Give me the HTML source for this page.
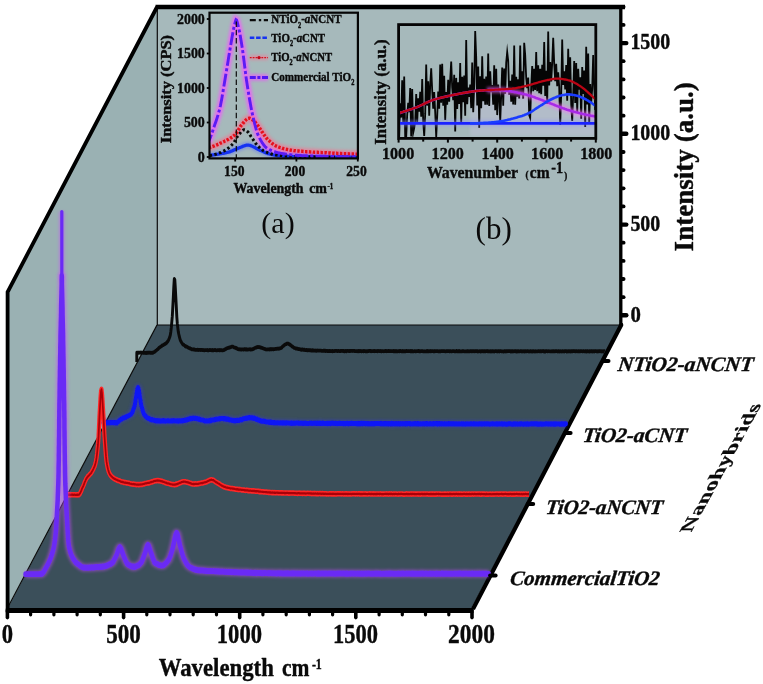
<!DOCTYPE html>
<html><head><meta charset="utf-8"><title>Raman</title>
<style>
html,body{margin:0;padding:0;background:#fff;}
svg{display:block;will-change:transform}
text{font-family:"Liberation Serif",serif;fill:#0a0a0a}
.b{font-weight:bold;stroke:#0a0a0a;stroke-width:0.4px;stroke-linejoin:round}
.bi{font-weight:bold;font-style:italic;stroke:#0a0a0a;stroke-width:0.4px;stroke-linejoin:round}
</style></head><body>
<svg width="763" height="684" viewBox="0 0 763 684">
<defs>
<filter id="bl" filterUnits="userSpaceOnUse" x="0" y="0" width="763" height="684"><feGaussianBlur stdDeviation="0.6"/></filter>
<filter id="bl2" filterUnits="userSpaceOnUse" x="0" y="0" width="763" height="684"><feGaussianBlur stdDeviation="1.6"/></filter>
</defs>
<rect width="763" height="684" fill="#fff"/>

<polygon points="7.5,292 157,6 157.5,6 157.5,330 100,609 7.5,609" fill="#9ab1b3"/>
<rect x="157" y="6" width="463.5" height="321" fill="#a6b9bb"/>
<polygon points="157,325 620.5,325 471,609 7.5,609" fill="#3b4f5a"/>
<path d="M157.3,6 V325 H620" fill="none" stroke="#0a0a0a" stroke-width="1.2"/>
<path d="M157,325 L7.5,608" fill="none" stroke="#0a0a0a" stroke-width="1.2"/>
<path d="M7.6,612 V292 L157,7 " fill="none" stroke="#000" stroke-width="3.8" stroke-linejoin="miter"/>
<path d="M620.8,5 V325" fill="none" stroke="#000" stroke-width="3.3"/>
<path d="M620.8,323.5 L621.2,325 L473,609" fill="none" stroke="#000" stroke-width="4.2" stroke-linejoin="round"/>
<path d="M155.5,7.1 H625" fill="none" stroke="#000" stroke-width="4.5"/>
<path d="M5.9,610.4 H473.5" fill="none" stroke="#000" stroke-width="5"/>
<path transform="scale(1,1.3)" d="M136.8,278.46 L136.8,271.32 L137.3,271.25 L137.8,271.44 L138.3,271.22 L138.8,271.40 L139.3,271.33 L139.8,271.21 L140.3,271.39 L140.8,271.21 L141.3,271.36 L141.8,271.22 L142.3,271.23 L142.8,271.36 L143.3,271.51 L143.8,271.24 L144.3,271.28 L144.8,271.43 L145.3,271.56 L145.8,271.41 L146.3,271.34 L146.8,271.57 L147.3,271.21 L147.8,271.52 L148.3,271.30 L148.8,271.25 L149.3,271.24 L149.8,271.31 L150.3,271.51 L150.8,271.26 L151.3,271.42 L151.8,271.44 L152.3,271.34 L152.8,271.38 L153.3,271.08 L153.8,270.88 L154.3,270.68 L154.8,270.55 L155.3,270.13 L155.8,269.75 L156.3,269.54 L156.8,269.19 L157.3,268.81 L157.8,268.66 L158.3,268.27 L158.8,267.74 L159.3,267.51 L159.8,267.16 L160.3,266.97 L160.8,266.63 L161.3,266.20 L161.8,266.23 L162.3,265.68 L162.8,265.59 L163.3,265.51 L163.8,265.07 L164.3,264.97 L164.8,264.56 L165.3,264.54 L165.8,264.28 L166.3,263.88 L166.8,263.62 L167.3,262.97 L167.8,262.60 L168.3,261.93 L168.8,261.16 L169.3,260.18 L169.8,259.21 L170.3,257.84 L170.8,255.27 L171.3,251.99 L171.8,247.66 L172.3,243.18 L172.8,236.03 L173.3,228.79 L173.8,220.71 L174.3,214.52 L174.8,215.14 L175.3,221.26 L175.8,228.49 L176.3,235.85 L176.8,243.55 L177.3,248.86 L177.8,252.26 L178.3,255.26 L178.8,257.14 L179.3,258.82 L179.8,260.27 L180.3,261.64 L180.8,262.31 L181.3,263.17 L181.8,263.75 L182.3,264.35 L182.8,264.75 L183.3,265.15 L183.8,265.26 L184.3,265.62 L184.8,265.88 L185.3,266.33 L185.8,266.60 L186.3,266.51 L186.8,266.73 L187.3,266.96 L187.8,267.16 L188.3,267.46 L188.8,267.68 L189.3,267.74 L189.8,267.81 L190.3,268.13 L190.8,268.25 L191.3,268.46 L191.8,268.72 L192.3,268.72 L192.8,268.73 L193.3,268.82 L193.8,268.90 L194.3,268.71 L194.8,269.08 L195.3,269.08 L195.8,269.16 L196.3,269.17 L196.8,269.06 L197.3,269.10 L197.8,269.02 L198.3,269.26 L198.8,269.07 L199.3,269.10 L199.8,269.18 L200.3,269.18 L200.8,269.27 L201.3,269.18 L201.8,269.17 L202.3,269.24 L202.8,269.23 L203.3,269.33 L203.8,269.20 L204.3,269.53 L204.8,269.43 L205.3,269.25 L205.8,269.29 L206.3,269.33 L206.8,269.33 L207.3,269.24 L207.8,269.52 L208.3,269.57 L208.8,269.37 L209.3,269.38 L209.8,269.23 L210.3,269.23 L210.8,269.32 L211.3,269.29 L211.8,269.51 L212.3,269.25 L212.8,269.20 L213.3,269.56 L213.8,269.40 L214.3,269.25 L214.8,269.40 L215.3,269.20 L215.8,269.40 L216.3,269.57 L216.8,269.52 L217.3,269.46 L217.8,269.29 L218.3,269.33 L218.8,269.26 L219.3,269.49 L219.8,269.40 L220.3,269.49 L220.8,269.32 L221.3,269.28 L221.8,269.50 L222.3,269.56 L222.8,269.47 L223.3,269.38 L223.8,269.28 L224.3,269.13 L224.8,268.78 L225.3,268.72 L225.8,268.48 L226.3,268.17 L226.8,267.97 L227.3,267.87 L227.8,267.67 L228.3,267.65 L228.8,267.58 L229.3,267.22 L229.8,267.26 L230.3,267.16 L230.8,267.05 L231.3,266.75 L231.8,266.66 L232.3,266.67 L232.8,266.70 L233.3,266.79 L233.8,267.06 L234.3,267.30 L234.8,267.43 L235.3,267.46 L235.8,267.70 L236.3,267.94 L236.8,267.84 L237.3,268.24 L237.8,268.49 L238.3,268.59 L238.8,268.69 L239.3,268.68 L239.8,268.62 L240.3,268.88 L240.8,268.70 L241.3,268.88 L241.8,268.95 L242.3,268.73 L242.8,268.73 L243.3,268.94 L243.8,268.86 L244.3,268.64 L244.8,268.63 L245.3,268.64 L245.8,268.92 L246.3,268.89 L246.8,268.63 L247.3,268.89 L247.8,268.95 L248.3,268.83 L248.8,268.71 L249.3,268.79 L249.8,268.63 L250.3,268.58 L250.8,268.95 L251.3,268.81 L251.8,268.70 L252.3,268.76 L252.8,268.45 L253.3,268.47 L253.8,268.30 L254.3,267.89 L254.8,267.73 L255.3,267.57 L255.8,267.39 L256.3,267.36 L256.8,267.10 L257.3,267.05 L257.8,266.85 L258.3,267.09 L258.8,266.87 L259.3,266.94 L259.8,267.05 L260.3,267.28 L260.8,267.22 L261.3,267.56 L261.8,267.57 L262.3,267.75 L262.8,267.93 L263.3,267.91 L263.8,268.24 L264.3,268.29 L264.8,268.35 L265.3,268.77 L265.8,268.60 L266.3,268.76 L266.8,268.86 L267.3,268.79 L267.8,268.69 L268.3,268.76 L268.8,268.77 L269.3,268.84 L269.8,268.57 L270.3,268.72 L270.8,268.59 L271.3,268.58 L271.8,268.74 L272.3,268.62 L272.8,268.61 L273.3,268.66 L273.8,268.68 L274.3,268.47 L274.8,268.50 L275.3,268.42 L275.8,268.38 L276.3,268.41 L276.8,268.27 L277.3,268.26 L277.8,268.19 L278.3,268.32 L278.8,268.17 L279.3,268.19 L279.8,268.16 L280.3,267.79 L280.8,267.73 L281.3,267.66 L281.8,267.35 L282.3,266.77 L282.8,266.44 L283.3,266.23 L283.8,265.74 L284.3,265.48 L284.8,265.10 L285.3,265.04 L285.8,264.83 L286.3,264.68 L286.8,264.25 L287.3,264.40 L287.8,264.38 L288.3,264.26 L288.8,264.69 L289.3,264.92 L289.8,264.87 L290.3,265.43 L290.8,265.52 L291.3,265.87 L291.8,266.39 L292.3,266.66 L292.8,266.72 L293.3,267.12 L293.8,267.43 L294.3,267.60 L294.8,267.73 L295.3,267.91 L295.8,268.16 L296.3,267.97 L296.8,268.26 L297.3,268.30 L297.8,268.21 L298.3,268.40 L298.8,268.59 L299.3,268.61 L299.8,268.50 L300.3,268.92 L300.8,268.90 L301.3,269.03 L301.8,268.75 L302.3,268.86 L302.8,268.82 L303.3,269.15 L303.8,268.99 L304.3,268.98 L304.8,269.13 L305.3,269.36 L305.8,269.36 L306.3,269.17 L306.8,269.16 L307.3,269.48 L307.8,269.38 L308.3,269.45 L308.8,269.24 L309.3,269.25 L309.8,269.52 L310.3,269.44 L310.8,269.33 L311.3,269.68 L311.8,269.59 L312.3,269.67 L312.8,269.42 L313.3,269.73 L313.8,269.45 L314.3,269.78 L314.8,269.64 L315.3,269.62 L315.8,269.72 L316.3,269.88 L316.8,269.64 L317.3,269.61 L317.8,269.78 L318.3,269.68 L318.8,269.65 L319.3,269.68 L319.8,269.66 L320.3,269.73 L320.8,269.79 L321.3,269.80 L321.8,269.98 L322.3,269.82 L322.8,269.91 L323.3,269.79 L323.8,269.87 L324.3,269.75 L324.8,269.85 L325.3,269.77 L325.8,270.05 L326.3,269.99 L326.8,269.86 L327.3,269.97 L327.8,270.15 L328.3,269.84 L328.8,270.12 L329.3,269.97 L329.8,270.00 L330.3,270.13 L330.8,269.96 L331.3,270.01 L331.8,270.08 L332.3,270.19 L332.8,269.95 L333.3,270.14 L333.8,270.09 L334.3,270.06 L334.8,269.97 L335.3,269.95 L335.8,269.84 L336.3,269.87 L336.8,269.85 L337.3,270.11 L337.8,269.92 L338.3,269.89 L338.8,269.86 L339.3,270.15 L339.8,270.16 L340.3,270.09 L340.8,269.94 L341.3,269.93 L341.8,269.95 L342.3,270.01 L342.8,269.90 L343.3,270.01 L343.8,269.94 L344.3,270.21 L344.8,270.21 L345.3,270.05 L345.8,269.94 L346.3,270.21 L346.8,269.96 L347.3,269.98 L347.8,269.85 L348.3,269.99 L348.8,270.03 L349.3,270.04 L349.8,269.93 L350.3,270.04 L350.8,269.85 L351.3,269.95 L351.8,269.89 L352.3,270.01 L352.8,269.87 L353.3,269.86 L353.8,269.97 L354.3,269.95 L354.8,270.08 L355.3,270.06 L355.8,270.15 L356.3,270.11 L356.8,270.14 L357.3,270.20 L357.8,270.01 L358.3,269.99 L358.8,270.25 L359.3,269.92 L359.8,270.15 L360.3,270.12 L360.8,269.89 L361.3,270.19 L361.8,270.21 L362.3,270.11 L362.8,270.16 L363.3,270.19 L363.8,269.93 L364.3,270.08 L364.8,270.07 L365.3,270.20 L365.8,270.19 L366.3,270.20 L366.8,270.11 L367.3,270.22 L367.8,270.14 L368.3,270.15 L368.8,269.97 L369.3,269.90 L369.8,269.94 L370.3,270.03 L370.8,269.93 L371.3,270.21 L371.8,270.10 L372.3,270.13 L372.8,270.13 L373.3,270.15 L373.8,270.08 L374.3,269.89 L374.8,270.20 L375.3,270.18 L375.8,270.09 L376.3,270.10 L376.8,270.15 L377.3,269.92 L377.8,270.18 L378.3,270.00 L378.8,269.93 L379.3,270.00 L379.8,270.18 L380.3,269.98 L380.8,270.19 L381.3,270.28 L381.8,270.10 L382.3,270.05 L382.8,270.09 L383.3,270.17 L383.8,270.20 L384.3,270.15 L384.8,270.16 L385.3,269.94 L385.8,269.97 L386.3,270.01 L386.8,270.20 L387.3,270.03 L387.8,270.13 L388.3,269.92 L388.8,269.94 L389.3,270.02 L389.8,270.18 L390.3,270.18 L390.8,270.18 L391.3,270.03 L391.8,270.12 L392.3,270.10 L392.8,270.10 L393.3,269.97 L393.8,270.27 L394.3,270.00 L394.8,270.30 L395.3,270.29 L395.8,269.93 L396.3,270.10 L396.8,270.24 L397.3,270.30 L397.8,270.10 L398.3,270.03 L398.8,270.01 L399.3,270.29 L399.8,270.01 L400.3,270.16 L400.8,269.99 L401.3,270.14 L401.8,270.30 L402.3,269.99 L402.8,270.25 L403.3,270.13 L403.8,270.28 L404.3,270.21 L404.8,270.03 L405.3,270.28 L405.8,270.13 L406.3,269.95 L406.8,269.94 L407.3,270.13 L407.8,270.12 L408.3,270.06 L408.8,270.00 L409.3,270.08 L409.8,270.07 L410.3,270.27 L410.8,269.95 L411.3,270.24 L411.8,270.27 L412.3,269.99 L412.8,270.30 L413.3,270.22 L413.8,270.30 L414.3,270.06 L414.8,270.09 L415.3,270.10 L415.8,270.34 L416.3,270.18 L416.8,270.09 L417.3,270.12 L417.8,270.06 L418.3,269.97 L418.8,269.99 L419.3,270.28 L419.8,270.07 L420.3,270.32 L420.8,270.05 L421.3,270.06 L421.8,270.16 L422.3,270.03 L422.8,270.10 L423.3,270.33 L423.8,270.30 L424.3,270.27 L424.8,270.20 L425.3,270.31 L425.8,270.32 L426.3,270.17 L426.8,270.24 L427.3,269.98 L427.8,270.25 L428.3,270.14 L428.8,270.26 L429.3,270.21 L429.8,270.08 L430.3,269.99 L430.8,270.32 L431.3,270.02 L431.8,270.15 L432.3,270.10 L432.8,270.08 L433.3,270.26 L433.8,270.35 L434.3,270.07 L434.8,270.22 L435.3,270.09 L435.8,270.19 L436.3,270.13 L436.8,270.04 L437.3,270.04 L437.8,270.06 L438.3,270.32 L438.8,270.17 L439.3,270.06 L439.8,270.33 L440.3,270.36 L440.8,270.15 L441.3,270.03 L441.8,270.05 L442.3,270.01 L442.8,270.11 L443.3,270.02 L443.8,270.07 L444.3,270.08 L444.8,270.20 L445.3,270.32 L445.8,270.27 L446.3,270.14 L446.8,270.14 L447.3,270.19 L447.8,270.13 L448.3,270.11 L448.8,270.01 L449.3,270.09 L449.8,270.36 L450.3,270.03 L450.8,270.18 L451.3,270.23 L451.8,270.32 L452.3,270.07 L452.8,270.09 L453.3,270.08 L453.8,270.14 L454.3,270.16 L454.8,270.36 L455.3,270.32 L455.8,270.33 L456.3,270.00 L456.8,270.00 L457.3,270.27 L457.8,270.34 L458.3,270.18 L458.8,270.22 L459.3,269.99 L459.8,270.14 L460.3,270.35 L460.8,270.31 L461.3,270.32 L461.8,270.37 L462.3,270.09 L462.8,270.04 L463.3,270.06 L463.8,270.20 L464.3,270.26 L464.8,270.36 L465.3,270.28 L465.8,270.25 L466.3,270.29 L466.8,270.18 L467.3,270.21 L467.8,270.02 L468.3,270.30 L468.8,270.09 L469.3,270.35 L469.8,270.25 L470.3,270.12 L470.8,270.05 L471.3,270.10 L471.8,270.25 L472.3,270.27 L472.8,270.05 L473.3,270.03 L473.8,270.21 L474.3,270.23 L474.8,270.15 L475.3,270.09 L475.8,270.24 L476.3,270.01 L476.8,270.12 L477.3,270.18 L477.8,270.38 L478.3,270.25 L478.8,270.35 L479.3,270.19 L479.8,270.10 L480.3,270.10 L480.8,270.38 L481.3,270.28 L481.8,270.13 L482.3,270.02 L482.8,270.20 L483.3,270.27 L483.8,270.17 L484.3,270.11 L484.8,270.27 L485.3,270.37 L485.8,270.10 L486.3,270.02 L486.8,270.14 L487.3,270.17 L487.8,270.27 L488.3,270.09 L488.8,270.32 L489.3,270.30 L489.8,270.21 L490.3,270.09 L490.8,270.39 L491.3,270.13 L491.8,270.33 L492.3,270.10 L492.8,270.10 L493.3,270.31 L493.8,270.13 L494.3,270.38 L494.8,270.21 L495.3,270.09 L495.8,270.10 L496.3,270.18 L496.8,270.27 L497.3,270.38 L497.8,270.07 L498.3,270.17 L498.8,270.10 L499.3,270.39 L499.8,270.07 L500.3,270.04 L500.8,270.04 L501.3,270.17 L501.8,270.36 L502.3,270.36 L502.8,270.30 L503.3,270.40 L503.8,270.38 L504.3,270.15 L504.8,270.09 L505.3,270.38 L505.8,270.31 L506.3,270.03 L506.8,270.28 L507.3,270.17 L507.8,270.17 L508.3,270.15 L508.8,270.09 L509.3,270.02 L509.8,270.13 L510.3,270.16 L510.8,270.39 L511.3,270.07 L511.8,270.39 L512.3,270.10 L512.8,270.16 L513.3,270.34 L513.8,270.34 L514.3,270.19 L514.8,270.04 L515.3,270.21 L515.8,270.17 L516.3,270.38 L516.8,270.10 L517.3,270.17 L517.8,270.37 L518.3,270.04 L518.8,270.18 L519.3,270.34 L519.8,270.32 L520.3,270.04 L520.8,270.04 L521.3,270.05 L521.8,270.38 L522.3,270.13 L522.8,270.31 L523.3,270.37 L523.8,270.16 L524.3,270.13 L524.8,270.40 L525.3,270.27 L525.8,270.13 L526.3,270.30 L526.8,270.15 L527.3,270.13 L527.8,270.03 L528.3,270.32 L528.8,270.38 L529.3,270.27 L529.8,270.39 L530.3,270.04 L530.8,270.12 L531.3,270.21 L531.8,270.40 L532.3,270.40 L532.8,270.18 L533.3,270.13 L533.8,270.20 L534.3,270.22 L534.8,270.39 L535.3,270.10 L535.8,270.34 L536.3,270.32 L536.8,270.35 L537.3,270.33 L537.8,270.27 L538.3,270.16 L538.8,270.15 L539.3,270.17 L539.8,270.33 L540.3,270.06 L540.8,270.11 L541.3,270.32 L541.8,270.13 L542.3,270.06 L542.8,270.05 L543.3,270.25 L543.8,270.16 L544.3,270.41 L544.8,270.37 L545.3,270.41 L545.8,270.14 L546.3,270.07 L546.8,270.07 L547.3,270.23 L547.8,270.31 L548.3,270.21 L548.8,270.12 L549.3,270.19 L549.8,270.27 L550.3,270.29 L550.8,270.32 L551.3,270.36 L551.8,270.29 L552.3,270.08 L552.8,270.36 L553.3,270.15 L553.8,270.25 L554.3,270.18 L554.8,270.32 L555.3,270.11 L555.8,270.13 L556.3,270.13 L556.8,270.09 L557.3,270.38 L557.8,270.26 L558.3,270.16 L558.8,270.19 L559.3,270.42 L559.8,270.23 L560.3,270.12 L560.8,270.35 L561.3,270.29 L561.8,270.42 L562.3,270.08 L562.8,270.22 L563.3,270.35 L563.8,270.36 L564.3,270.39 L564.8,270.05 L565.3,270.15 L565.8,270.08 L566.3,270.11 L566.8,270.41 L567.3,270.26 L567.8,270.39 L568.3,270.18 L568.8,270.37 L569.3,270.21 L569.8,270.14 L570.3,270.34 L570.8,270.40 L571.3,270.08 L571.8,270.27 L572.3,270.28 L572.8,270.12 L573.3,270.18 L573.8,270.09 L574.3,270.12 L574.8,270.14 L575.3,270.27 L575.8,270.29 L576.3,270.12 L576.8,270.04 L577.3,270.16 L577.8,270.30 L578.3,270.11 L578.8,270.16 L579.3,270.12 L579.8,270.34 L580.3,270.25 L580.8,270.06 L581.3,270.08 L581.8,270.19 L582.3,270.25 L582.8,270.28 L583.3,270.07 L583.8,270.10 L584.3,270.31 L584.8,270.20 L585.3,270.15 L585.8,270.16 L586.3,270.40 L586.8,270.16 L587.3,270.26 L587.8,270.18 L588.3,270.20 L588.8,270.37 L589.3,270.42 L589.8,270.18 L590.3,270.11 L590.8,270.32 L591.3,270.12 L591.8,270.04 L592.3,270.39 L592.8,270.20 L593.3,270.35 L593.8,270.19 L594.3,270.38 L594.8,270.22 L595.3,270.10 L595.8,270.04 L596.3,270.25 L596.8,270.28 L597.3,270.39 L597.8,270.07 L598.3,270.28 L598.8,270.18 L599.3,270.23 L599.8,270.09 L600.3,270.15 L600.8,270.24 L601.3,270.39 L601.8,270.08 L602.3,270.23 L602.8,270.35 L603.3,270.41 L603.8,270.11 L604.3,270.09 L604.8,270.40" fill="none" stroke="#0a0a0a" stroke-width="2.9" stroke-linejoin="round"/>
<path d="M103.5,423.0 L104.0,422.7 L104.5,422.4 L105.0,423.0 L105.5,422.6 L106.0,422.9 L106.5,422.8 L107.0,422.9 L107.5,422.5 L108.0,422.9 L108.5,422.5 L109.0,422.6 L109.5,422.9 L110.0,422.9 L110.5,422.5 L111.0,422.5 L111.5,422.6 L112.0,422.7 L112.5,422.6 L113.0,422.5 L113.5,422.5 L114.0,422.8 L114.5,422.9 L115.0,422.4 L115.5,422.7 L116.0,422.9 L116.5,422.4 L117.0,422.8 L117.5,422.1 L118.0,422.0 L118.5,421.5 L119.0,421.0 L119.5,420.3 L120.0,419.9 L120.5,419.6 L121.0,419.3 L121.5,419.1 L122.0,418.7 L122.5,418.5 L123.0,418.0 L123.5,418.1 L124.0,417.8 L124.5,417.5 L125.0,417.5 L125.5,417.3 L126.0,416.9 L126.5,416.5 L127.0,416.4 L127.5,416.0 L128.0,415.8 L128.5,415.8 L129.0,415.4 L129.5,415.3 L130.0,415.1 L130.5,414.4 L131.0,414.4 L131.5,413.5 L132.0,413.0 L132.5,412.0 L133.0,410.6 L133.5,409.0 L134.0,407.7 L134.5,406.1 L135.0,404.1 L135.5,400.6 L136.0,397.5 L136.5,394.2 L137.0,391.0 L137.5,388.9 L138.0,387.4 L138.5,388.5 L139.0,390.5 L139.5,394.1 L140.0,397.8 L140.5,400.9 L141.0,404.0 L141.5,406.2 L142.0,407.7 L142.5,409.8 L143.0,411.8 L143.5,412.9 L144.0,414.4 L144.5,414.7 L145.0,415.7 L145.5,415.9 L146.0,416.7 L146.5,417.4 L147.0,417.5 L147.5,417.9 L148.0,418.3 L148.5,418.5 L149.0,418.6 L149.5,418.8 L150.0,419.0 L150.5,419.6 L151.0,419.6 L151.5,419.9 L152.0,419.6 L152.5,420.1 L153.0,419.8 L153.5,420.2 L154.0,420.3 L154.5,420.3 L155.0,420.7 L155.5,420.6 L156.0,420.7 L156.5,420.9 L157.0,420.5 L157.5,421.1 L158.0,420.9 L158.5,420.8 L159.0,421.1 L159.5,420.8 L160.0,421.2 L160.5,420.9 L161.0,420.8 L161.5,421.1 L162.0,420.9 L162.5,420.7 L163.0,421.0 L163.5,420.6 L164.0,421.1 L164.5,420.8 L165.0,421.0 L165.5,421.2 L166.0,421.0 L166.5,421.0 L167.0,420.8 L167.5,420.6 L168.0,420.6 L168.5,420.7 L169.0,421.0 L169.5,420.9 L170.0,420.9 L170.5,421.1 L171.0,420.7 L171.5,420.7 L172.0,421.0 L172.5,420.6 L173.0,420.6 L173.5,420.8 L174.0,420.7 L174.5,420.8 L175.0,420.7 L175.5,421.0 L176.0,421.0 L176.5,420.7 L177.0,421.0 L177.5,420.9 L178.0,420.7 L178.5,421.2 L179.0,420.7 L179.5,420.7 L180.0,420.7 L180.5,421.0 L181.0,421.1 L181.5,421.0 L182.0,420.8 L182.5,420.6 L183.0,420.4 L183.5,420.7 L184.0,420.5 L184.5,420.3 L185.0,420.4 L185.5,420.1 L186.0,420.3 L186.5,420.0 L187.0,419.6 L187.5,419.8 L188.0,419.1 L188.5,419.3 L189.0,419.1 L189.5,418.8 L190.0,418.6 L190.5,418.9 L191.0,418.3 L191.5,418.6 L192.0,418.7 L192.5,418.2 L193.0,418.2 L193.5,418.4 L194.0,418.3 L194.5,418.4 L195.0,418.5 L195.5,418.2 L196.0,418.4 L196.5,418.4 L197.0,418.4 L197.5,419.0 L198.0,419.1 L198.5,419.2 L199.0,418.9 L199.5,419.5 L200.0,419.6 L200.5,419.6 L201.0,419.9 L201.5,419.9 L202.0,419.9 L202.5,420.0 L203.0,420.2 L203.5,420.2 L204.0,420.5 L204.5,420.8 L205.0,420.9 L205.5,421.0 L206.0,421.0 L206.5,420.7 L207.0,420.9 L207.5,420.9 L208.0,421.0 L208.5,420.8 L209.0,420.6 L209.5,420.8 L210.0,420.9 L210.5,420.4 L211.0,420.7 L211.5,420.1 L212.0,420.1 L212.5,420.0 L213.0,420.1 L213.5,420.1 L214.0,419.9 L214.5,419.5 L215.0,419.7 L215.5,419.3 L216.0,419.1 L216.5,419.4 L217.0,419.1 L217.5,419.0 L218.0,418.9 L218.5,419.0 L219.0,418.7 L219.5,418.8 L220.0,418.7 L220.5,418.7 L221.0,418.5 L221.5,418.6 L222.0,418.6 L222.5,418.4 L223.0,418.4 L223.5,418.7 L224.0,418.4 L224.5,419.0 L225.0,418.6 L225.5,418.6 L226.0,418.8 L226.5,419.4 L227.0,419.1 L227.5,419.1 L228.0,419.1 L228.5,419.2 L229.0,419.7 L229.5,419.8 L230.0,420.0 L230.5,420.1 L231.0,419.8 L231.5,420.2 L232.0,420.1 L232.5,420.5 L233.0,420.6 L233.5,420.7 L234.0,420.2 L234.5,420.8 L235.0,420.8 L235.5,420.9 L236.0,420.4 L236.5,420.4 L237.0,420.3 L237.5,420.2 L238.0,420.6 L238.5,420.5 L239.0,420.3 L239.5,420.3 L240.0,420.1 L240.5,419.8 L241.0,419.5 L241.5,419.4 L242.0,419.6 L242.5,419.2 L243.0,419.1 L243.5,419.0 L244.0,418.6 L244.5,418.6 L245.0,418.5 L245.5,418.6 L246.0,418.2 L246.5,418.1 L247.0,418.4 L247.5,418.0 L248.0,418.1 L248.5,417.9 L249.0,417.5 L249.5,417.7 L250.0,417.7 L250.5,417.9 L251.0,417.6 L251.5,417.9 L252.0,417.9 L252.5,417.8 L253.0,418.3 L253.5,417.9 L254.0,418.5 L254.5,418.3 L255.0,418.4 L255.5,418.7 L256.0,419.2 L256.5,419.5 L257.0,419.1 L257.5,419.6 L258.0,419.8 L258.5,420.2 L259.0,420.0 L259.5,420.3 L260.0,420.4 L260.5,420.8 L261.0,420.6 L261.5,421.2 L262.0,420.9 L262.5,420.9 L263.0,421.3 L263.5,421.3 L264.0,421.1 L264.5,421.5 L265.0,421.3 L265.5,421.8 L266.0,421.8 L266.5,421.9 L267.0,421.9 L267.5,421.8 L268.0,421.9 L268.5,422.0 L269.0,422.4 L269.5,422.0 L270.0,422.5 L270.5,422.1 L271.0,422.2 L271.5,422.3 L272.0,422.7 L272.5,422.5 L273.0,422.5 L273.5,422.9 L274.0,422.5 L274.5,422.7 L275.0,422.7 L275.5,422.9 L276.0,422.9 L276.5,422.8 L277.0,422.7 L277.5,422.7 L278.0,422.6 L278.5,423.0 L279.0,422.9 L279.5,423.0 L280.0,422.7 L280.5,422.8 L281.0,423.1 L281.5,423.0 L282.0,422.7 L282.5,422.9 L283.0,423.2 L283.5,422.8 L284.0,422.8 L284.5,422.9 L285.0,423.1 L285.5,423.2 L286.0,422.8 L286.5,422.8 L287.0,422.9 L287.5,422.9 L288.0,423.1 L288.5,422.9 L289.0,423.0 L289.5,422.9 L290.0,423.4 L290.5,423.2 L291.0,422.9 L291.5,423.4 L292.0,422.9 L292.5,423.1 L293.0,423.4 L293.5,423.3 L294.0,423.3 L294.5,423.1 L295.0,423.0 L295.5,423.2 L296.0,422.9 L296.5,423.0 L297.0,423.1 L297.5,422.9 L298.0,423.1 L298.5,423.4 L299.0,423.3 L299.5,423.2 L300.0,423.3 L300.5,423.2 L301.0,423.0 L301.5,423.3 L302.0,423.2 L302.5,423.4 L303.0,423.5 L303.5,423.2 L304.0,423.3 L304.5,423.4 L305.0,423.2 L305.5,423.1 L306.0,423.4 L306.5,423.5 L307.0,423.4 L307.5,423.4 L308.0,423.5 L308.5,423.4 L309.0,423.3 L309.5,423.2 L310.0,423.2 L310.5,423.3 L311.0,423.0 L311.5,423.2 L312.0,423.4 L312.5,423.4 L313.0,423.4 L313.5,423.1 L314.0,423.2 L314.5,423.3 L315.0,423.4 L315.5,423.2 L316.0,423.4 L316.5,423.6 L317.0,423.1 L317.5,423.4 L318.0,423.5 L318.5,423.2 L319.0,423.3 L319.5,423.6 L320.0,423.0 L320.5,423.4 L321.0,423.1 L321.5,423.5 L322.0,423.6 L322.5,423.4 L323.0,423.1 L323.5,423.4 L324.0,423.4 L324.5,423.5 L325.0,423.4 L325.5,423.4 L326.0,423.6 L326.5,423.4 L327.0,423.3 L327.5,423.6 L328.0,423.2 L328.5,423.5 L329.0,423.3 L329.5,423.5 L330.0,423.2 L330.5,423.7 L331.0,423.3 L331.5,423.1 L332.0,423.3 L332.5,423.3 L333.0,423.1 L333.5,423.4 L334.0,423.4 L334.5,423.5 L335.0,423.3 L335.5,423.3 L336.0,423.3 L336.5,423.6 L337.0,423.7 L337.5,423.4 L338.0,423.3 L338.5,423.6 L339.0,423.4 L339.5,423.3 L340.0,423.2 L340.5,423.6 L341.0,423.6 L341.5,423.5 L342.0,423.4 L342.5,423.5 L343.0,423.3 L343.5,423.7 L344.0,423.4 L344.5,423.5 L345.0,423.7 L345.5,423.7 L346.0,423.5 L346.5,423.3 L347.0,423.5 L347.5,423.3 L348.0,423.7 L348.5,423.4 L349.0,423.7 L349.5,423.3 L350.0,423.4 L350.5,423.3 L351.0,423.5 L351.5,423.3 L352.0,423.2 L352.5,423.6 L353.0,423.4 L353.5,423.4 L354.0,423.4 L354.5,423.5 L355.0,423.5 L355.5,423.6 L356.0,423.6 L356.5,423.4 L357.0,423.8 L357.5,423.7 L358.0,423.3 L358.5,423.7 L359.0,423.8 L359.5,423.7 L360.0,423.3 L360.5,423.7 L361.0,423.6 L361.5,423.3 L362.0,423.3 L362.5,423.8 L363.0,423.6 L363.5,423.4 L364.0,423.3 L364.5,423.3 L365.0,423.4 L365.5,423.7 L366.0,423.5 L366.5,423.4 L367.0,423.8 L367.5,423.8 L368.0,423.4 L368.5,423.8 L369.0,423.6 L369.5,423.8 L370.0,423.7 L370.5,423.8 L371.0,423.8 L371.5,423.8 L372.0,423.4 L372.5,423.7 L373.0,423.6 L373.5,423.7 L374.0,423.6 L374.5,423.8 L375.0,423.6 L375.5,423.5 L376.0,423.5 L376.5,423.4 L377.0,423.6 L377.5,423.4 L378.0,423.6 L378.5,423.4 L379.0,423.6 L379.5,423.6 L380.0,423.7 L380.5,423.9 L381.0,423.3 L381.5,423.8 L382.0,423.6 L382.5,423.7 L383.0,423.7 L383.5,423.8 L384.0,423.6 L384.5,423.6 L385.0,423.9 L385.5,423.4 L386.0,423.7 L386.5,423.7 L387.0,423.4 L387.5,423.7 L388.0,423.8 L388.5,423.9 L389.0,423.6 L389.5,424.0 L390.0,423.7 L390.5,423.7 L391.0,423.9 L391.5,423.4 L392.0,423.8 L392.5,423.8 L393.0,423.6 L393.5,423.9 L394.0,423.6 L394.5,423.7 L395.0,423.7 L395.5,423.9 L396.0,423.5 L396.5,423.7 L397.0,423.7 L397.5,423.7 L398.0,423.9 L398.5,423.6 L399.0,423.9 L399.5,423.7 L400.0,423.7 L400.5,423.6 L401.0,423.7 L401.5,424.0 L402.0,423.8 L402.5,423.9 L403.0,423.6 L403.5,423.6 L404.0,423.6 L404.5,423.8 L405.0,423.8 L405.5,423.9 L406.0,423.5 L406.5,423.9 L407.0,424.0 L407.5,423.8 L408.0,423.5 L408.5,423.6 L409.0,423.4 L409.5,423.6 L410.0,424.0 L410.5,423.8 L411.0,423.8 L411.5,423.9 L412.0,424.0 L412.5,423.8 L413.0,423.8 L413.5,423.8 L414.0,423.9 L414.5,423.8 L415.0,423.9 L415.5,423.6 L416.0,423.9 L416.5,423.7 L417.0,423.9 L417.5,423.5 L418.0,423.6 L418.5,423.5 L419.0,423.9 L419.5,424.0 L420.0,423.9 L420.5,423.7 L421.0,424.0 L421.5,424.0 L422.0,423.8 L422.5,423.6 L423.0,423.7 L423.5,423.7 L424.0,423.7 L424.5,423.8 L425.0,423.9 L425.5,424.1 L426.0,423.5 L426.5,423.8 L427.0,423.5 L427.5,423.6 L428.0,424.0 L428.5,423.9 L429.0,424.1 L429.5,423.8 L430.0,423.5 L430.5,423.7 L431.0,423.9 L431.5,424.1 L432.0,424.1 L432.5,423.8 L433.0,423.8 L433.5,423.6 L434.0,423.9 L434.5,423.7 L435.0,423.6 L435.5,423.5 L436.0,423.5 L436.5,423.9 L437.0,423.6 L437.5,424.1 L438.0,423.6 L438.5,424.1 L439.0,423.6 L439.5,423.5 L440.0,424.0 L440.5,423.7 L441.0,424.0 L441.5,423.7 L442.0,423.6 L442.5,424.0 L443.0,424.0 L443.5,424.1 L444.0,424.0 L444.5,423.6 L445.0,423.9 L445.5,424.0 L446.0,423.8 L446.5,424.1 L447.0,423.7 L447.5,424.1 L448.0,424.0 L448.5,423.6 L449.0,423.6 L449.5,424.0 L450.0,424.1 L450.5,423.6 L451.0,423.8 L451.5,424.0 L452.0,423.7 L452.5,424.1 L453.0,423.9 L453.5,423.6 L454.0,423.8 L454.5,423.9 L455.0,423.8 L455.5,424.0 L456.0,423.7 L456.5,424.1 L457.0,423.8 L457.5,424.0 L458.0,424.0 L458.5,423.8 L459.0,423.8 L459.5,424.1 L460.0,424.2 L460.5,424.1 L461.0,423.9 L461.5,423.8 L462.0,423.6 L462.5,424.2 L463.0,424.0 L463.5,424.1 L464.0,423.8 L464.5,424.0 L465.0,424.2 L465.5,424.1 L466.0,424.0 L466.5,423.8 L467.0,423.9 L467.5,424.1 L468.0,423.8 L468.5,424.0 L469.0,424.0 L469.5,424.1 L470.0,424.1 L470.5,423.8 L471.0,423.6 L471.5,423.8 L472.0,423.9 L472.5,424.0 L473.0,424.1 L473.5,424.1 L474.0,423.6 L474.5,424.1 L475.0,424.1 L475.5,424.1 L476.0,424.0 L476.5,423.8 L477.0,424.1 L477.5,424.1 L478.0,424.0 L478.5,424.2 L479.0,423.8 L479.5,423.7 L480.0,424.0 L480.5,424.1 L481.0,423.7 L481.5,424.1 L482.0,424.2 L482.5,423.8 L483.0,424.0 L483.5,424.0 L484.0,423.9 L484.5,423.8 L485.0,423.8 L485.5,424.1 L486.0,424.1 L486.5,423.9 L487.0,423.7 L487.5,424.1 L488.0,424.1 L488.5,423.8 L489.0,424.0 L489.5,424.2 L490.0,424.2 L490.5,424.0 L491.0,423.9 L491.5,424.0 L492.0,423.8 L492.5,423.8 L493.0,423.8 L493.5,424.1 L494.0,423.9 L494.5,424.0 L495.0,423.9 L495.5,424.0 L496.0,423.7 L496.5,423.7 L497.0,424.3 L497.5,423.9 L498.0,423.7 L498.5,424.0 L499.0,424.1 L499.5,423.8 L500.0,424.0 L500.5,423.9 L501.0,424.0 L501.5,423.7 L502.0,423.7 L502.5,424.3 L503.0,424.2 L503.5,424.0 L504.0,424.0 L504.5,423.8 L505.0,424.1 L505.5,423.9 L506.0,424.2 L506.5,424.1 L507.0,424.2 L507.5,424.2 L508.0,423.8 L508.5,423.7 L509.0,423.8 L509.5,423.8 L510.0,423.7 L510.5,423.7 L511.0,424.0 L511.5,424.2 L512.0,423.9 L512.5,424.2 L513.0,424.2 L513.5,423.7 L514.0,424.0 L514.5,423.9 L515.0,423.7 L515.5,424.3 L516.0,423.8 L516.5,424.0 L517.0,424.1 L517.5,424.3 L518.0,424.1 L518.5,423.9 L519.0,423.9 L519.5,423.8 L520.0,424.3 L520.5,424.3 L521.0,423.8 L521.5,423.7 L522.0,423.8 L522.5,423.9 L523.0,424.2 L523.5,424.2 L524.0,424.2 L524.5,423.7 L525.0,424.2 L525.5,424.1 L526.0,424.1 L526.5,424.3 L527.0,423.7 L527.5,423.8 L528.0,424.1 L528.5,424.3 L529.0,424.1 L529.5,423.9 L530.0,424.0 L530.5,424.1 L531.0,423.8 L531.5,423.9 L532.0,423.8 L532.5,423.8 L533.0,424.0 L533.5,423.8 L534.0,423.8 L534.5,423.8 L535.0,424.1 L535.5,423.7 L536.0,424.1 L536.5,423.8 L537.0,423.7 L537.5,424.2 L538.0,423.8 L538.5,424.3 L539.0,424.2 L539.5,424.2 L540.0,423.8 L540.5,424.0 L541.0,423.8 L541.5,424.3 L542.0,424.2 L542.5,424.1 L543.0,424.0 L543.5,423.9 L544.0,424.2 L544.5,424.0 L545.0,424.1 L545.5,423.8 L546.0,423.8 L546.5,423.7 L547.0,424.1 L547.5,424.0 L548.0,423.8 L548.5,424.2 L549.0,423.9 L549.5,423.9 L550.0,423.8 L550.5,423.9 L551.0,424.2 L551.5,423.9 L552.0,423.8 L552.5,424.0 L553.0,423.9 L553.5,424.2 L554.0,423.8 L554.5,424.3 L555.0,423.7 L555.5,424.2 L556.0,424.1 L556.5,423.8 L557.0,424.0 L557.5,423.9 L558.0,423.9 L558.5,423.8 L559.0,423.9 L559.5,424.3 L560.0,424.3 L560.5,424.3 L561.0,423.8 L561.5,423.9 L562.0,424.2 L562.5,423.7 L563.0,424.1 L563.5,423.9 L564.0,424.3 L564.5,423.7 L565.0,424.2 L565.5,423.9 L566.0,423.8" fill="none" stroke="#3030ee" stroke-width="6.5" stroke-linejoin="round" opacity="0.5" filter="url(#bl2)"/>
<g filter="url(#bl)"><path transform="scale(1,1.3)" d="M103.5,325.37 L104.0,325.15 L104.5,324.95 L105.0,325.35 L105.5,325.10 L106.0,325.34 L106.5,325.21 L107.0,325.30 L107.5,325.00 L108.0,325.29 L108.5,325.03 L109.0,325.11 L109.5,325.31 L110.0,325.31 L110.5,325.01 L111.0,325.02 L111.5,325.11 L112.0,325.16 L112.5,325.10 L113.0,324.98 L113.5,325.04 L114.0,325.26 L114.5,325.34 L115.0,324.94 L115.5,325.18 L116.0,325.27 L116.5,324.94 L117.0,325.26 L117.5,324.73 L118.0,324.65 L118.5,324.25 L119.0,323.88 L119.5,323.33 L120.0,323.02 L120.5,322.81 L121.0,322.51 L121.5,322.40 L122.0,322.11 L122.5,321.92 L123.0,321.55 L123.5,321.65 L124.0,321.41 L124.5,321.12 L125.0,321.19 L125.5,321.01 L126.0,320.67 L126.5,320.37 L127.0,320.35 L127.5,320.02 L128.0,319.88 L128.5,319.86 L129.0,319.52 L129.5,319.48 L130.0,319.28 L130.5,318.80 L131.0,318.76 L131.5,318.05 L132.0,317.71 L132.5,316.92 L133.0,315.85 L133.5,314.58 L134.0,313.65 L134.5,312.38 L135.0,310.86 L135.5,308.12 L136.0,305.80 L136.5,303.24 L137.0,300.80 L137.5,299.12 L138.0,298.04 L138.5,298.87 L139.0,300.38 L139.5,303.14 L140.0,305.99 L140.5,308.36 L141.0,310.75 L141.5,312.44 L142.0,313.64 L142.5,315.26 L143.0,316.78 L143.5,317.60 L144.0,318.75 L144.5,319.03 L145.0,319.79 L145.5,319.95 L146.0,320.54 L146.5,321.11 L147.0,321.12 L147.5,321.44 L148.0,321.81 L148.5,321.94 L149.0,321.98 L149.5,322.19 L150.0,322.30 L150.5,322.78 L151.0,322.77 L151.5,322.98 L152.0,322.75 L152.5,323.13 L153.0,322.92 L153.5,323.20 L154.0,323.33 L154.5,323.29 L155.0,323.59 L155.5,323.51 L156.0,323.58 L156.5,323.78 L157.0,323.46 L157.5,323.91 L158.0,323.78 L158.5,323.69 L159.0,323.90 L159.5,323.66 L160.0,324.00 L160.5,323.80 L161.0,323.70 L161.5,323.89 L162.0,323.74 L162.5,323.62 L163.0,323.88 L163.5,323.56 L164.0,323.92 L164.5,323.66 L165.0,323.83 L165.5,323.99 L166.0,323.81 L166.5,323.84 L167.0,323.68 L167.5,323.54 L168.0,323.55 L168.5,323.61 L169.0,323.82 L169.5,323.74 L170.0,323.78 L170.5,323.95 L171.0,323.60 L171.5,323.64 L172.0,323.84 L172.5,323.55 L173.0,323.54 L173.5,323.70 L174.0,323.59 L174.5,323.70 L175.0,323.64 L175.5,323.81 L176.0,323.81 L176.5,323.63 L177.0,323.83 L177.5,323.76 L178.0,323.60 L178.5,323.97 L179.0,323.65 L179.5,323.61 L180.0,323.58 L180.5,323.83 L181.0,323.94 L181.5,323.88 L182.0,323.68 L182.5,323.57 L183.0,323.39 L183.5,323.62 L184.0,323.50 L184.5,323.31 L185.0,323.35 L185.5,323.16 L186.0,323.28 L186.5,323.07 L187.0,322.73 L187.5,322.92 L188.0,322.41 L188.5,322.52 L189.0,322.36 L189.5,322.17 L190.0,321.99 L190.5,322.23 L191.0,321.79 L191.5,321.97 L192.0,322.09 L192.5,321.67 L193.0,321.66 L193.5,321.82 L194.0,321.77 L194.5,321.85 L195.0,321.95 L195.5,321.70 L196.0,321.82 L196.5,321.88 L197.0,321.84 L197.5,322.32 L198.0,322.36 L198.5,322.44 L199.0,322.21 L199.5,322.71 L200.0,322.78 L200.5,322.76 L201.0,323.01 L201.5,322.99 L202.0,322.99 L202.5,323.04 L203.0,323.20 L203.5,323.20 L204.0,323.43 L204.5,323.69 L205.0,323.73 L205.5,323.86 L206.0,323.83 L206.5,323.65 L207.0,323.79 L207.5,323.73 L208.0,323.88 L208.5,323.72 L209.0,323.56 L209.5,323.69 L210.0,323.78 L210.5,323.36 L211.0,323.60 L211.5,323.12 L212.0,323.15 L212.5,323.05 L213.0,323.19 L213.5,323.19 L214.0,323.00 L214.5,322.71 L215.0,322.87 L215.5,322.52 L216.0,322.39 L216.5,322.61 L217.0,322.40 L217.5,322.34 L218.0,322.26 L218.5,322.34 L219.0,322.05 L219.5,322.17 L220.0,322.06 L220.5,322.11 L221.0,321.90 L221.5,322.03 L222.0,321.96 L222.5,321.86 L223.0,321.84 L223.5,322.07 L224.0,321.87 L224.5,322.30 L225.0,322.01 L225.5,322.02 L226.0,322.13 L226.5,322.58 L227.0,322.39 L227.5,322.37 L228.0,322.40 L228.5,322.49 L229.0,322.88 L229.5,322.93 L230.0,323.04 L230.5,323.14 L231.0,322.91 L231.5,323.22 L232.0,323.19 L232.5,323.46 L233.0,323.52 L233.5,323.60 L234.0,323.26 L234.5,323.67 L235.0,323.71 L235.5,323.74 L236.0,323.36 L236.5,323.39 L237.0,323.32 L237.5,323.25 L238.0,323.57 L238.5,323.49 L239.0,323.33 L239.5,323.34 L240.0,323.16 L240.5,322.90 L241.0,322.71 L241.5,322.60 L242.0,322.80 L242.5,322.43 L243.0,322.36 L243.5,322.30 L244.0,321.99 L244.5,321.99 L245.0,321.89 L245.5,321.99 L246.0,321.72 L246.5,321.61 L247.0,321.82 L247.5,321.53 L248.0,321.62 L248.5,321.46 L249.0,321.14 L249.5,321.29 L250.0,321.28 L250.5,321.44 L251.0,321.26 L251.5,321.46 L252.0,321.44 L252.5,321.37 L253.0,321.75 L253.5,321.50 L254.0,321.95 L254.5,321.77 L255.0,321.82 L255.5,322.05 L256.0,322.45 L256.5,322.70 L257.0,322.40 L257.5,322.77 L258.0,322.92 L258.5,323.20 L259.0,323.06 L259.5,323.33 L260.0,323.39 L260.5,323.73 L261.0,323.57 L261.5,323.97 L262.0,323.75 L262.5,323.78 L263.0,324.08 L263.5,324.05 L264.0,323.94 L264.5,324.25 L265.0,324.06 L265.5,324.45 L266.0,324.47 L266.5,324.58 L267.0,324.56 L267.5,324.50 L268.0,324.58 L268.5,324.63 L269.0,324.91 L269.5,324.59 L270.0,325.01 L270.5,324.66 L271.0,324.79 L271.5,324.85 L272.0,325.18 L272.5,325.03 L273.0,325.01 L273.5,325.27 L274.0,324.99 L274.5,325.12 L275.0,325.17 L275.5,325.29 L276.0,325.30 L276.5,325.26 L277.0,325.14 L277.5,325.14 L278.0,325.08 L278.5,325.41 L279.0,325.33 L279.5,325.38 L280.0,325.13 L280.5,325.27 L281.0,325.43 L281.5,325.35 L282.0,325.15 L282.5,325.32 L283.0,325.52 L283.5,325.23 L284.0,325.22 L284.5,325.28 L285.0,325.48 L285.5,325.55 L286.0,325.24 L286.5,325.25 L287.0,325.30 L287.5,325.34 L288.0,325.44 L288.5,325.28 L289.0,325.36 L289.5,325.30 L290.0,325.67 L290.5,325.57 L291.0,325.28 L291.5,325.69 L292.0,325.29 L292.5,325.43 L293.0,325.71 L293.5,325.63 L294.0,325.60 L294.5,325.47 L295.0,325.37 L295.5,325.57 L296.0,325.33 L296.5,325.38 L297.0,325.47 L297.5,325.31 L298.0,325.48 L298.5,325.66 L299.0,325.62 L299.5,325.54 L300.0,325.60 L300.5,325.52 L301.0,325.38 L301.5,325.59 L302.0,325.50 L302.5,325.66 L303.0,325.74 L303.5,325.52 L304.0,325.59 L304.5,325.68 L305.0,325.53 L305.5,325.44 L306.0,325.67 L306.5,325.75 L307.0,325.70 L307.5,325.67 L308.0,325.74 L308.5,325.66 L309.0,325.65 L309.5,325.56 L310.0,325.50 L310.5,325.65 L311.0,325.41 L311.5,325.56 L312.0,325.73 L312.5,325.70 L313.0,325.66 L313.5,325.49 L314.0,325.57 L314.5,325.59 L315.0,325.67 L315.5,325.57 L316.0,325.70 L316.5,325.82 L317.0,325.47 L317.5,325.69 L318.0,325.75 L318.5,325.58 L319.0,325.63 L319.5,325.85 L320.0,325.42 L320.5,325.66 L321.0,325.48 L321.5,325.77 L322.0,325.85 L322.5,325.66 L323.0,325.46 L323.5,325.69 L324.0,325.67 L324.5,325.76 L325.0,325.66 L325.5,325.72 L326.0,325.81 L326.5,325.67 L327.0,325.62 L327.5,325.88 L328.0,325.54 L328.5,325.76 L329.0,325.63 L329.5,325.80 L330.0,325.51 L330.5,325.91 L331.0,325.62 L331.5,325.48 L332.0,325.58 L332.5,325.64 L333.0,325.47 L333.5,325.66 L334.0,325.66 L334.5,325.79 L335.0,325.63 L335.5,325.59 L336.0,325.58 L336.5,325.82 L337.0,325.91 L337.5,325.72 L338.0,325.58 L338.5,325.85 L339.0,325.67 L339.5,325.59 L340.0,325.55 L340.5,325.85 L341.0,325.87 L341.5,325.79 L342.0,325.72 L342.5,325.76 L343.0,325.61 L343.5,325.95 L344.0,325.67 L344.5,325.80 L345.0,325.89 L345.5,325.89 L346.0,325.73 L346.5,325.65 L347.0,325.77 L347.5,325.58 L348.0,325.91 L348.5,325.69 L349.0,325.92 L349.5,325.65 L350.0,325.70 L350.5,325.65 L351.0,325.73 L351.5,325.62 L352.0,325.54 L352.5,325.87 L353.0,325.67 L353.5,325.66 L354.0,325.69 L354.5,325.77 L355.0,325.75 L355.5,325.85 L356.0,325.86 L356.5,325.72 L357.0,325.99 L357.5,325.95 L358.0,325.59 L358.5,325.95 L359.0,325.98 L359.5,325.93 L360.0,325.63 L360.5,325.95 L361.0,325.87 L361.5,325.58 L362.0,325.58 L362.5,326.02 L363.0,325.88 L363.5,325.70 L364.0,325.63 L364.5,325.65 L365.0,325.70 L365.5,325.95 L366.0,325.75 L366.5,325.66 L367.0,326.01 L367.5,325.96 L368.0,325.68 L368.5,326.01 L369.0,325.88 L369.5,325.96 L370.0,325.91 L370.5,326.02 L371.0,325.97 L371.5,326.00 L372.0,325.70 L372.5,325.93 L373.0,325.86 L373.5,325.96 L374.0,325.82 L374.5,326.03 L375.0,325.88 L375.5,325.75 L376.0,325.73 L376.5,325.69 L377.0,325.86 L377.5,325.66 L378.0,325.85 L378.5,325.70 L379.0,325.86 L379.5,325.87 L380.0,325.89 L380.5,326.04 L381.0,325.65 L381.5,326.03 L382.0,325.86 L382.5,325.91 L383.0,325.96 L383.5,326.04 L384.0,325.82 L384.5,325.85 L385.0,326.10 L385.5,325.69 L386.0,325.95 L386.5,325.95 L387.0,325.67 L387.5,325.94 L388.0,325.98 L388.5,326.10 L389.0,325.82 L389.5,326.12 L390.0,325.91 L390.5,325.90 L391.0,326.09 L391.5,325.69 L392.0,326.01 L392.5,325.97 L393.0,325.84 L393.5,326.08 L394.0,325.85 L394.5,325.90 L395.0,325.93 L395.5,326.04 L396.0,325.79 L396.5,325.89 L397.0,325.89 L397.5,325.95 L398.0,326.08 L398.5,325.83 L399.0,326.08 L399.5,325.88 L400.0,325.93 L400.5,325.83 L401.0,325.94 L401.5,326.15 L402.0,326.01 L402.5,326.07 L403.0,325.86 L403.5,325.86 L404.0,325.85 L404.5,325.98 L405.0,326.01 L405.5,326.08 L406.0,325.74 L406.5,326.05 L407.0,326.13 L407.5,325.97 L408.0,325.75 L408.5,325.86 L409.0,325.73 L409.5,325.81 L410.0,326.15 L410.5,326.01 L411.0,326.03 L411.5,326.10 L412.0,326.15 L412.5,326.02 L413.0,326.02 L413.5,326.03 L414.0,326.06 L414.5,326.01 L415.0,326.05 L415.5,325.84 L416.0,326.05 L416.5,325.96 L417.0,326.10 L417.5,325.79 L418.0,325.83 L418.5,325.77 L419.0,326.11 L419.5,326.17 L420.0,326.06 L420.5,325.92 L421.0,326.14 L421.5,326.12 L422.0,326.02 L422.5,325.88 L423.0,325.90 L423.5,325.96 L424.0,325.91 L424.5,325.96 L425.0,326.06 L425.5,326.20 L426.0,325.79 L426.5,326.03 L427.0,325.79 L427.5,325.83 L428.0,326.15 L428.5,326.04 L429.0,326.20 L429.5,325.98 L430.0,325.78 L430.5,325.96 L431.0,326.05 L431.5,326.21 L432.0,326.23 L432.5,326.00 L433.0,325.97 L433.5,325.83 L434.0,326.08 L434.5,325.88 L435.0,325.86 L435.5,325.80 L436.0,325.79 L436.5,326.11 L437.0,325.85 L437.5,326.24 L438.0,325.83 L438.5,326.20 L439.0,325.86 L439.5,325.81 L440.0,326.13 L440.5,325.91 L441.0,326.14 L441.5,325.89 L442.0,325.83 L442.5,326.16 L443.0,326.13 L443.5,326.20 L444.0,326.14 L444.5,325.85 L445.0,326.10 L445.5,326.14 L446.0,326.02 L446.5,326.24 L447.0,325.93 L447.5,326.26 L448.0,326.15 L448.5,325.82 L449.0,325.82 L449.5,326.12 L450.0,326.20 L450.5,325.86 L451.0,325.96 L451.5,326.16 L452.0,325.90 L452.5,326.22 L453.0,326.05 L453.5,325.85 L454.0,326.00 L454.5,326.09 L455.0,326.03 L455.5,326.14 L456.0,325.90 L456.5,326.20 L457.0,326.00 L457.5,326.13 L458.0,326.12 L458.5,326.03 L459.0,326.01 L459.5,326.20 L460.0,326.27 L460.5,326.20 L461.0,326.10 L461.5,325.97 L462.0,325.87 L462.5,326.29 L463.0,326.17 L463.5,326.22 L464.0,326.00 L464.5,326.12 L465.0,326.30 L465.5,326.23 L466.0,326.12 L466.5,325.99 L467.0,326.05 L467.5,326.26 L468.0,326.02 L468.5,326.17 L469.0,326.13 L469.5,326.27 L470.0,326.23 L470.5,325.98 L471.0,325.85 L471.5,325.98 L472.0,326.05 L472.5,326.13 L473.0,326.23 L473.5,326.27 L474.0,325.88 L474.5,326.24 L475.0,326.23 L475.5,326.26 L476.0,326.13 L476.5,325.99 L477.0,326.26 L477.5,326.24 L478.0,326.18 L478.5,326.29 L479.0,326.03 L479.5,325.91 L480.0,326.12 L480.5,326.24 L481.0,325.96 L481.5,326.22 L482.0,326.30 L482.5,325.98 L483.0,326.15 L483.5,326.18 L484.0,326.09 L484.5,325.97 L485.0,325.99 L485.5,326.22 L486.0,326.24 L486.5,326.09 L487.0,325.92 L487.5,326.25 L488.0,326.23 L488.5,325.99 L489.0,326.15 L489.5,326.29 L490.0,326.29 L490.5,326.12 L491.0,326.10 L491.5,326.15 L492.0,325.97 L492.5,325.97 L493.0,325.97 L493.5,326.21 L494.0,326.05 L494.5,326.15 L495.0,326.07 L495.5,326.12 L496.0,325.96 L496.5,325.91 L497.0,326.35 L497.5,326.06 L498.0,325.94 L498.5,326.18 L499.0,326.25 L499.5,325.96 L500.0,326.17 L500.5,326.05 L501.0,326.13 L501.5,325.90 L502.0,325.91 L502.5,326.35 L503.0,326.29 L503.5,326.12 L504.0,326.16 L504.5,326.02 L505.0,326.25 L505.5,326.09 L506.0,326.33 L506.5,326.25 L507.0,326.28 L507.5,326.34 L508.0,326.02 L508.5,325.92 L509.0,325.99 L509.5,325.98 L510.0,325.94 L510.5,325.92 L511.0,326.16 L511.5,326.30 L512.0,326.11 L512.5,326.34 L513.0,326.32 L513.5,325.93 L514.0,326.18 L514.5,326.09 L515.0,325.96 L515.5,326.35 L516.0,326.02 L516.5,326.17 L517.0,326.20 L517.5,326.35 L518.0,326.22 L518.5,326.09 L519.0,326.11 L519.5,325.98 L520.0,326.35 L520.5,326.37 L521.0,326.01 L521.5,325.93 L522.0,326.03 L522.5,326.07 L523.0,326.33 L523.5,326.33 L524.0,326.30 L524.5,325.93 L525.0,326.27 L525.5,326.24 L526.0,326.21 L526.5,326.37 L527.0,325.94 L527.5,325.98 L528.0,326.26 L528.5,326.35 L529.0,326.23 L529.5,326.05 L530.0,326.19 L530.5,326.26 L531.0,325.96 L531.5,326.06 L532.0,326.03 L532.5,325.97 L533.0,326.14 L533.5,325.99 L534.0,326.03 L534.5,325.98 L535.0,326.23 L535.5,325.92 L536.0,326.25 L536.5,326.01 L537.0,325.93 L537.5,326.35 L538.0,326.02 L538.5,326.35 L539.0,326.32 L539.5,326.33 L540.0,325.98 L540.5,326.12 L541.0,325.96 L541.5,326.35 L542.0,326.31 L542.5,326.21 L543.0,326.13 L543.5,326.08 L544.0,326.30 L544.5,326.14 L545.0,326.21 L545.5,325.99 L546.0,326.02 L546.5,325.95 L547.0,326.25 L547.5,326.18 L548.0,325.99 L548.5,326.32 L549.0,326.04 L549.5,326.11 L550.0,325.99 L550.5,326.05 L551.0,326.31 L551.5,326.08 L552.0,326.00 L552.5,326.15 L553.0,326.07 L553.5,326.34 L554.0,325.97 L554.5,326.37 L555.0,325.95 L555.5,326.34 L556.0,326.23 L556.5,326.02 L557.0,326.14 L557.5,326.05 L558.0,326.04 L558.5,326.02 L559.0,326.09 L559.5,326.38 L560.0,326.38 L560.5,326.35 L561.0,325.97 L561.5,326.06 L562.0,326.34 L562.5,325.95 L563.0,326.26 L563.5,326.06 L564.0,326.37 L564.5,325.93 L565.0,326.30 L565.5,326.08 L566.0,325.99" fill="none" stroke="#1012f6" stroke-width="3.8" stroke-linejoin="round" stroke-linecap="round"/></g>
<g filter="url(#bl)"><path transform="scale(1,1.3)" d="M65.5,380.46 L66.0,380.72 L66.5,380.62 L67.0,380.52 L67.5,380.60 L68.0,380.74 L68.5,380.53 L69.0,380.64 L69.5,380.50 L70.0,380.52 L70.5,380.70 L71.0,380.68 L71.5,380.52 L72.0,380.49 L72.5,380.49 L73.0,380.65 L73.5,380.61 L74.0,380.55 L74.5,380.52 L75.0,380.65 L75.5,380.68 L76.0,380.71 L76.5,380.64 L77.0,380.52 L77.5,380.48 L78.0,380.69 L78.5,380.59 L79.0,380.58 L79.5,379.99 L80.0,379.61 L80.5,378.68 L81.0,377.95 L81.5,377.02 L82.0,375.99 L82.5,375.00 L83.0,374.45 L83.5,373.40 L84.0,372.56 L84.5,371.39 L85.0,370.41 L85.5,369.70 L86.0,368.74 L86.5,367.97 L87.0,367.45 L87.5,367.00 L88.0,366.35 L88.5,366.08 L89.0,365.65 L89.5,365.27 L90.0,364.72 L90.5,364.46 L91.0,363.99 L91.5,363.44 L92.0,362.64 L92.5,362.11 L93.0,361.31 L93.5,360.66 L94.0,359.59 L94.5,358.86 L95.0,357.75 L95.5,356.29 L96.0,354.62 L96.5,352.29 L97.0,349.32 L97.5,345.59 L98.0,341.74 L98.5,336.45 L99.0,328.32 L99.5,319.93 L100.0,313.11 L100.5,306.34 L101.0,300.93 L101.5,299.51 L102.0,302.62 L102.5,308.16 L103.0,314.80 L103.5,321.20 L104.0,328.24 L104.5,335.27 L105.0,341.04 L105.5,346.10 L106.0,351.10 L106.5,354.91 L107.0,357.27 L107.5,359.19 L108.0,360.96 L108.5,362.36 L109.0,363.45 L109.5,364.30 L110.0,365.05 L110.5,365.47 L111.0,366.07 L111.5,366.57 L112.0,366.73 L112.5,367.20 L113.0,367.57 L113.5,367.67 L114.0,368.13 L114.5,368.40 L115.0,368.44 L115.5,368.65 L116.0,368.97 L116.5,369.05 L117.0,369.18 L117.5,369.52 L118.0,369.63 L118.5,369.65 L119.0,369.77 L119.5,369.94 L120.0,370.11 L120.5,370.41 L121.0,370.48 L121.5,370.63 L122.0,370.72 L122.5,370.84 L123.0,370.70 L123.5,370.95 L124.0,371.18 L124.5,371.26 L125.0,371.14 L125.5,371.28 L126.0,371.43 L126.5,371.42 L127.0,371.55 L127.5,371.48 L128.0,371.66 L128.5,371.76 L129.0,371.68 L129.5,371.79 L130.0,372.12 L130.5,372.13 L131.0,372.25 L131.5,372.23 L132.0,372.35 L132.5,372.43 L133.0,372.49 L133.5,372.29 L134.0,372.53 L134.5,372.47 L135.0,372.64 L135.5,372.56 L136.0,372.68 L136.5,372.83 L137.0,372.76 L137.5,372.67 L138.0,372.76 L138.5,372.75 L139.0,372.91 L139.5,372.69 L140.0,372.68 L140.5,372.75 L141.0,372.54 L141.5,372.64 L142.0,372.69 L142.5,372.48 L143.0,372.33 L143.5,372.31 L144.0,372.25 L144.5,372.04 L145.0,371.95 L145.5,371.86 L146.0,371.82 L146.5,371.76 L147.0,371.64 L147.5,371.54 L148.0,371.41 L148.5,371.47 L149.0,371.47 L149.5,371.29 L150.0,371.17 L150.5,371.08 L151.0,370.82 L151.5,370.85 L152.0,370.65 L152.5,370.56 L153.0,370.46 L153.5,370.29 L154.0,370.13 L154.5,370.01 L155.0,369.91 L155.5,369.91 L156.0,369.80 L156.5,369.80 L157.0,369.58 L157.5,369.66 L158.0,369.80 L158.5,369.62 L159.0,369.76 L159.5,369.79 L160.0,369.80 L160.5,370.10 L161.0,369.99 L161.5,370.25 L162.0,370.19 L162.5,370.29 L163.0,370.67 L163.5,370.68 L164.0,370.71 L164.5,370.95 L165.0,371.11 L165.5,371.34 L166.0,371.28 L166.5,371.44 L167.0,371.77 L167.5,371.81 L168.0,371.72 L168.5,371.87 L169.0,371.97 L169.5,372.17 L170.0,372.26 L170.5,372.43 L171.0,372.51 L171.5,372.51 L172.0,372.65 L172.5,372.72 L173.0,372.78 L173.5,372.74 L174.0,372.85 L174.5,372.83 L175.0,372.86 L175.5,372.56 L176.0,372.70 L176.5,372.32 L177.0,372.43 L177.5,372.23 L178.0,372.04 L178.5,372.02 L179.0,371.73 L179.5,371.51 L180.0,371.45 L180.5,371.31 L181.0,371.08 L181.5,370.87 L182.0,370.77 L182.5,370.67 L183.0,370.67 L183.5,370.49 L184.0,370.50 L184.5,370.57 L185.0,370.55 L185.5,370.59 L186.0,370.81 L186.5,370.92 L187.0,370.92 L187.5,371.02 L188.0,371.06 L188.5,371.23 L189.0,371.31 L189.5,371.58 L190.0,371.71 L190.5,371.68 L191.0,372.05 L191.5,371.98 L192.0,372.23 L192.5,372.30 L193.0,372.40 L193.5,372.20 L194.0,372.29 L194.5,372.43 L195.0,372.14 L195.5,372.13 L196.0,372.27 L196.5,372.21 L197.0,372.31 L197.5,372.22 L198.0,372.09 L198.5,372.18 L199.0,371.97 L199.5,371.91 L200.0,371.90 L200.5,371.73 L201.0,371.65 L201.5,371.65 L202.0,371.50 L202.5,371.60 L203.0,371.44 L203.5,371.31 L204.0,371.10 L204.5,371.10 L205.0,371.00 L205.5,370.92 L206.0,370.76 L206.5,370.68 L207.0,370.52 L207.5,370.18 L208.0,369.97 L208.5,369.83 L209.0,369.77 L209.5,369.41 L210.0,369.32 L210.5,369.30 L211.0,369.02 L211.5,369.02 L212.0,369.24 L212.5,369.27 L213.0,369.30 L213.5,369.36 L214.0,369.82 L214.5,370.01 L215.0,370.32 L215.5,370.66 L216.0,370.91 L216.5,371.03 L217.0,371.21 L217.5,371.47 L218.0,371.76 L218.5,371.98 L219.0,372.11 L219.5,372.34 L220.0,372.72 L220.5,372.95 L221.0,373.10 L221.5,373.53 L222.0,373.64 L222.5,373.68 L223.0,373.99 L223.5,374.30 L224.0,374.33 L224.5,374.60 L225.0,374.52 L225.5,374.73 L226.0,375.00 L226.5,375.02 L227.0,375.14 L227.5,375.08 L228.0,375.26 L228.5,375.36 L229.0,375.36 L229.5,375.55 L230.0,375.59 L230.5,375.80 L231.0,375.74 L231.5,375.76 L232.0,375.73 L232.5,375.80 L233.0,376.05 L233.5,375.91 L234.0,375.96 L234.5,376.04 L235.0,376.20 L235.5,376.34 L236.0,376.33 L236.5,376.44 L237.0,376.26 L237.5,376.29 L238.0,376.57 L238.5,376.48 L239.0,376.65 L239.5,376.59 L240.0,376.58 L240.5,376.65 L241.0,376.64 L241.5,376.93 L242.0,376.87 L242.5,376.84 L243.0,376.91 L243.5,376.93 L244.0,376.87 L244.5,377.16 L245.0,377.10 L245.5,377.26 L246.0,377.13 L246.5,377.22 L247.0,377.14 L247.5,377.11 L248.0,377.42 L248.5,377.43 L249.0,377.30 L249.5,377.51 L250.0,377.52 L250.5,377.40 L251.0,377.52 L251.5,377.67 L252.0,377.56 L252.5,377.73 L253.0,377.55 L253.5,377.63 L254.0,377.76 L254.5,377.65 L255.0,377.71 L255.5,377.92 L256.0,377.84 L256.5,377.97 L257.0,377.84 L257.5,377.86 L258.0,377.96 L258.5,377.95 L259.0,378.23 L259.5,378.07 L260.0,378.19 L260.5,378.10 L261.0,378.27 L261.5,378.26 L262.0,378.31 L262.5,378.25 L263.0,378.31 L263.5,378.56 L264.0,378.45 L264.5,378.46 L265.0,378.48 L265.5,378.54 L266.0,378.56 L266.5,378.53 L267.0,378.75 L267.5,378.68 L268.0,378.65 L268.5,378.85 L269.0,378.68 L269.5,378.76 L270.0,378.95 L270.5,378.75 L271.0,378.86 L271.5,379.00 L272.0,379.01 L272.5,378.82 L273.0,378.90 L273.5,379.03 L274.0,378.93 L274.5,379.13 L275.0,378.91 L275.5,379.15 L276.0,379.03 L276.5,378.96 L277.0,379.04 L277.5,378.95 L278.0,379.14 L278.5,379.02 L279.0,379.22 L279.5,379.14 L280.0,379.08 L280.5,379.06 L281.0,379.18 L281.5,379.07 L282.0,379.28 L282.5,379.06 L283.0,379.19 L283.5,379.21 L284.0,379.14 L284.5,379.30 L285.0,379.19 L285.5,379.28 L286.0,379.26 L286.5,379.19 L287.0,379.23 L287.5,379.14 L288.0,379.18 L288.5,379.39 L289.0,379.24 L289.5,379.35 L290.0,379.19 L290.5,379.34 L291.0,379.28 L291.5,379.33 L292.0,379.28 L292.5,379.22 L293.0,379.30 L293.5,379.28 L294.0,379.26 L294.5,379.45 L295.0,379.32 L295.5,379.37 L296.0,379.53 L296.5,379.49 L297.0,379.53 L297.5,379.54 L298.0,379.32 L298.5,379.37 L299.0,379.30 L299.5,379.51 L300.0,379.51 L300.5,379.42 L301.0,379.45 L301.5,379.53 L302.0,379.55 L302.5,379.42 L303.0,379.61 L303.5,379.47 L304.0,379.56 L304.5,379.43 L305.0,379.42 L305.5,379.67 L306.0,379.63 L306.5,379.63 L307.0,379.43 L307.5,379.43 L308.0,379.48 L308.5,379.50 L309.0,379.54 L309.5,379.57 L310.0,379.47 L310.5,379.56 L311.0,379.67 L311.5,379.54 L312.0,379.75 L312.5,379.67 L313.0,379.73 L313.5,379.59 L314.0,379.65 L314.5,379.74 L315.0,379.64 L315.5,379.54 L316.0,379.81 L316.5,379.80 L317.0,379.65 L317.5,379.58 L318.0,379.84 L318.5,379.77 L319.0,379.61 L319.5,379.67 L320.0,379.64 L320.5,379.85 L321.0,379.68 L321.5,379.90 L322.0,379.86 L322.5,379.66 L323.0,379.86 L323.5,379.77 L324.0,379.88 L324.5,379.91 L325.0,379.75 L325.5,379.70 L326.0,379.97 L326.5,379.81 L327.0,379.97 L327.5,379.90 L328.0,379.92 L328.5,379.96 L329.0,379.90 L329.5,379.85 L330.0,379.73 L330.5,379.93 L331.0,379.85 L331.5,379.88 L332.0,380.02 L332.5,379.77 L333.0,379.97 L333.5,379.75 L334.0,379.96 L334.5,380.00 L335.0,379.83 L335.5,379.92 L336.0,380.05 L336.5,379.95 L337.0,379.93 L337.5,379.84 L338.0,379.78 L338.5,379.88 L339.0,379.89 L339.5,379.83 L340.0,379.86 L340.5,379.81 L341.0,379.99 L341.5,379.98 L342.0,379.85 L342.5,379.85 L343.0,379.93 L343.5,379.91 L344.0,380.06 L344.5,379.89 L345.0,379.87 L345.5,380.05 L346.0,379.82 L346.5,379.95 L347.0,379.88 L347.5,380.03 L348.0,379.95 L348.5,380.02 L349.0,379.84 L349.5,379.99 L350.0,379.97 L350.5,379.93 L351.0,380.02 L351.5,380.05 L352.0,379.83 L352.5,379.88 L353.0,379.90 L353.5,379.86 L354.0,379.81 L354.5,379.88 L355.0,379.86 L355.5,380.01 L356.0,379.94 L356.5,379.83 L357.0,379.90 L357.5,379.94 L358.0,379.91 L358.5,379.85 L359.0,379.82 L359.5,379.81 L360.0,380.11 L360.5,380.04 L361.0,379.83 L361.5,380.03 L362.0,380.11 L362.5,379.98 L363.0,379.84 L363.5,379.96 L364.0,379.94 L364.5,379.87 L365.0,379.98 L365.5,379.82 L366.0,380.10 L366.5,380.01 L367.0,380.01 L367.5,380.10 L368.0,380.02 L368.5,379.89 L369.0,379.89 L369.5,379.86 L370.0,379.83 L370.5,380.06 L371.0,380.08 L371.5,379.91 L372.0,379.88 L372.5,380.02 L373.0,380.08 L373.5,380.11 L374.0,379.88 L374.5,380.07 L375.0,380.08 L375.5,380.06 L376.0,379.93 L376.5,379.89 L377.0,380.08 L377.5,379.93 L378.0,379.94 L378.5,380.00 L379.0,379.95 L379.5,380.09 L380.0,379.91 L380.5,379.85 L381.0,380.01 L381.5,380.03 L382.0,380.09 L382.5,380.05 L383.0,380.12 L383.5,380.13 L384.0,379.99 L384.5,379.99 L385.0,379.89 L385.5,379.93 L386.0,380.02 L386.5,379.87 L387.0,380.05 L387.5,379.89 L388.0,379.98 L388.5,380.14 L389.0,379.87 L389.5,379.86 L390.0,379.98 L390.5,379.91 L391.0,380.07 L391.5,379.85 L392.0,380.11 L392.5,380.11 L393.0,380.09 L393.5,379.98 L394.0,379.94 L394.5,380.06 L395.0,380.01 L395.5,379.98 L396.0,379.96 L396.5,379.99 L397.0,380.06 L397.5,380.11 L398.0,380.13 L398.5,379.91 L399.0,379.95 L399.5,379.99 L400.0,380.03 L400.5,379.97 L401.0,379.92 L401.5,379.89 L402.0,379.96 L402.5,380.00 L403.0,380.16 L403.5,380.14 L404.0,380.13 L404.5,380.16 L405.0,380.16 L405.5,380.05 L406.0,380.11 L406.5,379.88 L407.0,380.07 L407.5,380.05 L408.0,379.96 L408.5,380.04 L409.0,380.16 L409.5,380.02 L410.0,380.07 L410.5,379.96 L411.0,379.98 L411.5,380.14 L412.0,379.88 L412.5,379.93 L413.0,380.08 L413.5,380.01 L414.0,379.90 L414.5,380.08 L415.0,379.99 L415.5,380.05 L416.0,380.00 L416.5,380.04 L417.0,380.05 L417.5,380.00 L418.0,379.91 L418.5,379.93 L419.0,380.15 L419.5,380.05 L420.0,379.91 L420.5,380.14 L421.0,379.96 L421.5,379.91 L422.0,380.04 L422.5,379.96 L423.0,380.03 L423.5,380.05 L424.0,379.95 L424.5,380.06 L425.0,379.92 L425.5,380.04 L426.0,380.06 L426.5,379.91 L427.0,380.01 L427.5,379.91 L428.0,380.02 L428.5,380.15 L429.0,380.06 L429.5,380.11 L430.0,380.12 L430.5,379.92 L431.0,380.19 L431.5,380.11 L432.0,379.92 L432.5,380.14 L433.0,380.01 L433.5,379.94 L434.0,380.19 L434.5,380.06 L435.0,380.13 L435.5,379.93 L436.0,380.13 L436.5,379.91 L437.0,379.97 L437.5,380.01 L438.0,379.90 L438.5,380.08 L439.0,379.96 L439.5,379.99 L440.0,380.11 L440.5,380.03 L441.0,380.17 L441.5,380.09 L442.0,380.16 L442.5,380.07 L443.0,380.18 L443.5,380.16 L444.0,379.95 L444.5,380.13 L445.0,380.00 L445.5,380.13 L446.0,380.11 L446.5,380.15 L447.0,379.94 L447.5,380.01 L448.0,380.13 L448.5,380.19 L449.0,380.12 L449.5,379.91 L450.0,380.09 L450.5,379.93 L451.0,380.07 L451.5,380.15 L452.0,379.94 L452.5,380.19 L453.0,380.11 L453.5,379.98 L454.0,379.96 L454.5,380.04 L455.0,380.16 L455.5,380.08 L456.0,379.94 L456.5,379.91 L457.0,379.94 L457.5,380.15 L458.0,379.96 L458.5,380.08 L459.0,380.00 L459.5,380.12 L460.0,380.02 L460.5,379.95 L461.0,380.18 L461.5,380.07 L462.0,380.12 L462.5,380.16 L463.0,380.20 L463.5,379.91 L464.0,380.01 L464.5,379.96 L465.0,380.06 L465.5,380.18 L466.0,380.16 L466.5,379.92 L467.0,379.97 L467.5,380.16 L468.0,380.12 L468.5,380.03 L469.0,380.06 L469.5,379.96 L470.0,380.17 L470.5,380.03 L471.0,380.18 L471.5,380.10 L472.0,379.94 L472.5,380.01 L473.0,379.98 L473.5,380.19 L474.0,380.09 L474.5,379.93 L475.0,379.97 L475.5,380.02 L476.0,380.06 L476.5,380.09 L477.0,380.03 L477.5,380.02 L478.0,379.92 L478.5,380.09 L479.0,380.02 L479.5,379.92 L480.0,380.06 L480.5,380.22 L481.0,379.93 L481.5,379.96 L482.0,380.12 L482.5,380.00 L483.0,380.00 L483.5,380.07 L484.0,380.00 L484.5,380.09 L485.0,380.08 L485.5,380.21 L486.0,380.22 L486.5,379.93 L487.0,380.09 L487.5,380.15 L488.0,380.19 L488.5,380.16 L489.0,380.11 L489.5,380.11 L490.0,380.03 L490.5,380.00 L491.0,380.16 L491.5,380.19 L492.0,380.21 L492.5,380.13 L493.0,380.01 L493.5,380.15 L494.0,380.15 L494.5,380.08 L495.0,380.11 L495.5,380.03 L496.0,380.09 L496.5,380.04 L497.0,379.94 L497.5,380.02 L498.0,380.02 L498.5,380.22 L499.0,380.07 L499.5,380.03 L500.0,380.00 L500.5,379.99 L501.0,380.03 L501.5,379.96 L502.0,379.92 L502.5,380.19 L503.0,380.06 L503.5,380.06 L504.0,380.10 L504.5,380.01 L505.0,379.97 L505.5,379.94 L506.0,380.01 L506.5,380.02 L507.0,380.15 L507.5,380.09 L508.0,380.21 L508.5,380.03 L509.0,380.21 L509.5,380.10 L510.0,379.95 L510.5,379.98 L511.0,380.10 L511.5,380.23 L512.0,380.03 L512.5,380.16 L513.0,380.05 L513.5,380.19 L514.0,379.94 L514.5,380.07 L515.0,380.20 L515.5,380.01 L516.0,380.00 L516.5,379.93 L517.0,379.97 L517.5,380.01 L518.0,380.14 L518.5,379.99 L519.0,380.05 L519.5,379.98 L520.0,380.11 L520.5,380.19 L521.0,380.12 L521.5,379.98 L522.0,380.15 L522.5,380.22 L523.0,380.11 L523.5,379.95 L524.0,380.17 L524.5,380.19 L525.0,380.03 L525.5,379.97 L526.0,379.98 L526.5,380.09 L527.0,380.19 L527.5,380.12 L528.0,380.21 L528.5,379.99 L529.0,380.02" fill="none" stroke="#ff2828" stroke-width="4.2" stroke-linejoin="round"/></g>
<path transform="scale(1,1.3)" d="M65.5,380.46 L66.0,380.72 L66.5,380.62 L67.0,380.52 L67.5,380.60 L68.0,380.74 L68.5,380.53 L69.0,380.64 L69.5,380.50 L70.0,380.52 L70.5,380.70 L71.0,380.68 L71.5,380.52 L72.0,380.49 L72.5,380.49 L73.0,380.65 L73.5,380.61 L74.0,380.55 L74.5,380.52 L75.0,380.65 L75.5,380.68 L76.0,380.71 L76.5,380.64 L77.0,380.52 L77.5,380.48 L78.0,380.69 L78.5,380.59 L79.0,380.58 L79.5,379.99 L80.0,379.61 L80.5,378.68 L81.0,377.95 L81.5,377.02 L82.0,375.99 L82.5,375.00 L83.0,374.45 L83.5,373.40 L84.0,372.56 L84.5,371.39 L85.0,370.41 L85.5,369.70 L86.0,368.74 L86.5,367.97 L87.0,367.45 L87.5,367.00 L88.0,366.35 L88.5,366.08 L89.0,365.65 L89.5,365.27 L90.0,364.72 L90.5,364.46 L91.0,363.99 L91.5,363.44 L92.0,362.64 L92.5,362.11 L93.0,361.31 L93.5,360.66 L94.0,359.59 L94.5,358.86 L95.0,357.75 L95.5,356.29 L96.0,354.62 L96.5,352.29 L97.0,349.32 L97.5,345.59 L98.0,341.74 L98.5,336.45 L99.0,328.32 L99.5,319.93 L100.0,313.11 L100.5,306.34 L101.0,300.93 L101.5,299.51 L102.0,302.62 L102.5,308.16 L103.0,314.80 L103.5,321.20 L104.0,328.24 L104.5,335.27 L105.0,341.04 L105.5,346.10 L106.0,351.10 L106.5,354.91 L107.0,357.27 L107.5,359.19 L108.0,360.96 L108.5,362.36 L109.0,363.45 L109.5,364.30 L110.0,365.05 L110.5,365.47 L111.0,366.07 L111.5,366.57 L112.0,366.73 L112.5,367.20 L113.0,367.57 L113.5,367.67 L114.0,368.13 L114.5,368.40 L115.0,368.44 L115.5,368.65 L116.0,368.97 L116.5,369.05 L117.0,369.18 L117.5,369.52 L118.0,369.63 L118.5,369.65 L119.0,369.77 L119.5,369.94 L120.0,370.11 L120.5,370.41 L121.0,370.48 L121.5,370.63 L122.0,370.72 L122.5,370.84 L123.0,370.70 L123.5,370.95 L124.0,371.18 L124.5,371.26 L125.0,371.14 L125.5,371.28 L126.0,371.43 L126.5,371.42 L127.0,371.55 L127.5,371.48 L128.0,371.66 L128.5,371.76 L129.0,371.68 L129.5,371.79 L130.0,372.12 L130.5,372.13 L131.0,372.25 L131.5,372.23 L132.0,372.35 L132.5,372.43 L133.0,372.49 L133.5,372.29 L134.0,372.53 L134.5,372.47 L135.0,372.64 L135.5,372.56 L136.0,372.68 L136.5,372.83 L137.0,372.76 L137.5,372.67 L138.0,372.76 L138.5,372.75 L139.0,372.91 L139.5,372.69 L140.0,372.68 L140.5,372.75 L141.0,372.54 L141.5,372.64 L142.0,372.69 L142.5,372.48 L143.0,372.33 L143.5,372.31 L144.0,372.25 L144.5,372.04 L145.0,371.95 L145.5,371.86 L146.0,371.82 L146.5,371.76 L147.0,371.64 L147.5,371.54 L148.0,371.41 L148.5,371.47 L149.0,371.47 L149.5,371.29 L150.0,371.17 L150.5,371.08 L151.0,370.82 L151.5,370.85 L152.0,370.65 L152.5,370.56 L153.0,370.46 L153.5,370.29 L154.0,370.13 L154.5,370.01 L155.0,369.91 L155.5,369.91 L156.0,369.80 L156.5,369.80 L157.0,369.58 L157.5,369.66 L158.0,369.80 L158.5,369.62 L159.0,369.76 L159.5,369.79 L160.0,369.80 L160.5,370.10 L161.0,369.99 L161.5,370.25 L162.0,370.19 L162.5,370.29 L163.0,370.67 L163.5,370.68 L164.0,370.71 L164.5,370.95 L165.0,371.11 L165.5,371.34 L166.0,371.28 L166.5,371.44 L167.0,371.77 L167.5,371.81 L168.0,371.72 L168.5,371.87 L169.0,371.97 L169.5,372.17 L170.0,372.26 L170.5,372.43 L171.0,372.51 L171.5,372.51 L172.0,372.65 L172.5,372.72 L173.0,372.78 L173.5,372.74 L174.0,372.85 L174.5,372.83 L175.0,372.86 L175.5,372.56 L176.0,372.70 L176.5,372.32 L177.0,372.43 L177.5,372.23 L178.0,372.04 L178.5,372.02 L179.0,371.73 L179.5,371.51 L180.0,371.45 L180.5,371.31 L181.0,371.08 L181.5,370.87 L182.0,370.77 L182.5,370.67 L183.0,370.67 L183.5,370.49 L184.0,370.50 L184.5,370.57 L185.0,370.55 L185.5,370.59 L186.0,370.81 L186.5,370.92 L187.0,370.92 L187.5,371.02 L188.0,371.06 L188.5,371.23 L189.0,371.31 L189.5,371.58 L190.0,371.71 L190.5,371.68 L191.0,372.05 L191.5,371.98 L192.0,372.23 L192.5,372.30 L193.0,372.40 L193.5,372.20 L194.0,372.29 L194.5,372.43 L195.0,372.14 L195.5,372.13 L196.0,372.27 L196.5,372.21 L197.0,372.31 L197.5,372.22 L198.0,372.09 L198.5,372.18 L199.0,371.97 L199.5,371.91 L200.0,371.90 L200.5,371.73 L201.0,371.65 L201.5,371.65 L202.0,371.50 L202.5,371.60 L203.0,371.44 L203.5,371.31 L204.0,371.10 L204.5,371.10 L205.0,371.00 L205.5,370.92 L206.0,370.76 L206.5,370.68 L207.0,370.52 L207.5,370.18 L208.0,369.97 L208.5,369.83 L209.0,369.77 L209.5,369.41 L210.0,369.32 L210.5,369.30 L211.0,369.02 L211.5,369.02 L212.0,369.24 L212.5,369.27 L213.0,369.30 L213.5,369.36 L214.0,369.82 L214.5,370.01 L215.0,370.32 L215.5,370.66 L216.0,370.91 L216.5,371.03 L217.0,371.21 L217.5,371.47 L218.0,371.76 L218.5,371.98 L219.0,372.11 L219.5,372.34 L220.0,372.72 L220.5,372.95 L221.0,373.10 L221.5,373.53 L222.0,373.64 L222.5,373.68 L223.0,373.99 L223.5,374.30 L224.0,374.33 L224.5,374.60 L225.0,374.52 L225.5,374.73 L226.0,375.00 L226.5,375.02 L227.0,375.14 L227.5,375.08 L228.0,375.26 L228.5,375.36 L229.0,375.36 L229.5,375.55 L230.0,375.59 L230.5,375.80 L231.0,375.74 L231.5,375.76 L232.0,375.73 L232.5,375.80 L233.0,376.05 L233.5,375.91 L234.0,375.96 L234.5,376.04 L235.0,376.20 L235.5,376.34 L236.0,376.33 L236.5,376.44 L237.0,376.26 L237.5,376.29 L238.0,376.57 L238.5,376.48 L239.0,376.65 L239.5,376.59 L240.0,376.58 L240.5,376.65 L241.0,376.64 L241.5,376.93 L242.0,376.87 L242.5,376.84 L243.0,376.91 L243.5,376.93 L244.0,376.87 L244.5,377.16 L245.0,377.10 L245.5,377.26 L246.0,377.13 L246.5,377.22 L247.0,377.14 L247.5,377.11 L248.0,377.42 L248.5,377.43 L249.0,377.30 L249.5,377.51 L250.0,377.52 L250.5,377.40 L251.0,377.52 L251.5,377.67 L252.0,377.56 L252.5,377.73 L253.0,377.55 L253.5,377.63 L254.0,377.76 L254.5,377.65 L255.0,377.71 L255.5,377.92 L256.0,377.84 L256.5,377.97 L257.0,377.84 L257.5,377.86 L258.0,377.96 L258.5,377.95 L259.0,378.23 L259.5,378.07 L260.0,378.19 L260.5,378.10 L261.0,378.27 L261.5,378.26 L262.0,378.31 L262.5,378.25 L263.0,378.31 L263.5,378.56 L264.0,378.45 L264.5,378.46 L265.0,378.48 L265.5,378.54 L266.0,378.56 L266.5,378.53 L267.0,378.75 L267.5,378.68 L268.0,378.65 L268.5,378.85 L269.0,378.68 L269.5,378.76 L270.0,378.95 L270.5,378.75 L271.0,378.86 L271.5,379.00 L272.0,379.01 L272.5,378.82 L273.0,378.90 L273.5,379.03 L274.0,378.93 L274.5,379.13 L275.0,378.91 L275.5,379.15 L276.0,379.03 L276.5,378.96 L277.0,379.04 L277.5,378.95 L278.0,379.14 L278.5,379.02 L279.0,379.22 L279.5,379.14 L280.0,379.08 L280.5,379.06 L281.0,379.18 L281.5,379.07 L282.0,379.28 L282.5,379.06 L283.0,379.19 L283.5,379.21 L284.0,379.14 L284.5,379.30 L285.0,379.19 L285.5,379.28 L286.0,379.26 L286.5,379.19 L287.0,379.23 L287.5,379.14 L288.0,379.18 L288.5,379.39 L289.0,379.24 L289.5,379.35 L290.0,379.19 L290.5,379.34 L291.0,379.28 L291.5,379.33 L292.0,379.28 L292.5,379.22 L293.0,379.30 L293.5,379.28 L294.0,379.26 L294.5,379.45 L295.0,379.32 L295.5,379.37 L296.0,379.53 L296.5,379.49 L297.0,379.53 L297.5,379.54 L298.0,379.32 L298.5,379.37 L299.0,379.30 L299.5,379.51 L300.0,379.51 L300.5,379.42 L301.0,379.45 L301.5,379.53 L302.0,379.55 L302.5,379.42 L303.0,379.61 L303.5,379.47 L304.0,379.56 L304.5,379.43 L305.0,379.42 L305.5,379.67 L306.0,379.63 L306.5,379.63 L307.0,379.43 L307.5,379.43 L308.0,379.48 L308.5,379.50 L309.0,379.54 L309.5,379.57 L310.0,379.47 L310.5,379.56 L311.0,379.67 L311.5,379.54 L312.0,379.75 L312.5,379.67 L313.0,379.73 L313.5,379.59 L314.0,379.65 L314.5,379.74 L315.0,379.64 L315.5,379.54 L316.0,379.81 L316.5,379.80 L317.0,379.65 L317.5,379.58 L318.0,379.84 L318.5,379.77 L319.0,379.61 L319.5,379.67 L320.0,379.64 L320.5,379.85 L321.0,379.68 L321.5,379.90 L322.0,379.86 L322.5,379.66 L323.0,379.86 L323.5,379.77 L324.0,379.88 L324.5,379.91 L325.0,379.75 L325.5,379.70 L326.0,379.97 L326.5,379.81 L327.0,379.97 L327.5,379.90 L328.0,379.92 L328.5,379.96 L329.0,379.90 L329.5,379.85 L330.0,379.73 L330.5,379.93 L331.0,379.85 L331.5,379.88 L332.0,380.02 L332.5,379.77 L333.0,379.97 L333.5,379.75 L334.0,379.96 L334.5,380.00 L335.0,379.83 L335.5,379.92 L336.0,380.05 L336.5,379.95 L337.0,379.93 L337.5,379.84 L338.0,379.78 L338.5,379.88 L339.0,379.89 L339.5,379.83 L340.0,379.86 L340.5,379.81 L341.0,379.99 L341.5,379.98 L342.0,379.85 L342.5,379.85 L343.0,379.93 L343.5,379.91 L344.0,380.06 L344.5,379.89 L345.0,379.87 L345.5,380.05 L346.0,379.82 L346.5,379.95 L347.0,379.88 L347.5,380.03 L348.0,379.95 L348.5,380.02 L349.0,379.84 L349.5,379.99 L350.0,379.97 L350.5,379.93 L351.0,380.02 L351.5,380.05 L352.0,379.83 L352.5,379.88 L353.0,379.90 L353.5,379.86 L354.0,379.81 L354.5,379.88 L355.0,379.86 L355.5,380.01 L356.0,379.94 L356.5,379.83 L357.0,379.90 L357.5,379.94 L358.0,379.91 L358.5,379.85 L359.0,379.82 L359.5,379.81 L360.0,380.11 L360.5,380.04 L361.0,379.83 L361.5,380.03 L362.0,380.11 L362.5,379.98 L363.0,379.84 L363.5,379.96 L364.0,379.94 L364.5,379.87 L365.0,379.98 L365.5,379.82 L366.0,380.10 L366.5,380.01 L367.0,380.01 L367.5,380.10 L368.0,380.02 L368.5,379.89 L369.0,379.89 L369.5,379.86 L370.0,379.83 L370.5,380.06 L371.0,380.08 L371.5,379.91 L372.0,379.88 L372.5,380.02 L373.0,380.08 L373.5,380.11 L374.0,379.88 L374.5,380.07 L375.0,380.08 L375.5,380.06 L376.0,379.93 L376.5,379.89 L377.0,380.08 L377.5,379.93 L378.0,379.94 L378.5,380.00 L379.0,379.95 L379.5,380.09 L380.0,379.91 L380.5,379.85 L381.0,380.01 L381.5,380.03 L382.0,380.09 L382.5,380.05 L383.0,380.12 L383.5,380.13 L384.0,379.99 L384.5,379.99 L385.0,379.89 L385.5,379.93 L386.0,380.02 L386.5,379.87 L387.0,380.05 L387.5,379.89 L388.0,379.98 L388.5,380.14 L389.0,379.87 L389.5,379.86 L390.0,379.98 L390.5,379.91 L391.0,380.07 L391.5,379.85 L392.0,380.11 L392.5,380.11 L393.0,380.09 L393.5,379.98 L394.0,379.94 L394.5,380.06 L395.0,380.01 L395.5,379.98 L396.0,379.96 L396.5,379.99 L397.0,380.06 L397.5,380.11 L398.0,380.13 L398.5,379.91 L399.0,379.95 L399.5,379.99 L400.0,380.03 L400.5,379.97 L401.0,379.92 L401.5,379.89 L402.0,379.96 L402.5,380.00 L403.0,380.16 L403.5,380.14 L404.0,380.13 L404.5,380.16 L405.0,380.16 L405.5,380.05 L406.0,380.11 L406.5,379.88 L407.0,380.07 L407.5,380.05 L408.0,379.96 L408.5,380.04 L409.0,380.16 L409.5,380.02 L410.0,380.07 L410.5,379.96 L411.0,379.98 L411.5,380.14 L412.0,379.88 L412.5,379.93 L413.0,380.08 L413.5,380.01 L414.0,379.90 L414.5,380.08 L415.0,379.99 L415.5,380.05 L416.0,380.00 L416.5,380.04 L417.0,380.05 L417.5,380.00 L418.0,379.91 L418.5,379.93 L419.0,380.15 L419.5,380.05 L420.0,379.91 L420.5,380.14 L421.0,379.96 L421.5,379.91 L422.0,380.04 L422.5,379.96 L423.0,380.03 L423.5,380.05 L424.0,379.95 L424.5,380.06 L425.0,379.92 L425.5,380.04 L426.0,380.06 L426.5,379.91 L427.0,380.01 L427.5,379.91 L428.0,380.02 L428.5,380.15 L429.0,380.06 L429.5,380.11 L430.0,380.12 L430.5,379.92 L431.0,380.19 L431.5,380.11 L432.0,379.92 L432.5,380.14 L433.0,380.01 L433.5,379.94 L434.0,380.19 L434.5,380.06 L435.0,380.13 L435.5,379.93 L436.0,380.13 L436.5,379.91 L437.0,379.97 L437.5,380.01 L438.0,379.90 L438.5,380.08 L439.0,379.96 L439.5,379.99 L440.0,380.11 L440.5,380.03 L441.0,380.17 L441.5,380.09 L442.0,380.16 L442.5,380.07 L443.0,380.18 L443.5,380.16 L444.0,379.95 L444.5,380.13 L445.0,380.00 L445.5,380.13 L446.0,380.11 L446.5,380.15 L447.0,379.94 L447.5,380.01 L448.0,380.13 L448.5,380.19 L449.0,380.12 L449.5,379.91 L450.0,380.09 L450.5,379.93 L451.0,380.07 L451.5,380.15 L452.0,379.94 L452.5,380.19 L453.0,380.11 L453.5,379.98 L454.0,379.96 L454.5,380.04 L455.0,380.16 L455.5,380.08 L456.0,379.94 L456.5,379.91 L457.0,379.94 L457.5,380.15 L458.0,379.96 L458.5,380.08 L459.0,380.00 L459.5,380.12 L460.0,380.02 L460.5,379.95 L461.0,380.18 L461.5,380.07 L462.0,380.12 L462.5,380.16 L463.0,380.20 L463.5,379.91 L464.0,380.01 L464.5,379.96 L465.0,380.06 L465.5,380.18 L466.0,380.16 L466.5,379.92 L467.0,379.97 L467.5,380.16 L468.0,380.12 L468.5,380.03 L469.0,380.06 L469.5,379.96 L470.0,380.17 L470.5,380.03 L471.0,380.18 L471.5,380.10 L472.0,379.94 L472.5,380.01 L473.0,379.98 L473.5,380.19 L474.0,380.09 L474.5,379.93 L475.0,379.97 L475.5,380.02 L476.0,380.06 L476.5,380.09 L477.0,380.03 L477.5,380.02 L478.0,379.92 L478.5,380.09 L479.0,380.02 L479.5,379.92 L480.0,380.06 L480.5,380.22 L481.0,379.93 L481.5,379.96 L482.0,380.12 L482.5,380.00 L483.0,380.00 L483.5,380.07 L484.0,380.00 L484.5,380.09 L485.0,380.08 L485.5,380.21 L486.0,380.22 L486.5,379.93 L487.0,380.09 L487.5,380.15 L488.0,380.19 L488.5,380.16 L489.0,380.11 L489.5,380.11 L490.0,380.03 L490.5,380.00 L491.0,380.16 L491.5,380.19 L492.0,380.21 L492.5,380.13 L493.0,380.01 L493.5,380.15 L494.0,380.15 L494.5,380.08 L495.0,380.11 L495.5,380.03 L496.0,380.09 L496.5,380.04 L497.0,379.94 L497.5,380.02 L498.0,380.02 L498.5,380.22 L499.0,380.07 L499.5,380.03 L500.0,380.00 L500.5,379.99 L501.0,380.03 L501.5,379.96 L502.0,379.92 L502.5,380.19 L503.0,380.06 L503.5,380.06 L504.0,380.10 L504.5,380.01 L505.0,379.97 L505.5,379.94 L506.0,380.01 L506.5,380.02 L507.0,380.15 L507.5,380.09 L508.0,380.21 L508.5,380.03 L509.0,380.21 L509.5,380.10 L510.0,379.95 L510.5,379.98 L511.0,380.10 L511.5,380.23 L512.0,380.03 L512.5,380.16 L513.0,380.05 L513.5,380.19 L514.0,379.94 L514.5,380.07 L515.0,380.20 L515.5,380.01 L516.0,380.00 L516.5,379.93 L517.0,379.97 L517.5,380.01 L518.0,380.14 L518.5,379.99 L519.0,380.05 L519.5,379.98 L520.0,380.11 L520.5,380.19 L521.0,380.12 L521.5,379.98 L522.0,380.15 L522.5,380.22 L523.0,380.11 L523.5,379.95 L524.0,380.17 L524.5,380.19 L525.0,380.03 L525.5,379.97 L526.0,379.98 L526.5,380.09 L527.0,380.19 L527.5,380.12 L528.0,380.21 L528.5,379.99 L529.0,380.02" fill="none" stroke="#a80008" stroke-width="1.7" stroke-linejoin="round"/>
<path d="M25.5,574.2 L26.0,574.2 L26.5,574.2 L27.0,574.2 L27.5,574.2 L28.0,574.2 L28.5,574.2 L29.0,574.2 L29.5,574.2 L30.0,574.2 L30.5,574.2 L31.0,574.2 L31.5,574.2 L32.0,574.2 L32.5,574.2 L33.0,574.2 L33.5,574.2 L34.0,574.2 L34.5,574.1 L35.0,574.1 L35.5,574.1 L36.0,574.1 L36.5,574.1 L37.0,574.1 L37.5,574.1 L38.0,574.1 L38.5,574.1 L39.0,574.1 L39.5,574.0 L40.0,574.0 L40.5,574.0 L41.0,574.0 L41.5,574.0 L42.0,573.7 L42.5,573.3 L43.0,572.7 L43.5,572.0 L44.0,571.3 L44.5,570.4 L45.0,569.5 L45.5,568.6 L46.0,567.7 L46.5,566.8 L47.0,565.9 L47.5,565.0 L48.0,564.1 L48.5,563.0 L49.0,562.0 L49.5,560.8 L50.0,559.6 L50.5,558.3 L51.0,557.0 L51.5,555.5 L52.0,554.0 L52.5,552.4 L53.0,550.6 L53.5,548.5 L54.0,546.2 L54.5,543.4 L55.0,539.8 L55.5,535.4 L56.0,530.4 L57.7,500.0 L57.8,496.0 L58.0,492.0 L58.1,488.0 L58.3,484.0 L58.4,480.0 L58.5,476.0 L58.6,472.0 L58.6,468.0 L58.7,464.0 L58.8,460.0 L58.8,456.0 L58.9,452.0 L58.9,448.0 L59.0,444.0 L59.0,440.0 L59.1,436.0 L59.1,432.0 L59.2,428.0 L59.2,424.0 L59.2,420.0 L59.3,416.0 L59.3,412.0 L59.4,408.0 L59.4,404.0 L59.5,400.0 L59.6,396.0 L59.6,392.0 L59.7,388.0 L59.7,384.0 L59.8,380.0 L59.9,376.0 L59.9,372.0 L60.0,368.0 L60.1,364.0 L60.1,360.0 L60.2,356.0 L60.3,352.0 L60.3,348.0 L60.4,344.0 L60.5,340.0 L60.5,336.0 L60.6,332.0 L60.7,328.0 L60.8,324.0 L60.9,320.0 L61.0,316.0 L61.1,312.0 L61.1,308.0 L61.2,304.0 L61.3,300.0 L61.4,296.0 L61.5,292.0 L61.6,288.0 L61.7,284.0 L61.7,280.0 L61.8,276.0 L61.8,276.0 L61.9,280.0 L61.9,284.0 L62.0,288.0 L62.1,292.0 L62.2,296.0 L62.3,300.0 L62.4,304.0 L62.5,308.0 L62.5,312.0 L62.6,316.0 L62.7,320.0 L62.8,324.0 L62.9,328.0 L63.0,332.0 L63.1,336.0 L63.1,340.0 L63.2,344.0 L63.3,348.0 L63.3,352.0 L63.4,356.0 L63.5,360.0 L63.5,364.0 L63.6,368.0 L63.7,372.0 L63.7,376.0 L63.8,380.0 L63.9,384.0 L63.9,388.0 L64.0,392.0 L64.0,396.0 L64.1,400.0 L64.2,404.0 L64.2,408.0 L64.3,412.0 L64.3,416.0 L64.4,420.0 L64.4,424.0 L64.4,428.0 L64.5,432.0 L64.5,436.0 L64.6,440.0 L64.6,444.0 L64.7,448.0 L64.7,452.0 L64.8,456.0 L64.8,460.0 L64.9,464.0 L65.0,468.0 L65.0,472.0 L65.1,476.0 L65.2,480.0 L65.3,484.0 L65.5,488.0 L65.6,492.0 L65.8,496.0 L65.9,500.0 L67.4,526.3 L67.9,534.9 L68.4,541.8 L68.9,545.9 L69.4,548.4 L69.9,550.4 L70.4,552.3 L70.9,553.6 L71.4,555.1 L71.9,556.0 L72.4,557.1 L72.9,558.1 L73.4,558.9 L73.9,559.8 L74.4,560.3 L74.9,561.4 L75.4,561.8 L75.9,562.6 L76.4,562.6 L76.9,563.3 L77.4,563.8 L77.9,564.0 L78.4,564.3 L78.9,564.8 L79.4,565.2 L79.9,565.8 L80.4,565.9 L80.9,566.5 L81.4,566.6 L81.9,567.0 L82.4,567.2 L82.9,567.4 L83.4,567.6 L83.9,567.6 L84.4,567.5 L84.9,567.7 L85.4,567.5 L85.9,567.7 L86.4,567.7 L86.9,567.7 L87.4,567.5 L87.9,567.7 L88.4,567.8 L88.9,567.5 L89.4,567.4 L89.9,567.5 L90.4,567.7 L90.9,567.3 L91.4,567.2 L91.9,567.4 L92.4,567.5 L92.9,567.5 L93.4,567.3 L93.9,567.6 L94.4,567.2 L94.9,567.4 L95.4,567.1 L95.9,567.0 L96.4,567.0 L96.9,566.9 L97.4,567.1 L97.9,567.1 L98.4,566.9 L98.9,567.2 L99.4,566.9 L99.9,566.8 L100.4,566.7 L100.9,567.0 L101.4,567.0 L101.9,566.6 L102.4,566.5 L102.9,566.8 L103.4,566.4 L103.9,566.7 L104.4,566.3 L104.9,566.3 L105.4,566.0 L105.9,566.1 L106.4,565.7 L106.9,565.5 L107.4,565.6 L107.9,565.0 L108.4,565.1 L108.9,564.5 L109.4,564.6 L109.9,564.2 L110.4,564.2 L110.9,563.5 L111.4,563.4 L111.9,563.0 L112.4,562.9 L112.9,562.3 L113.4,561.4 L113.9,560.4 L114.4,559.5 L114.9,558.5 L115.4,557.6 L115.9,556.5 L116.4,555.4 L116.9,554.3 L117.4,552.6 L117.9,550.9 L118.4,549.8 L118.9,548.2 L119.4,547.5 L119.9,547.0 L120.4,547.7 L120.9,548.5 L121.4,549.4 L121.9,551.0 L122.4,552.6 L122.9,553.9 L123.4,555.3 L123.9,556.6 L124.4,558.0 L124.9,558.8 L125.4,560.3 L125.9,561.4 L126.4,562.4 L126.9,563.3 L127.4,564.1 L127.9,564.2 L128.4,564.9 L128.9,564.9 L129.4,565.4 L129.9,565.7 L130.4,565.6 L130.9,566.2 L131.4,566.5 L131.9,566.3 L132.4,566.3 L132.9,566.5 L133.4,567.0 L133.9,566.5 L134.4,567.0 L134.9,566.6 L135.4,566.8 L135.9,566.3 L136.4,566.2 L136.9,566.2 L137.4,565.6 L137.9,565.4 L138.4,565.3 L138.9,564.8 L139.4,564.5 L139.9,564.1 L140.4,563.2 L140.9,562.8 L141.4,562.4 L141.9,561.4 L142.4,559.9 L142.9,558.9 L143.4,557.4 L143.9,556.1 L144.4,554.6 L144.9,553.2 L145.4,552.1 L145.9,549.9 L146.4,548.4 L146.9,546.4 L147.4,545.4 L147.9,544.8 L148.4,545.3 L148.9,546.1 L149.4,547.8 L149.9,549.1 L150.4,551.1 L150.9,552.6 L151.4,553.8 L151.9,555.2 L152.4,556.7 L152.9,558.4 L153.4,559.6 L153.9,560.8 L154.4,562.2 L154.9,562.9 L155.4,563.3 L155.9,563.4 L156.4,563.6 L156.9,563.9 L157.4,564.1 L157.9,564.3 L158.4,564.8 L158.9,564.9 L159.4,565.2 L159.9,565.2 L160.4,565.1 L160.9,565.5 L161.4,565.6 L161.9,565.5 L162.4,565.5 L162.9,565.4 L163.4,565.3 L163.9,565.0 L164.4,564.6 L164.9,564.0 L165.4,563.5 L165.9,563.1 L166.4,562.8 L166.9,562.0 L167.4,561.4 L167.9,560.8 L168.4,560.0 L168.9,559.6 L169.4,558.1 L169.9,557.1 L170.4,555.9 L170.9,554.1 L171.4,552.7 L171.9,551.0 L172.4,549.3 L172.9,547.4 L173.4,545.0 L173.9,542.8 L174.4,540.2 L174.9,537.9 L175.4,535.3 L175.9,534.0 L176.4,532.9 L176.9,533.0 L177.4,533.9 L177.9,535.5 L178.4,538.1 L178.9,540.1 L179.4,543.0 L179.9,545.3 L180.4,547.0 L180.9,548.9 L181.4,550.9 L181.9,552.3 L182.4,554.3 L182.9,556.0 L183.4,557.2 L183.9,558.7 L184.4,559.6 L184.9,560.6 L185.4,561.7 L185.9,562.6 L186.4,563.3 L186.9,564.2 L187.4,564.9 L187.9,565.4 L188.4,566.1 L188.9,566.4 L189.4,567.1 L189.9,567.2 L190.4,567.6 L190.9,567.7 L191.4,568.0 L191.9,568.1 L192.4,568.3 L192.9,568.9 L193.4,568.9 L193.9,569.1 L194.4,569.3 L194.9,569.6 L195.4,569.4 L195.9,569.5 L196.4,570.0 L196.9,569.9 L197.4,570.1 L197.9,570.3 L198.4,570.4 L198.9,570.4 L199.4,570.1 L199.9,570.3 L200.4,570.6 L200.9,570.6 L201.4,570.3 L201.9,570.4 L202.4,570.5 L202.9,570.4 L203.4,570.6 L203.9,570.9 L204.4,570.8 L204.9,570.8 L205.4,570.6 L205.9,570.8 L206.4,571.1 L206.9,571.0 L207.4,570.9 L207.9,570.9 L208.4,571.1 L208.9,571.1 L209.4,570.8 L209.9,571.1 L210.4,571.0 L210.9,571.1 L211.4,571.0 L211.9,571.1 L212.4,571.1 L212.9,571.1 L213.4,571.0 L213.9,571.1 L214.4,571.3 L214.9,571.1 L215.4,571.2 L215.9,571.5 L216.4,571.3 L216.9,571.3 L217.4,571.3 L217.9,571.6 L218.4,571.3 L218.9,571.6 L219.4,571.7 L219.9,571.4 L220.4,571.5 L220.9,571.7 L221.4,571.7 L221.9,571.6 L222.4,571.4 L222.9,571.7 L223.4,571.7 L223.9,571.8 L224.4,571.7 L224.9,571.7 L225.4,571.9 L225.9,572.0 L226.4,571.8 L226.9,571.8 L227.4,571.9 L227.9,572.1 L228.4,571.8 L228.9,572.2 L229.4,572.1 L229.9,571.9 L230.4,572.1 L230.9,572.0 L231.4,571.8 L231.9,572.2 L232.4,572.0 L232.9,572.1 L233.4,572.1 L233.9,572.4 L234.4,572.3 L234.9,572.0 L235.4,572.3 L235.9,572.2 L236.4,572.2 L236.9,572.4 L237.4,572.3 L237.9,572.3 L238.4,572.5 L238.9,572.3 L239.4,572.4 L239.9,572.4 L240.4,572.6 L240.9,572.5 L241.4,572.6 L241.9,572.4 L242.4,572.3 L242.9,572.6 L243.4,572.5 L243.9,572.7 L244.4,572.7 L244.9,572.4 L245.4,572.5 L245.9,572.4 L246.4,572.8 L246.9,572.4 L247.4,572.5 L247.9,572.8 L248.4,572.7 L248.9,572.5 L249.4,572.8 L249.9,572.8 L250.4,572.8 L250.9,572.6 L251.4,572.9 L251.9,572.8 L252.4,572.9 L252.9,573.1 L253.4,573.0 L253.9,573.0 L254.4,572.7 L254.9,572.8 L255.4,572.9 L255.9,572.7 L256.4,573.2 L256.9,572.8 L257.4,572.8 L257.9,572.9 L258.4,572.8 L258.9,573.2 L259.4,573.0 L259.9,573.0 L260.4,573.0 L260.9,572.8 L261.4,572.9 L261.9,573.2 L262.4,573.2 L262.9,573.2 L263.4,572.9 L263.9,572.9 L264.4,572.9 L264.9,573.1 L265.4,573.0 L265.9,573.1 L266.4,573.1 L266.9,573.2 L267.4,573.1 L267.9,573.3 L268.4,573.0 L268.9,573.4 L269.4,573.2 L269.9,573.0 L270.4,573.1 L270.9,573.2 L271.4,573.2 L271.9,573.2 L272.4,573.1 L272.9,573.1 L273.4,573.4 L273.9,573.1 L274.4,573.4 L274.9,573.4 L275.4,573.3 L275.9,573.2 L276.4,573.5 L276.9,573.3 L277.4,573.5 L277.9,573.1 L278.4,573.3 L278.9,573.4 L279.4,573.1 L279.9,573.5 L280.4,573.1 L280.9,573.4 L281.4,573.2 L281.9,573.6 L282.4,573.4 L282.9,573.5 L283.4,573.4 L283.9,573.5 L284.4,573.5 L284.9,573.3 L285.4,573.3 L285.9,573.6 L286.4,573.2 L286.9,573.6 L287.4,573.3 L287.9,573.2 L288.4,573.2 L288.9,573.6 L289.4,573.7 L289.9,573.4 L290.4,573.5 L290.9,573.3 L291.4,573.7 L291.9,573.6 L292.4,573.3 L292.9,573.2 L293.4,573.6 L293.9,573.2 L294.4,573.6 L294.9,573.4 L295.4,573.3 L295.9,573.5 L296.4,573.4 L296.9,573.5 L297.4,573.3 L297.9,573.7 L298.4,573.4 L298.9,573.7 L299.4,573.3 L299.9,573.6 L300.4,573.7 L300.9,573.4 L301.4,573.3 L301.9,573.4 L302.4,573.6 L302.9,573.4 L303.4,573.5 L303.9,573.3 L304.4,573.5 L304.9,573.6 L305.4,573.5 L305.9,573.6 L306.4,573.3 L306.9,573.7 L307.4,573.3 L307.9,573.7 L308.4,573.8 L308.9,573.7 L309.4,573.5 L309.9,573.4 L310.4,573.4 L310.9,573.7 L311.4,573.5 L311.9,573.7 L312.4,573.3 L312.9,573.5 L313.4,573.7 L313.9,573.6 L314.4,573.6 L314.9,573.3 L315.4,573.4 L315.9,573.4 L316.4,573.7 L316.9,573.7 L317.4,573.4 L317.9,573.8 L318.4,573.3 L318.9,573.6 L319.4,573.8 L319.9,573.5 L320.4,573.8 L320.9,573.6 L321.4,573.3 L321.9,573.5 L322.4,573.5 L322.9,573.4 L323.4,573.7 L323.9,573.4 L324.4,573.7 L324.9,573.5 L325.4,573.3 L325.9,573.6 L326.4,573.4 L326.9,573.6 L327.4,573.7 L327.9,573.6 L328.4,573.5 L328.9,573.3 L329.4,573.6 L329.9,573.4 L330.4,573.6 L330.9,573.4 L331.4,573.6 L331.9,573.5 L332.4,573.5 L332.9,573.7 L333.4,573.4 L333.9,573.4 L334.4,573.8 L334.9,573.5 L335.4,573.7 L335.9,573.8 L336.4,573.6 L336.9,573.4 L337.4,573.4 L337.9,573.8 L338.4,573.4 L338.9,573.6 L339.4,573.6 L339.9,573.4 L340.4,573.6 L340.9,573.4 L341.4,573.6 L341.9,573.6 L342.4,573.5 L342.9,573.4 L343.4,573.5 L343.9,573.4 L344.4,573.4 L344.9,573.5 L345.4,573.8 L345.9,573.6 L346.4,573.8 L346.9,573.4 L347.4,573.8 L347.9,573.6 L348.4,573.7 L348.9,573.6 L349.4,573.7 L349.9,573.5 L350.4,573.7 L350.9,573.4 L351.4,573.5 L351.9,573.4 L352.4,573.5 L352.9,573.6 L353.4,573.5 L353.9,573.8 L354.4,573.4 L354.9,573.6 L355.4,573.5 L355.9,573.7 L356.4,573.8 L356.9,573.7 L357.4,573.4 L357.9,573.5 L358.4,573.7 L358.9,573.9 L359.4,573.4 L359.9,573.7 L360.4,573.7 L360.9,573.8 L361.4,573.5 L361.9,573.8 L362.4,573.6 L362.9,573.8 L363.4,573.4 L363.9,573.8 L364.4,573.6 L364.9,573.6 L365.4,573.4 L365.9,573.5 L366.4,573.7 L366.9,573.7 L367.4,573.5 L367.9,573.5 L368.4,573.4 L368.9,573.5 L369.4,573.5 L369.9,573.5 L370.4,573.9 L370.9,573.9 L371.4,573.8 L371.9,573.6 L372.4,573.6 L372.9,573.8 L373.4,573.8 L373.9,573.8 L374.4,573.7 L374.9,573.5 L375.4,573.7 L375.9,573.8 L376.4,573.8 L376.9,573.4 L377.4,573.7 L377.9,573.6 L378.4,573.5 L378.9,573.9 L379.4,573.7 L379.9,573.8 L380.4,573.5 L380.9,573.8 L381.4,573.9 L381.9,573.8 L382.4,573.8 L382.9,573.8 L383.4,573.8 L383.9,573.7 L384.4,573.6 L384.9,573.8 L385.4,573.8 L385.9,573.8 L386.4,573.5 L386.9,573.9 L387.4,573.7 L387.9,573.9 L388.4,573.5 L388.9,573.9 L389.4,573.8 L389.9,573.5 L390.4,573.8 L390.9,573.5 L391.4,573.5 L391.9,573.6 L392.4,573.5 L392.9,573.7 L393.4,573.9 L393.9,573.7 L394.4,573.8 L394.9,573.6 L395.4,573.8 L395.9,573.8 L396.4,573.7 L396.9,573.9 L397.4,573.8 L397.9,573.6 L398.4,573.5 L398.9,573.7 L399.4,573.8 L399.9,573.6 L400.4,573.7 L400.9,573.8 L401.4,573.8 L401.9,573.4 L402.4,573.7 L402.9,573.4 L403.4,573.5 L403.9,573.8 L404.4,573.6 L404.9,573.7 L405.4,573.6 L405.9,573.6 L406.4,573.5 L406.9,573.6 L407.4,573.8 L407.9,573.7 L408.4,573.6 L408.9,573.5 L409.4,573.6 L409.9,573.8 L410.4,573.6 L410.9,573.8 L411.4,573.8 L411.9,573.5 L412.4,573.8 L412.9,573.4 L413.4,573.8 L413.9,573.5 L414.4,573.6 L414.9,573.9 L415.4,573.6 L415.9,573.5 L416.4,573.9 L416.9,573.7 L417.4,573.9 L417.9,573.6 L418.4,573.7 L418.9,573.9 L419.4,573.7 L419.9,573.9 L420.4,573.5 L420.9,573.8 L421.4,573.5 L421.9,573.7 L422.4,573.4 L422.9,573.5 L423.4,573.9 L423.9,573.7 L424.4,573.8 L424.9,573.6 L425.4,573.6 L425.9,573.5 L426.4,573.7 L426.9,573.9 L427.4,573.7 L427.9,573.6 L428.4,573.9 L428.9,573.9 L429.4,573.8 L429.9,573.5 L430.4,573.7 L430.9,573.7 L431.4,573.9 L431.9,573.6 L432.4,573.8 L432.9,573.8 L433.4,573.6 L433.9,573.7 L434.4,573.8 L434.9,573.9 L435.4,573.7 L435.9,573.6 L436.4,573.9 L436.9,573.5 L437.4,573.9 L437.9,573.8 L438.4,573.7 L438.9,573.7 L439.4,573.8 L439.9,573.9 L440.4,573.8 L440.9,573.8 L441.4,573.5 L441.9,573.6 L442.4,573.5 L442.9,573.9 L443.4,573.9 L443.9,573.5 L444.4,573.7 L444.9,573.7 L445.4,573.5 L445.9,573.6 L446.4,573.8 L446.9,573.8 L447.4,573.6 L447.9,573.8 L448.4,573.6 L448.9,573.7 L449.4,573.7 L449.9,573.9 L450.4,573.8 L450.9,573.8 L451.4,573.8 L451.9,573.6 L452.4,573.9 L452.9,573.8 L453.4,573.8 L453.9,573.6 L454.4,573.5 L454.9,573.7 L455.4,573.9 L455.9,573.8 L456.4,573.6 L456.9,573.5 L457.4,573.7 L457.9,573.9 L458.4,573.5 L458.9,573.8 L459.4,573.5 L459.9,573.6 L460.4,573.5 L460.9,573.6 L461.4,573.6 L461.9,573.9 L462.4,573.9 L462.9,573.5 L463.4,573.6 L463.9,573.9 L464.4,573.5 L464.9,573.6 L465.4,573.7 L465.9,573.5 L466.4,573.6 L466.9,573.6 L467.4,573.6 L467.9,573.9 L468.4,573.6 L468.9,573.6 L469.4,573.9 L469.9,573.7 L470.4,573.9 L470.9,573.8 L471.4,573.8 L471.9,573.6 L472.4,573.5 L472.9,573.8 L473.4,573.7 L473.9,573.7 L474.4,573.8 L474.9,573.8 L475.4,573.6 L475.9,573.6 L476.4,573.9 L476.9,573.7 L477.4,573.6 L477.9,573.8 L478.4,573.6 L478.9,573.8 L479.4,573.5 L479.9,573.9 L480.4,573.7 L480.9,573.6 L481.4,573.9 L481.9,573.6 L482.4,573.6 L482.9,573.5 L483.4,573.7 L483.9,573.8 L484.4,573.8 L484.9,573.7 L485.4,573.9 L485.9,573.5 L486.4,573.6 L486.9,573.8 L487.4,573.9 L487.9,573.8 L488.4,573.8 L488.9,573.8" fill="none" stroke="#c848ff" stroke-width="7.6" stroke-linejoin="round" opacity="0.5" filter="url(#bl2)"/>
<path d="M61.8,280 V211.5" fill="none" stroke="#c848ff" stroke-width="5.5" opacity="0.45" filter="url(#bl2)"/>
<g filter="url(#bl)"><path transform="scale(1,1.3)" d="M25.5,441.69 L26.0,441.69 L26.5,441.69 L27.0,441.69 L27.5,441.69 L28.0,441.69 L28.5,441.69 L29.0,441.69 L29.5,441.69 L30.0,441.68 L30.5,441.68 L31.0,441.68 L31.5,441.67 L32.0,441.67 L32.5,441.67 L33.0,441.66 L33.5,441.66 L34.0,441.65 L34.5,441.65 L35.0,441.64 L35.5,441.64 L36.0,441.63 L36.5,441.63 L37.0,441.62 L37.5,441.61 L38.0,441.60 L38.5,441.59 L39.0,441.58 L39.5,441.57 L40.0,441.56 L40.5,441.55 L41.0,441.54 L41.5,441.50 L42.0,441.32 L42.5,441.00 L43.0,440.56 L43.5,440.03 L44.0,439.43 L44.5,438.77 L45.0,438.08 L45.5,437.37 L46.0,436.67 L46.5,436.00 L47.0,435.33 L47.5,434.63 L48.0,433.89 L48.5,433.10 L49.0,432.27 L49.5,431.39 L50.0,430.46 L50.5,429.48 L51.0,428.43 L51.5,427.33 L52.0,426.17 L52.5,424.91 L53.0,423.51 L53.5,421.93 L54.0,420.13 L54.5,418.02 L55.0,415.24 L55.5,411.85 L56.0,408.03 L57.7,384.62 L57.8,381.54 L58.0,378.46 L58.1,375.38 L58.3,372.31 L58.4,369.23 L58.5,366.15 L58.6,363.08 L58.6,360.00 L58.7,356.92 L58.8,353.85 L58.8,350.77 L58.9,347.69 L58.9,344.62 L59.0,341.54 L59.0,338.46 L59.1,335.38 L59.1,332.31 L59.2,329.23 L59.2,326.15 L59.2,323.08 L59.3,320.00 L59.3,316.92 L59.4,313.85 L59.4,310.77 L59.5,307.69 L59.6,304.62 L59.6,301.54 L59.7,298.46 L59.7,295.38 L59.8,292.31 L59.9,289.23 L59.9,286.15 L60.0,283.08 L60.1,280.00 L60.1,276.92 L60.2,273.85 L60.3,270.77 L60.3,267.69 L60.4,264.62 L60.5,261.54 L60.5,258.46 L60.6,255.38 L60.7,252.31 L60.8,249.23 L60.9,246.15 L61.0,243.08 L61.1,240.00 L61.1,236.92 L61.2,233.85 L61.3,230.77 L61.4,227.69 L61.5,224.62 L61.6,221.54 L61.7,218.46 L61.7,215.38 L61.8,212.31 L61.8,212.31 L61.9,215.38 L61.9,218.46 L62.0,221.54 L62.1,224.62 L62.2,227.69 L62.3,230.77 L62.4,233.85 L62.5,236.92 L62.5,240.00 L62.6,243.08 L62.7,246.15 L62.8,249.23 L62.9,252.31 L63.0,255.38 L63.1,258.46 L63.1,261.54 L63.2,264.62 L63.3,267.69 L63.3,270.77 L63.4,273.85 L63.5,276.92 L63.5,280.00 L63.6,283.08 L63.7,286.15 L63.7,289.23 L63.8,292.31 L63.9,295.38 L63.9,298.46 L64.0,301.54 L64.0,304.62 L64.1,307.69 L64.2,310.77 L64.2,313.85 L64.3,316.92 L64.3,320.00 L64.4,323.08 L64.4,326.15 L64.4,329.23 L64.5,332.31 L64.5,335.38 L64.6,338.46 L64.6,341.54 L64.7,344.62 L64.7,347.69 L64.8,350.77 L64.8,353.85 L64.9,356.92 L65.0,360.00 L65.0,363.08 L65.1,366.15 L65.2,369.23 L65.3,372.31 L65.5,375.38 L65.6,378.46 L65.8,381.54 L65.9,384.62 L67.4,404.87 L67.9,411.46 L68.4,416.80 L68.9,419.95 L69.4,421.87 L69.9,423.41 L70.4,424.87 L70.9,425.82 L71.4,426.97 L71.9,427.71 L72.4,428.57 L72.9,429.34 L73.4,429.88 L73.9,430.58 L74.4,430.98 L74.9,431.84 L75.4,432.17 L75.9,432.75 L76.4,432.77 L76.9,433.32 L77.4,433.70 L77.9,433.88 L78.4,434.11 L78.9,434.44 L79.4,434.74 L79.9,435.27 L80.4,435.27 L80.9,435.80 L81.4,435.87 L81.9,436.12 L82.4,436.31 L82.9,436.43 L83.4,436.58 L83.9,436.62 L84.4,436.55 L84.9,436.71 L85.4,436.52 L85.9,436.69 L86.4,436.71 L86.9,436.71 L87.4,436.52 L87.9,436.69 L88.4,436.76 L88.9,436.55 L89.4,436.47 L89.9,436.56 L90.4,436.71 L90.9,436.38 L91.4,436.32 L91.9,436.48 L92.4,436.53 L92.9,436.56 L93.4,436.38 L93.9,436.61 L94.4,436.29 L94.9,436.47 L95.4,436.19 L95.9,436.15 L96.4,436.16 L96.9,436.11 L97.4,436.25 L97.9,436.24 L98.4,436.07 L98.9,436.34 L99.4,436.08 L99.9,435.97 L100.4,435.95 L100.9,436.13 L101.4,436.17 L101.9,435.84 L102.4,435.74 L102.9,435.97 L103.4,435.70 L103.9,435.91 L104.4,435.64 L104.9,435.60 L105.4,435.38 L105.9,435.45 L106.4,435.19 L106.9,435.00 L107.4,435.08 L107.9,434.62 L108.4,434.69 L108.9,434.26 L109.4,434.29 L109.9,434.00 L110.4,433.97 L110.9,433.44 L111.4,433.40 L111.9,433.09 L112.4,432.99 L112.9,432.55 L113.4,431.87 L113.9,431.07 L114.4,430.36 L114.9,429.60 L115.4,428.89 L115.9,428.05 L116.4,427.20 L116.9,426.35 L117.4,425.11 L117.9,423.77 L118.4,422.92 L118.9,421.69 L119.4,421.19 L119.9,420.79 L120.4,421.29 L120.9,421.90 L121.4,422.58 L121.9,423.86 L122.4,425.09 L122.9,426.07 L123.4,427.19 L123.9,428.16 L124.4,429.21 L124.9,429.86 L125.4,430.99 L125.9,431.85 L126.4,432.60 L126.9,433.32 L127.4,433.94 L127.9,433.99 L128.4,434.51 L128.9,434.55 L129.4,434.94 L129.9,435.18 L130.4,435.11 L130.9,435.55 L131.4,435.76 L131.9,435.62 L132.4,435.62 L132.9,435.74 L133.4,436.14 L133.9,435.80 L134.4,436.16 L134.9,435.83 L135.4,435.98 L135.9,435.63 L136.4,435.50 L136.9,435.51 L137.4,435.07 L137.9,434.91 L138.4,434.86 L138.9,434.48 L139.4,434.22 L139.9,433.92 L140.4,433.19 L140.9,432.89 L141.4,432.58 L141.9,431.82 L142.4,430.70 L142.9,429.90 L143.4,428.76 L143.9,427.76 L144.4,426.58 L144.9,425.53 L145.4,424.69 L145.9,423.02 L146.4,421.82 L146.9,420.30 L147.4,419.56 L147.9,419.09 L148.4,419.48 L148.9,420.11 L149.4,421.36 L149.9,422.40 L150.4,423.93 L150.9,425.08 L151.4,425.97 L151.9,427.10 L152.4,428.27 L152.9,429.56 L153.4,430.42 L153.9,431.35 L154.4,432.45 L154.9,433.01 L155.4,433.27 L155.9,433.35 L156.4,433.55 L156.9,433.81 L157.4,433.93 L157.9,434.11 L158.4,434.45 L158.9,434.56 L159.4,434.74 L159.9,434.77 L160.4,434.71 L160.9,435.03 L161.4,435.05 L161.9,435.02 L162.4,434.97 L162.9,434.92 L163.4,434.87 L163.9,434.61 L164.4,434.29 L164.9,433.86 L165.4,433.48 L165.9,433.14 L166.4,432.94 L166.9,432.28 L167.4,431.82 L167.9,431.36 L168.4,430.76 L168.9,430.46 L169.4,429.27 L169.9,428.55 L170.4,427.61 L170.9,426.21 L171.4,425.15 L171.9,423.84 L172.4,422.57 L172.9,421.07 L173.4,419.25 L173.9,417.57 L174.4,415.56 L174.9,413.73 L175.4,411.77 L175.9,410.78 L176.4,409.91 L176.9,409.97 L177.4,410.66 L177.9,411.91 L178.4,413.91 L178.9,415.48 L179.4,417.71 L179.9,419.47 L180.4,420.76 L180.9,422.20 L181.4,423.77 L181.9,424.88 L182.4,426.37 L182.9,427.66 L183.4,428.64 L183.9,429.74 L184.4,430.44 L184.9,431.26 L185.4,432.04 L185.9,432.77 L186.4,433.29 L186.9,434.02 L187.4,434.54 L187.9,434.90 L188.4,435.48 L188.9,435.69 L189.4,436.21 L189.9,436.27 L190.4,436.59 L190.9,436.72 L191.4,436.91 L191.9,437.00 L192.4,437.15 L192.9,437.62 L193.4,437.62 L193.9,437.77 L194.4,437.90 L194.9,438.14 L195.4,438.03 L195.9,438.11 L196.4,438.46 L196.9,438.40 L197.4,438.54 L197.9,438.68 L198.4,438.76 L198.9,438.79 L199.4,438.52 L199.9,438.69 L200.4,438.90 L200.9,438.94 L201.4,438.71 L201.9,438.75 L202.4,438.82 L202.9,438.79 L203.4,438.92 L203.9,439.12 L204.4,439.04 L204.9,439.04 L205.4,438.92 L205.9,439.07 L206.4,439.32 L206.9,439.22 L207.4,439.15 L207.9,439.18 L208.4,439.33 L208.9,439.33 L209.4,439.11 L209.9,439.34 L210.4,439.23 L210.9,439.31 L211.4,439.22 L211.9,439.29 L212.4,439.30 L212.9,439.33 L213.4,439.21 L213.9,439.30 L214.4,439.46 L214.9,439.29 L215.4,439.35 L215.9,439.58 L216.4,439.43 L216.9,439.47 L217.4,439.46 L217.9,439.71 L218.4,439.44 L218.9,439.67 L219.4,439.78 L219.9,439.54 L220.4,439.65 L220.9,439.81 L221.4,439.76 L221.9,439.68 L222.4,439.57 L222.9,439.74 L223.4,439.73 L223.9,439.88 L224.4,439.74 L224.9,439.80 L225.4,439.91 L225.9,439.99 L226.4,439.83 L226.9,439.86 L227.4,439.95 L227.9,440.10 L228.4,439.83 L228.9,440.15 L229.4,440.06 L229.9,439.95 L230.4,440.08 L230.9,439.96 L231.4,439.88 L231.9,440.16 L232.4,440.03 L232.9,440.10 L233.4,440.10 L233.9,440.27 L234.4,440.23 L234.9,439.97 L235.4,440.20 L235.9,440.17 L236.4,440.18 L236.9,440.34 L237.4,440.19 L237.9,440.23 L238.4,440.41 L238.9,440.25 L239.4,440.28 L239.9,440.30 L240.4,440.44 L240.9,440.40 L241.4,440.44 L241.9,440.32 L242.4,440.20 L242.9,440.46 L243.4,440.42 L243.9,440.52 L244.4,440.53 L244.9,440.30 L245.4,440.35 L245.9,440.31 L246.4,440.61 L246.9,440.34 L247.4,440.35 L247.9,440.62 L248.4,440.56 L248.9,440.38 L249.4,440.63 L249.9,440.65 L250.4,440.58 L250.9,440.42 L251.4,440.68 L251.9,440.59 L252.4,440.66 L252.9,440.83 L253.4,440.77 L253.9,440.80 L254.4,440.54 L254.9,440.62 L255.4,440.70 L255.9,440.51 L256.4,440.90 L256.9,440.63 L257.4,440.64 L257.9,440.66 L258.4,440.65 L258.9,440.89 L259.4,440.78 L259.9,440.77 L260.4,440.74 L260.9,440.61 L261.4,440.71 L261.9,440.94 L262.4,440.92 L262.9,440.95 L263.4,440.72 L263.9,440.71 L264.4,440.66 L264.9,440.85 L265.4,440.80 L265.9,440.84 L266.4,440.85 L266.9,440.90 L267.4,440.82 L267.9,440.99 L268.4,440.77 L268.9,441.05 L269.4,440.92 L269.9,440.73 L270.4,440.84 L270.9,440.93 L271.4,440.89 L271.9,440.96 L272.4,440.87 L272.9,440.86 L273.4,441.06 L273.9,440.87 L274.4,441.04 L274.9,441.08 L275.4,441.01 L275.9,440.96 L276.4,441.15 L276.9,440.97 L277.4,441.14 L277.9,440.83 L278.4,440.98 L278.9,441.07 L279.4,440.84 L279.9,441.16 L280.4,440.86 L280.9,441.07 L281.4,440.92 L281.9,441.21 L282.4,441.07 L282.9,441.17 L283.4,441.06 L283.9,441.13 L284.4,441.13 L284.9,440.99 L285.4,440.96 L285.9,441.21 L286.4,440.95 L286.9,441.25 L287.4,440.98 L287.9,440.94 L288.4,440.94 L288.9,441.21 L289.4,441.28 L289.9,441.08 L290.4,441.17 L290.9,441.02 L291.4,441.28 L291.9,441.19 L292.4,440.99 L292.9,440.96 L293.4,441.21 L293.9,440.96 L294.4,441.26 L294.9,441.06 L295.4,441.04 L295.9,441.17 L296.4,441.07 L296.9,441.17 L297.4,441.01 L297.9,441.31 L298.4,441.08 L298.9,441.28 L299.4,441.02 L299.9,441.27 L300.4,441.34 L300.9,441.11 L301.4,440.98 L301.9,441.11 L302.4,441.21 L302.9,441.05 L303.4,441.18 L303.9,441.00 L304.4,441.15 L304.9,441.25 L305.4,441.14 L305.9,441.23 L306.4,441.02 L306.9,441.29 L307.4,441.02 L307.9,441.33 L308.4,441.36 L308.9,441.34 L309.4,441.18 L309.9,441.09 L310.4,441.11 L310.9,441.27 L311.4,441.17 L311.9,441.34 L312.4,441.02 L312.9,441.17 L313.4,441.32 L313.9,441.22 L314.4,441.19 L314.9,441.02 L315.4,441.04 L315.9,441.09 L316.4,441.33 L316.9,441.32 L317.4,441.08 L317.9,441.35 L318.4,441.01 L318.9,441.22 L319.4,441.37 L319.9,441.13 L320.4,441.36 L320.9,441.25 L321.4,441.02 L321.9,441.13 L322.4,441.17 L322.9,441.10 L323.4,441.29 L323.9,441.07 L324.4,441.31 L324.9,441.12 L325.4,441.03 L325.9,441.22 L326.4,441.04 L326.9,441.22 L327.4,441.31 L327.9,441.24 L328.4,441.19 L328.9,441.02 L329.4,441.21 L329.9,441.05 L330.4,441.26 L330.9,441.06 L331.4,441.24 L331.9,441.15 L332.4,441.16 L332.9,441.27 L333.4,441.08 L333.9,441.08 L334.4,441.38 L334.9,441.15 L335.4,441.34 L335.9,441.36 L336.4,441.20 L336.9,441.08 L337.4,441.06 L337.9,441.36 L338.4,441.07 L338.9,441.21 L339.4,441.23 L339.9,441.07 L340.4,441.21 L340.9,441.09 L341.4,441.23 L341.9,441.22 L342.4,441.17 L342.9,441.10 L343.4,441.18 L343.9,441.11 L344.4,441.08 L344.9,441.12 L345.4,441.37 L345.9,441.23 L346.4,441.38 L346.9,441.04 L347.4,441.40 L347.9,441.22 L348.4,441.34 L348.9,441.26 L349.4,441.30 L349.9,441.13 L350.4,441.33 L350.9,441.10 L351.4,441.14 L351.9,441.05 L352.4,441.19 L352.9,441.24 L353.4,441.15 L353.9,441.39 L354.4,441.08 L354.9,441.27 L355.4,441.13 L355.9,441.27 L356.4,441.35 L356.9,441.32 L357.4,441.07 L357.9,441.14 L358.4,441.28 L358.9,441.43 L359.4,441.06 L359.9,441.29 L360.4,441.32 L360.9,441.36 L361.4,441.18 L361.9,441.36 L362.4,441.23 L362.9,441.41 L363.4,441.06 L363.9,441.42 L364.4,441.21 L364.9,441.21 L365.4,441.09 L365.9,441.15 L366.4,441.34 L366.9,441.32 L367.4,441.12 L367.9,441.19 L368.4,441.11 L368.9,441.14 L369.4,441.14 L369.9,441.19 L370.4,441.44 L370.9,441.44 L371.4,441.37 L371.9,441.25 L372.4,441.25 L372.9,441.36 L373.4,441.41 L373.9,441.35 L374.4,441.31 L374.9,441.14 L375.4,441.31 L375.9,441.39 L376.4,441.37 L376.9,441.10 L377.4,441.34 L377.9,441.20 L378.4,441.13 L378.9,441.44 L379.4,441.33 L379.9,441.36 L380.4,441.12 L380.9,441.39 L381.4,441.43 L381.9,441.42 L382.4,441.36 L382.9,441.39 L383.4,441.38 L383.9,441.30 L384.4,441.24 L384.9,441.39 L385.4,441.38 L385.9,441.41 L386.4,441.19 L386.9,441.45 L387.4,441.28 L387.9,441.44 L388.4,441.12 L388.9,441.45 L389.4,441.38 L389.9,441.18 L390.4,441.40 L390.9,441.17 L391.4,441.16 L391.9,441.26 L392.4,441.17 L392.9,441.27 L393.4,441.43 L393.9,441.34 L394.4,441.36 L394.9,441.23 L395.4,441.38 L395.9,441.39 L396.4,441.35 L396.9,441.45 L397.4,441.40 L397.9,441.24 L398.4,441.12 L398.9,441.34 L399.4,441.41 L399.9,441.22 L400.4,441.31 L400.9,441.41 L401.4,441.39 L401.9,441.09 L402.4,441.28 L402.9,441.09 L403.4,441.13 L403.9,441.40 L404.4,441.25 L404.9,441.32 L405.4,441.27 L405.9,441.22 L406.4,441.17 L406.9,441.23 L407.4,441.42 L407.9,441.33 L408.4,441.20 L408.9,441.13 L409.4,441.20 L409.9,441.36 L410.4,441.26 L410.9,441.35 L411.4,441.40 L411.9,441.14 L412.4,441.36 L412.9,441.11 L413.4,441.41 L413.9,441.17 L414.4,441.20 L414.9,441.46 L415.4,441.24 L415.9,441.18 L416.4,441.44 L416.9,441.33 L417.4,441.44 L417.9,441.25 L418.4,441.29 L418.9,441.47 L419.4,441.29 L419.9,441.48 L420.4,441.17 L420.9,441.42 L421.4,441.16 L421.9,441.30 L422.4,441.10 L422.9,441.17 L423.4,441.46 L423.9,441.28 L424.4,441.41 L424.9,441.20 L425.4,441.24 L425.9,441.14 L426.4,441.31 L426.9,441.43 L427.4,441.30 L427.9,441.25 L428.4,441.46 L428.9,441.45 L429.4,441.36 L429.9,441.13 L430.4,441.34 L430.9,441.27 L431.4,441.47 L431.9,441.24 L432.4,441.36 L432.9,441.35 L433.4,441.25 L433.9,441.31 L434.4,441.37 L434.9,441.45 L435.4,441.30 L435.9,441.25 L436.4,441.48 L436.9,441.13 L437.4,441.43 L437.9,441.37 L438.4,441.32 L438.9,441.28 L439.4,441.40 L439.9,441.45 L440.4,441.39 L440.9,441.40 L441.4,441.12 L441.9,441.23 L442.4,441.16 L442.9,441.47 L443.4,441.45 L443.9,441.16 L444.4,441.33 L444.9,441.33 L445.4,441.13 L445.9,441.26 L446.4,441.40 L446.9,441.36 L447.4,441.22 L447.9,441.40 L448.4,441.22 L448.9,441.32 L449.4,441.27 L449.9,441.49 L450.4,441.36 L450.9,441.42 L451.4,441.37 L451.9,441.26 L452.4,441.48 L452.9,441.38 L453.4,441.38 L453.9,441.22 L454.4,441.17 L454.9,441.33 L455.4,441.43 L455.9,441.42 L456.4,441.25 L456.9,441.17 L457.4,441.31 L457.9,441.45 L458.4,441.17 L458.9,441.40 L459.4,441.18 L459.9,441.23 L460.4,441.13 L460.9,441.23 L461.4,441.26 L461.9,441.48 L462.4,441.48 L462.9,441.19 L463.4,441.23 L463.9,441.48 L464.4,441.19 L464.9,441.24 L465.4,441.28 L465.9,441.16 L466.4,441.21 L466.9,441.27 L467.4,441.26 L467.9,441.48 L468.4,441.22 L468.9,441.19 L469.4,441.46 L469.9,441.29 L470.4,441.44 L470.9,441.36 L471.4,441.41 L471.9,441.24 L472.4,441.17 L472.9,441.41 L473.4,441.30 L473.9,441.33 L474.4,441.37 L474.9,441.40 L475.4,441.22 L475.9,441.25 L476.4,441.47 L476.9,441.32 L477.4,441.23 L477.9,441.36 L478.4,441.21 L478.9,441.41 L479.4,441.13 L479.9,441.43 L480.4,441.33 L480.9,441.25 L481.4,441.48 L481.9,441.22 L482.4,441.21 L482.9,441.14 L483.4,441.33 L483.9,441.41 L484.4,441.38 L484.9,441.27 L485.4,441.43 L485.9,441.16 L486.4,441.23 L486.9,441.36 L487.4,441.49 L487.9,441.36 L488.4,441.38 L488.9,441.41" fill="none" stroke="#6a2af5" stroke-width="4.5" stroke-linejoin="round" stroke-linecap="round"/></g>
<path d="M61.8,280 V211.5" fill="none" stroke="#6a2af5" stroke-width="3.2" stroke-linecap="round" filter="url(#bl)"/>
<clipPath id="ca"><rect x="209.5" y="12.7" width="148.4" height="145.7"/></clipPath>
<g clip-path="url(#ca)">
<path d="M205.0,146.0 L205.5,145.5 L206.0,145.0 L206.5,144.4 L207.0,143.7 L207.5,143.0 L208.0,142.2 L208.5,141.3 L209.0,140.4 L209.5,139.4 L210.0,138.3 L210.5,137.1 L211.0,135.8 L211.5,134.4 L212.0,132.9 L212.5,131.5 L213.0,130.0 L213.5,128.5 L214.0,127.0 L214.5,125.5 L215.0,124.1 L215.5,122.7 L216.0,121.2 L216.5,119.7 L217.0,118.2 L217.5,116.6 L218.0,115.0 L218.5,113.2 L219.0,111.4 L219.5,109.5 L220.0,107.5 L220.5,105.3 L221.0,102.8 L221.5,100.2 L222.0,97.4 L222.5,94.6 L223.0,91.6 L223.5,88.5 L224.0,85.5 L224.5,82.4 L225.0,79.4 L225.5,76.4 L226.0,73.4 L226.5,70.5 L227.0,67.5 L227.5,64.4 L228.0,61.4 L228.5,58.3 L229.0,55.3 L229.5,52.3 L230.0,49.3 L230.5,46.4 L231.0,43.5 L231.5,40.5 L232.0,37.5 L232.5,34.7 L233.0,31.9 L233.5,29.4 L234.0,27.1 L234.5,24.9 L235.0,22.9 L235.5,21.1 L236.0,19.6 L236.5,19.9 L237.0,21.4 L237.5,23.1 L238.0,25.0 L238.5,27.1 L239.0,29.4 L239.5,31.8 L240.0,34.4 L240.5,37.2 L241.0,40.2 L241.5,43.2 L242.0,46.4 L242.5,49.6 L243.0,53.2 L243.5,57.0 L244.0,60.9 L244.5,64.9 L245.0,68.9 L245.5,72.9 L246.0,76.6 L246.5,80.2 L247.0,83.5 L247.5,86.7 L248.0,89.8 L248.5,92.9 L249.0,96.0 L249.5,98.9 L250.0,101.8 L250.5,104.5 L251.0,107.2 L251.5,109.7 L252.0,112.2 L252.5,114.5 L253.0,116.6 L253.5,118.8 L254.0,120.9 L254.5,123.0 L255.0,125.0 L255.5,127.0 L256.0,128.8 L256.5,130.5 L257.0,132.1 L257.5,133.6 L258.0,134.9 L258.5,136.0 L259.0,137.0 L259.5,138.0 L260.0,138.9 L260.5,139.9 L261.0,140.8 L261.5,141.6 L262.0,142.4 L262.5,143.2 L263.0,143.9 L263.5,144.6 L264.0,145.3 L264.5,145.9 L265.0,146.5 L265.5,147.0 L266.0,147.5 L266.5,147.9 L267.0,148.3 L267.5,148.6 L268.0,148.9 L268.5,149.2 L269.0,149.4 L269.5,149.7 L270.0,149.9 L270.5,150.2 L271.0,150.4 L271.5,150.6 L272.0,150.8 L272.5,151.0 L273.0,151.2 L273.5,151.4 L274.0,151.6 L274.5,151.7 L275.0,151.9 L275.5,152.0 L276.0,152.2 L276.5,152.3 L277.0,152.5 L277.5,152.6 L278.0,152.7 L278.5,152.8 L279.0,152.9 L279.5,153.0 L280.0,153.1 L280.5,153.2 L281.0,153.3 L281.5,153.4 L282.0,153.5 L282.5,153.6 L283.0,153.7 L283.5,153.8 L284.0,153.8 L284.5,153.9 L285.0,154.0 L285.5,154.1 L286.0,154.1 L286.5,154.2 L287.0,154.3 L287.5,154.4 L288.0,154.4 L288.5,154.5 L289.0,154.6 L289.5,154.6 L290.0,154.7 L290.5,154.7 L291.0,154.8 L291.5,154.9 L292.0,154.9 L292.5,155.0 L293.0,155.0 L293.5,155.1 L294.0,155.1 L294.5,155.1 L295.0,155.2 L295.5,155.2 L296.0,155.3 L296.5,155.3 L297.0,155.3 L297.5,155.4 L298.0,155.4 L298.5,155.4 L299.0,155.5 L299.5,155.5 L300.0,155.5 L300.5,155.5 L301.0,155.5 L301.5,155.6 L302.0,155.6 L302.5,155.6 L303.0,155.6 L303.5,155.6 L304.0,155.7 L304.5,155.7 L305.0,155.7 L305.5,155.7 L306.0,155.7 L306.5,155.8 L307.0,155.8 L307.5,155.8 L308.0,155.8 L308.5,155.8 L309.0,155.8 L309.5,155.9 L310.0,155.9 L310.5,155.9 L311.0,155.9 L311.5,155.9 L312.0,156.0 L312.5,156.0 L313.0,156.0 L313.5,156.0 L314.0,156.0 L314.5,156.0 L315.0,156.1 L315.5,156.1 L316.0,156.1 L316.5,156.1 L317.0,156.1 L317.5,156.1 L318.0,156.1 L318.5,156.2 L319.0,156.2 L319.5,156.2 L320.0,156.2 L320.5,156.2 L321.0,156.2 L321.5,156.2 L322.0,156.3 L322.5,156.3 L323.0,156.3 L323.5,156.3 L324.0,156.3 L324.5,156.3 L325.0,156.3 L325.5,156.4 L326.0,156.4 L326.5,156.4 L327.0,156.4 L327.5,156.4 L328.0,156.4 L328.5,156.4 L329.0,156.4 L329.5,156.4 L330.0,156.5 L330.5,156.5 L331.0,156.5 L331.5,156.5 L332.0,156.5 L332.5,156.5 L333.0,156.5 L333.5,156.5 L334.0,156.5 L334.5,156.6 L335.0,156.6 L335.5,156.6 L336.0,156.6 L336.5,156.6 L337.0,156.6 L337.5,156.6 L338.0,156.6 L338.5,156.6 L339.0,156.6 L339.5,156.6 L340.0,156.6 L340.5,156.7 L341.0,156.7 L341.5,156.7 L342.0,156.7 L342.5,156.7 L343.0,156.7 L343.5,156.7 L344.0,156.7 L344.5,156.7 L345.0,156.7 L345.5,156.7 L346.0,156.7 L346.5,156.7 L347.0,156.7 L347.5,156.7 L348.0,156.7 L348.5,156.7 L349.0,156.8 L349.5,156.8 L350.0,156.8 L350.5,156.8 L351.0,156.8 L351.5,156.8 L352.0,156.8 L352.5,156.8 L353.0,156.8 L353.5,156.8 L354.0,156.8 L354.5,156.8 L355.0,156.8 L355.5,156.8 L356.0,156.8 L356.5,156.8 L357.0,156.8 L357.5,156.8 L358.0,156.8 L358.5,156.8 L359.0,156.8 L359.5,156.8 L360.0,156.8" fill="none" stroke="#f458ff" stroke-width="7" opacity="0.75" filter="url(#bl2)"/>
<path d="M205.0,148.6 L205.5,148.5 L206.0,148.4 L206.5,148.3 L207.0,148.2 L207.5,148.1 L208.0,147.9 L208.5,147.8 L209.0,147.7 L209.5,147.5 L210.0,147.4 L210.5,147.2 L211.0,147.1 L211.5,146.9 L212.0,146.7 L212.5,146.5 L213.0,146.4 L213.5,146.2 L214.0,146.0 L214.5,145.8 L215.0,145.6 L215.5,145.4 L216.0,145.2 L216.5,145.0 L217.0,144.8 L217.5,144.6 L218.0,144.3 L218.5,144.1 L219.0,143.9 L219.5,143.7 L220.0,143.4 L220.5,143.2 L221.0,143.0 L221.5,142.7 L222.0,142.5 L222.5,142.2 L223.0,142.0 L223.5,141.8 L224.0,141.5 L224.5,141.3 L225.0,141.0 L225.5,140.8 L226.0,140.5 L226.5,140.3 L227.0,140.0 L227.5,139.8 L228.0,139.5 L228.5,139.3 L229.0,139.0 L229.5,138.7 L230.0,138.4 L230.5,138.1 L231.0,137.8 L231.5,137.5 L232.0,137.1 L232.5,136.8 L233.0,136.4 L233.5,136.0 L234.0,135.6 L234.5,135.2 L235.0,134.8 L235.5,134.3 L236.0,133.7 L236.5,133.0 L237.0,132.3 L237.5,131.5 L238.0,130.7 L238.5,129.8 L239.0,129.0 L239.5,128.1 L240.0,127.3 L240.5,126.5 L241.0,125.7 L241.5,125.0 L242.0,124.4 L242.5,123.9 L243.0,123.3 L243.5,122.7 L244.0,122.1 L244.5,121.5 L245.0,120.9 L245.5,120.4 L246.0,119.9 L246.5,119.4 L247.0,119.0 L247.5,118.7 L248.0,118.4 L248.5,118.3 L249.0,118.2 L249.5,118.2 L250.0,118.3 L250.5,118.5 L251.0,118.8 L251.5,119.1 L252.0,119.4 L252.5,119.8 L253.0,120.1 L253.5,120.5 L254.0,120.9 L254.5,121.4 L255.0,121.9 L255.5,122.6 L256.0,123.2 L256.5,123.9 L257.0,124.6 L257.5,125.3 L258.0,125.9 L258.5,126.6 L259.0,127.3 L259.5,127.9 L260.0,128.7 L260.5,129.4 L261.0,130.1 L261.5,130.9 L262.0,131.7 L262.5,132.4 L263.0,133.2 L263.5,134.0 L264.0,134.7 L264.5,135.4 L265.0,136.1 L265.5,136.8 L266.0,137.5 L266.5,138.1 L267.0,138.7 L267.5,139.2 L268.0,139.7 L268.5,140.2 L269.0,140.6 L269.5,141.1 L270.0,141.6 L270.5,142.0 L271.0,142.5 L271.5,142.9 L272.0,143.3 L272.5,143.7 L273.0,144.1 L273.5,144.4 L274.0,144.8 L274.5,145.1 L275.0,145.4 L275.5,145.7 L276.0,146.0 L276.5,146.2 L277.0,146.4 L277.5,146.6 L278.0,146.8 L278.5,147.0 L279.0,147.2 L279.5,147.3 L280.0,147.5 L280.5,147.7 L281.0,147.8 L281.5,148.0 L282.0,148.1 L282.5,148.3 L283.0,148.4 L283.5,148.6 L284.0,148.7 L284.5,148.8 L285.0,149.0 L285.5,149.1 L286.0,149.2 L286.5,149.3 L287.0,149.4 L287.5,149.5 L288.0,149.6 L288.5,149.7 L289.0,149.8 L289.5,149.9 L290.0,150.0 L290.5,150.1 L291.0,150.2 L291.5,150.2 L292.0,150.3 L292.5,150.4 L293.0,150.4 L293.5,150.5 L294.0,150.6 L294.5,150.6 L295.0,150.7 L295.5,150.7 L296.0,150.8 L296.5,150.8 L297.0,150.9 L297.5,150.9 L298.0,151.0 L298.5,151.0 L299.0,151.1 L299.5,151.1 L300.0,151.2 L300.5,151.2 L301.0,151.3 L301.5,151.3 L302.0,151.3 L302.5,151.4 L303.0,151.4 L303.5,151.5 L304.0,151.5 L304.5,151.5 L305.0,151.6 L305.5,151.6 L306.0,151.6 L306.5,151.7 L307.0,151.7 L307.5,151.7 L308.0,151.8 L308.5,151.8 L309.0,151.8 L309.5,151.9 L310.0,151.9 L310.5,151.9 L311.0,152.0 L311.5,152.0 L312.0,152.0 L312.5,152.0 L313.0,152.1 L313.5,152.1 L314.0,152.1 L314.5,152.2 L315.0,152.2 L315.5,152.2 L316.0,152.2 L316.5,152.3 L317.0,152.3 L317.5,152.3 L318.0,152.4 L318.5,152.4 L319.0,152.4 L319.5,152.4 L320.0,152.5 L320.5,152.5 L321.0,152.5 L321.5,152.6 L322.0,152.6 L322.5,152.6 L323.0,152.6 L323.5,152.7 L324.0,152.7 L324.5,152.7 L325.0,152.7 L325.5,152.8 L326.0,152.8 L326.5,152.8 L327.0,152.9 L327.5,152.9 L328.0,152.9 L328.5,152.9 L329.0,153.0 L329.5,153.0 L330.0,153.0 L330.5,153.0 L331.0,153.1 L331.5,153.1 L332.0,153.1 L332.5,153.1 L333.0,153.2 L333.5,153.2 L334.0,153.2 L334.5,153.2 L335.0,153.3 L335.5,153.3 L336.0,153.3 L336.5,153.3 L337.0,153.4 L337.5,153.4 L338.0,153.4 L338.5,153.4 L339.0,153.5 L339.5,153.5 L340.0,153.5 L340.5,153.5 L341.0,153.5 L341.5,153.6 L342.0,153.6 L342.5,153.6 L343.0,153.6 L343.5,153.7 L344.0,153.7 L344.5,153.7 L345.0,153.7 L345.5,153.7 L346.0,153.8 L346.5,153.8 L347.0,153.8 L347.5,153.8 L348.0,153.8 L348.5,153.9 L349.0,153.9 L349.5,153.9 L350.0,153.9 L350.5,153.9 L351.0,153.9 L351.5,154.0 L352.0,154.0 L352.5,154.0 L353.0,154.0 L353.5,154.0 L354.0,154.0 L354.5,154.1 L355.0,154.1 L355.5,154.1 L356.0,154.1 L356.5,154.1 L357.0,154.1 L357.5,154.1 L358.0,154.2 L358.5,154.2 L359.0,154.2 L359.5,154.2 L360.0,154.2" fill="none" stroke="#ff6a8a" stroke-width="7" opacity="0.6" filter="url(#bl2)"/>
<path d="M205.0,155.8 L205.5,155.8 L206.0,155.7 L206.5,155.7 L207.0,155.6 L207.5,155.6 L208.0,155.5 L208.5,155.4 L209.0,155.4 L209.5,155.3 L210.0,155.3 L210.5,155.2 L211.0,155.1 L211.5,155.1 L212.0,155.0 L212.5,155.0 L213.0,154.9 L213.5,154.8 L214.0,154.8 L214.5,154.7 L215.0,154.6 L215.5,154.6 L216.0,154.5 L216.5,154.4 L217.0,154.4 L217.5,154.3 L218.0,154.2 L218.5,154.1 L219.0,154.1 L219.5,154.0 L220.0,153.9 L220.5,153.8 L221.0,153.7 L221.5,153.6 L222.0,153.5 L222.5,153.5 L223.0,153.4 L223.5,153.3 L224.0,153.2 L224.5,153.1 L225.0,153.0 L225.5,152.9 L226.0,152.8 L226.5,152.6 L227.0,152.5 L227.5,152.4 L228.0,152.3 L228.5,152.2 L229.0,152.0 L229.5,151.9 L230.0,151.7 L230.5,151.5 L231.0,151.3 L231.5,151.1 L232.0,150.9 L232.5,150.7 L233.0,150.5 L233.5,150.3 L234.0,150.0 L234.5,149.8 L235.0,149.6 L235.5,149.4 L236.0,149.1 L236.5,148.9 L237.0,148.7 L237.5,148.5 L238.0,148.3 L238.5,148.1 L239.0,148.0 L239.5,147.8 L240.0,147.6 L240.5,147.4 L241.0,147.1 L241.5,146.9 L242.0,146.7 L242.5,146.5 L243.0,146.3 L243.5,146.1 L244.0,145.9 L244.5,145.7 L245.0,145.6 L245.5,145.5 L246.0,145.3 L246.5,145.2 L247.0,145.2 L247.5,145.1 L248.0,145.1 L248.5,145.1 L249.0,145.2 L249.5,145.3 L250.0,145.4 L250.5,145.5 L251.0,145.7 L251.5,145.9 L252.0,146.1 L252.5,146.4 L253.0,146.6 L253.5,146.9 L254.0,147.1 L254.5,147.4 L255.0,147.7 L255.5,148.0 L256.0,148.3 L256.5,148.5 L257.0,148.8 L257.5,149.0 L258.0,149.3 L258.5,149.5 L259.0,149.7 L259.5,149.9 L260.0,150.2 L260.5,150.4 L261.0,150.6 L261.5,150.9 L262.0,151.1 L262.5,151.4 L263.0,151.6 L263.5,151.8 L264.0,152.1 L264.5,152.3 L265.0,152.5 L265.5,152.7 L266.0,152.9 L266.5,153.1 L267.0,153.3 L267.5,153.4 L268.0,153.6 L268.5,153.7 L269.0,153.8 L269.5,154.0 L270.0,154.1 L270.5,154.2 L271.0,154.3 L271.5,154.5 L272.0,154.6 L272.5,154.7 L273.0,154.8 L273.5,154.9 L274.0,155.0 L274.5,155.1 L275.0,155.2 L275.5,155.3 L276.0,155.4 L276.5,155.5 L277.0,155.5 L277.5,155.6 L278.0,155.7 L278.5,155.7 L279.0,155.8 L279.5,155.8 L280.0,155.8 L280.5,155.9 L281.0,155.9 L281.5,155.9 L282.0,156.0 L282.5,156.0 L283.0,156.0 L283.5,156.1 L284.0,156.1 L284.5,156.1 L285.0,156.2 L285.5,156.2 L286.0,156.2 L286.5,156.2 L287.0,156.3 L287.5,156.3 L288.0,156.3 L288.5,156.3 L289.0,156.4 L289.5,156.4 L290.0,156.4 L290.5,156.4 L291.0,156.5 L291.5,156.5 L292.0,156.5 L292.5,156.5 L293.0,156.5 L293.5,156.5 L294.0,156.6 L294.5,156.6 L295.0,156.6 L295.5,156.6 L296.0,156.6 L296.5,156.6 L297.0,156.6 L297.5,156.7 L298.0,156.7 L298.5,156.7 L299.0,156.7 L299.5,156.7 L300.0,156.7 L300.5,156.7 L301.0,156.7 L301.5,156.7 L302.0,156.7 L302.5,156.7 L303.0,156.7 L303.5,156.8 L304.0,156.8 L304.5,156.8 L305.0,156.8 L305.5,156.8 L306.0,156.8 L306.5,156.8 L307.0,156.8 L307.5,156.8 L308.0,156.8 L308.5,156.8 L309.0,156.8 L309.5,156.8 L310.0,156.8 L310.5,156.9 L311.0,156.9 L311.5,156.9 L312.0,156.9 L312.5,156.9 L313.0,156.9 L313.5,156.9 L314.0,156.9 L314.5,156.9 L315.0,156.9 L315.5,156.9 L316.0,156.9 L316.5,156.9 L317.0,156.9 L317.5,156.9 L318.0,156.9 L318.5,157.0 L319.0,157.0 L319.5,157.0 L320.0,157.0 L320.5,157.0 L321.0,157.0 L321.5,157.0 L322.0,157.0 L322.5,157.0 L323.0,157.0 L323.5,157.0 L324.0,157.0 L324.5,157.0 L325.0,157.0 L325.5,157.0 L326.0,157.0 L326.5,157.0 L327.0,157.0 L327.5,157.0 L328.0,157.1 L328.5,157.1 L329.0,157.1 L329.5,157.1 L330.0,157.1 L330.5,157.1 L331.0,157.1 L331.5,157.1 L332.0,157.1 L332.5,157.1 L333.0,157.1 L333.5,157.1 L334.0,157.1 L334.5,157.1 L335.0,157.1 L335.5,157.1 L336.0,157.1 L336.5,157.1 L337.0,157.1 L337.5,157.1 L338.0,157.1 L338.5,157.1 L339.0,157.1 L339.5,157.1 L340.0,157.1 L340.5,157.1 L341.0,157.1 L341.5,157.1 L342.0,157.2 L342.5,157.2 L343.0,157.2 L343.5,157.2 L344.0,157.2 L344.5,157.2 L345.0,157.2 L345.5,157.2 L346.0,157.2 L346.5,157.2 L347.0,157.2 L347.5,157.2 L348.0,157.2 L348.5,157.2 L349.0,157.2 L349.5,157.2 L350.0,157.2 L350.5,157.2 L351.0,157.2 L351.5,157.2 L352.0,157.2 L352.5,157.2 L353.0,157.2 L353.5,157.2 L354.0,157.2 L354.5,157.2 L355.0,157.2 L355.5,157.2 L356.0,157.2 L356.5,157.2 L357.0,157.2 L357.5,157.2 L358.0,157.2 L358.5,157.2 L359.0,157.2 L359.5,157.2 L360.0,157.2" fill="none" stroke="#5a6aff" stroke-width="6" opacity="0.5" filter="url(#bl2)"/>
<path d="M205.0,155.8 L205.5,155.8 L206.0,155.7 L206.5,155.7 L207.0,155.6 L207.5,155.6 L208.0,155.5 L208.5,155.4 L209.0,155.4 L209.5,155.3 L210.0,155.3 L210.5,155.2 L211.0,155.1 L211.5,155.1 L212.0,155.0 L212.5,155.0 L213.0,154.9 L213.5,154.8 L214.0,154.8 L214.5,154.7 L215.0,154.6 L215.5,154.6 L216.0,154.5 L216.5,154.4 L217.0,154.4 L217.5,154.3 L218.0,154.2 L218.5,154.1 L219.0,154.1 L219.5,154.0 L220.0,153.9 L220.5,153.8 L221.0,153.7 L221.5,153.6 L222.0,153.5 L222.5,153.5 L223.0,153.4 L223.5,153.3 L224.0,153.2 L224.5,153.1 L225.0,153.0 L225.5,152.9 L226.0,152.8 L226.5,152.6 L227.0,152.5 L227.5,152.4 L228.0,152.3 L228.5,152.2 L229.0,152.0 L229.5,151.9 L230.0,151.7 L230.5,151.5 L231.0,151.3 L231.5,151.1 L232.0,150.9 L232.5,150.7 L233.0,150.5 L233.5,150.3 L234.0,150.0 L234.5,149.8 L235.0,149.6 L235.5,149.4 L236.0,149.1 L236.5,148.9 L237.0,148.7 L237.5,148.5 L238.0,148.3 L238.5,148.1 L239.0,148.0 L239.5,147.8 L240.0,147.6 L240.5,147.4 L241.0,147.1 L241.5,146.9 L242.0,146.7 L242.5,146.5 L243.0,146.3 L243.5,146.1 L244.0,145.9 L244.5,145.7 L245.0,145.6 L245.5,145.5 L246.0,145.3 L246.5,145.2 L247.0,145.2 L247.5,145.1 L248.0,145.1 L248.5,145.1 L249.0,145.2 L249.5,145.3 L250.0,145.4 L250.5,145.5 L251.0,145.7 L251.5,145.9 L252.0,146.1 L252.5,146.4 L253.0,146.6 L253.5,146.9 L254.0,147.1 L254.5,147.4 L255.0,147.7 L255.5,148.0 L256.0,148.3 L256.5,148.5 L257.0,148.8 L257.5,149.0 L258.0,149.3 L258.5,149.5 L259.0,149.7 L259.5,149.9 L260.0,150.2 L260.5,150.4 L261.0,150.6 L261.5,150.9 L262.0,151.1 L262.5,151.4 L263.0,151.6 L263.5,151.8 L264.0,152.1 L264.5,152.3 L265.0,152.5 L265.5,152.7 L266.0,152.9 L266.5,153.1 L267.0,153.3 L267.5,153.4 L268.0,153.6 L268.5,153.7 L269.0,153.8 L269.5,154.0 L270.0,154.1 L270.5,154.2 L271.0,154.3 L271.5,154.5 L272.0,154.6 L272.5,154.7 L273.0,154.8 L273.5,154.9 L274.0,155.0 L274.5,155.1 L275.0,155.2 L275.5,155.3 L276.0,155.4 L276.5,155.5 L277.0,155.5 L277.5,155.6 L278.0,155.7 L278.5,155.7 L279.0,155.8 L279.5,155.8 L280.0,155.8 L280.5,155.9 L281.0,155.9 L281.5,155.9 L282.0,156.0 L282.5,156.0 L283.0,156.0 L283.5,156.1 L284.0,156.1 L284.5,156.1 L285.0,156.2 L285.5,156.2 L286.0,156.2 L286.5,156.2 L287.0,156.3 L287.5,156.3 L288.0,156.3 L288.5,156.3 L289.0,156.4 L289.5,156.4 L290.0,156.4 L290.5,156.4 L291.0,156.5 L291.5,156.5 L292.0,156.5 L292.5,156.5 L293.0,156.5 L293.5,156.5 L294.0,156.6 L294.5,156.6 L295.0,156.6 L295.5,156.6 L296.0,156.6 L296.5,156.6 L297.0,156.6 L297.5,156.7 L298.0,156.7 L298.5,156.7 L299.0,156.7 L299.5,156.7 L300.0,156.7 L300.5,156.7 L301.0,156.7 L301.5,156.7 L302.0,156.7 L302.5,156.7 L303.0,156.7 L303.5,156.8 L304.0,156.8 L304.5,156.8 L305.0,156.8 L305.5,156.8 L306.0,156.8 L306.5,156.8 L307.0,156.8 L307.5,156.8 L308.0,156.8 L308.5,156.8 L309.0,156.8 L309.5,156.8 L310.0,156.8 L310.5,156.9 L311.0,156.9 L311.5,156.9 L312.0,156.9 L312.5,156.9 L313.0,156.9 L313.5,156.9 L314.0,156.9 L314.5,156.9 L315.0,156.9 L315.5,156.9 L316.0,156.9 L316.5,156.9 L317.0,156.9 L317.5,156.9 L318.0,156.9 L318.5,157.0 L319.0,157.0 L319.5,157.0 L320.0,157.0 L320.5,157.0 L321.0,157.0 L321.5,157.0 L322.0,157.0 L322.5,157.0 L323.0,157.0 L323.5,157.0 L324.0,157.0 L324.5,157.0 L325.0,157.0 L325.5,157.0 L326.0,157.0 L326.5,157.0 L327.0,157.0 L327.5,157.0 L328.0,157.1 L328.5,157.1 L329.0,157.1 L329.5,157.1 L330.0,157.1 L330.5,157.1 L331.0,157.1 L331.5,157.1 L332.0,157.1 L332.5,157.1 L333.0,157.1 L333.5,157.1 L334.0,157.1 L334.5,157.1 L335.0,157.1 L335.5,157.1 L336.0,157.1 L336.5,157.1 L337.0,157.1 L337.5,157.1 L338.0,157.1 L338.5,157.1 L339.0,157.1 L339.5,157.1 L340.0,157.1 L340.5,157.1 L341.0,157.1 L341.5,157.1 L342.0,157.2 L342.5,157.2 L343.0,157.2 L343.5,157.2 L344.0,157.2 L344.5,157.2 L345.0,157.2 L345.5,157.2 L346.0,157.2 L346.5,157.2 L347.0,157.2 L347.5,157.2 L348.0,157.2 L348.5,157.2 L349.0,157.2 L349.5,157.2 L350.0,157.2 L350.5,157.2 L351.0,157.2 L351.5,157.2 L352.0,157.2 L352.5,157.2 L353.0,157.2 L353.5,157.2 L354.0,157.2 L354.5,157.2 L355.0,157.2 L355.5,157.2 L356.0,157.2 L356.5,157.2 L357.0,157.2 L357.5,157.2 L358.0,157.2 L358.5,157.2 L359.0,157.2 L359.5,157.2 L360.0,157.2" fill="none" stroke="#1230f2" stroke-width="3.2" filter="url(#bl)"/>
<path d="M205.0,156.2 L205.5,156.2 L206.0,156.1 L206.5,156.1 L207.0,156.0 L207.5,156.0 L208.0,155.9 L208.5,155.9 L209.0,155.8 L209.5,155.7 L210.0,155.6 L210.5,155.5 L211.0,155.4 L211.5,155.3 L212.0,155.2 L212.5,155.1 L213.0,155.0 L213.5,154.9 L214.0,154.7 L214.5,154.6 L215.0,154.4 L215.5,154.3 L216.0,154.1 L216.5,154.0 L217.0,153.8 L217.5,153.6 L218.0,153.4 L218.5,153.3 L219.0,153.1 L219.5,152.9 L220.0,152.7 L220.5,152.5 L221.0,152.3 L221.5,152.0 L222.0,151.8 L222.5,151.6 L223.0,151.4 L223.5,151.2 L224.0,150.9 L224.5,150.7 L225.0,150.4 L225.5,150.1 L226.0,149.8 L226.5,149.5 L227.0,149.1 L227.5,148.8 L228.0,148.4 L228.5,148.0 L229.0,147.6 L229.5,147.2 L230.0,146.7 L230.5,146.3 L231.0,145.8 L231.5,145.3 L232.0,144.8 L232.5,144.3 L233.0,143.8 L233.5,143.1 L234.0,142.4 L234.5,141.5 L235.0,140.7 L235.5,139.8 L236.0,138.9 L236.5,138.0 L237.0,137.1 L237.5,136.3 L238.0,135.6 L238.5,134.9 L239.0,134.3 L239.5,133.8 L240.0,133.2 L240.5,132.6 L241.0,132.0 L241.5,131.5 L242.0,131.0 L242.5,130.6 L243.0,130.2 L243.5,130.0 L244.0,129.8 L244.5,129.8 L245.0,129.9 L245.5,130.1 L246.0,130.4 L246.5,130.8 L247.0,131.2 L247.5,131.6 L248.0,132.1 L248.5,132.7 L249.0,133.4 L249.5,134.1 L250.0,134.9 L250.5,135.7 L251.0,136.5 L251.5,137.2 L252.0,138.0 L252.5,138.7 L253.0,139.4 L253.5,140.2 L254.0,140.9 L254.5,141.7 L255.0,142.4 L255.5,143.1 L256.0,143.8 L256.5,144.4 L257.0,145.0 L257.5,145.5 L258.0,146.0 L258.5,146.5 L259.0,147.1 L259.5,147.5 L260.0,148.0 L260.5,148.5 L261.0,148.9 L261.5,149.3 L262.0,149.7 L262.5,150.1 L263.0,150.4 L263.5,150.8 L264.0,151.0 L264.5,151.3 L265.0,151.5 L265.5,151.8 L266.0,152.0 L266.5,152.2 L267.0,152.4 L267.5,152.6 L268.0,152.8 L268.5,153.0 L269.0,153.2 L269.5,153.4 L270.0,153.6 L270.5,153.7 L271.0,153.9 L271.5,154.0 L272.0,154.2 L272.5,154.3 L273.0,154.4 L273.5,154.5 L274.0,154.6 L274.5,154.7 L275.0,154.7 L275.5,154.8 L276.0,154.9 L276.5,154.9 L277.0,155.0 L277.5,155.0 L278.0,155.1 L278.5,155.2 L279.0,155.2 L279.5,155.3 L280.0,155.3 L280.5,155.4 L281.0,155.4 L281.5,155.5 L282.0,155.5 L282.5,155.6 L283.0,155.6 L283.5,155.7 L284.0,155.7 L284.5,155.8 L285.0,155.8 L285.5,155.9 L286.0,155.9 L286.5,155.9 L287.0,156.0 L287.5,156.0 L288.0,156.1 L288.5,156.1 L289.0,156.1 L289.5,156.2 L290.0,156.2 L290.5,156.2 L291.0,156.3 L291.5,156.3 L292.0,156.3 L292.5,156.3 L293.0,156.4 L293.5,156.4 L294.0,156.4 L294.5,156.4 L295.0,156.4 L295.5,156.5 L296.0,156.5 L296.5,156.5 L297.0,156.5 L297.5,156.5 L298.0,156.6 L298.5,156.6 L299.0,156.6 L299.5,156.6 L300.0,156.6 L300.5,156.6 L301.0,156.6 L301.5,156.6 L302.0,156.6 L302.5,156.6 L303.0,156.7 L303.5,156.7 L304.0,156.7 L304.5,156.7 L305.0,156.7 L305.5,156.7 L306.0,156.7 L306.5,156.7 L307.0,156.7 L307.5,156.7 L308.0,156.7 L308.5,156.8 L309.0,156.8 L309.5,156.8 L310.0,156.8 L310.5,156.8 L311.0,156.8 L311.5,156.8 L312.0,156.8 L312.5,156.8 L313.0,156.8 L313.5,156.8 L314.0,156.8 L314.5,156.9 L315.0,156.9 L315.5,156.9 L316.0,156.9 L316.5,156.9 L317.0,156.9 L317.5,156.9 L318.0,156.9 L318.5,156.9 L319.0,156.9 L319.5,156.9 L320.0,156.9 L320.5,156.9 L321.0,156.9 L321.5,157.0 L322.0,157.0 L322.5,157.0 L323.0,157.0 L323.5,157.0 L324.0,157.0 L324.5,157.0 L325.0,157.0 L325.5,157.0 L326.0,157.0 L326.5,157.0 L327.0,157.0 L327.5,157.0 L328.0,157.0 L328.5,157.0 L329.0,157.0 L329.5,157.0 L330.0,157.0 L330.5,157.1 L331.0,157.1 L331.5,157.1 L332.0,157.1 L332.5,157.1 L333.0,157.1 L333.5,157.1 L334.0,157.1 L334.5,157.1 L335.0,157.1 L335.5,157.1 L336.0,157.1 L336.5,157.1 L337.0,157.1 L337.5,157.1 L338.0,157.1 L338.5,157.1 L339.0,157.1 L339.5,157.1 L340.0,157.1 L340.5,157.1 L341.0,157.1 L341.5,157.1 L342.0,157.1 L342.5,157.1 L343.0,157.2 L343.5,157.2 L344.0,157.2 L344.5,157.2 L345.0,157.2 L345.5,157.2 L346.0,157.2 L346.5,157.2 L347.0,157.2 L347.5,157.2 L348.0,157.2 L348.5,157.2 L349.0,157.2 L349.5,157.2 L350.0,157.2 L350.5,157.2 L351.0,157.2 L351.5,157.2 L352.0,157.2 L352.5,157.2 L353.0,157.2 L353.5,157.2 L354.0,157.2 L354.5,157.2 L355.0,157.2 L355.5,157.2 L356.0,157.2 L356.5,157.2 L357.0,157.2 L357.5,157.2 L358.0,157.2 L358.5,157.2 L359.0,157.2 L359.5,157.2 L360.0,157.2" fill="none" stroke="#0a0a0a" stroke-width="3" stroke-dasharray="2.4 2.4"/>
<path d="M205.0,148.6 L205.5,148.5 L206.0,148.4 L206.5,148.3 L207.0,148.2 L207.5,148.1 L208.0,147.9 L208.5,147.8 L209.0,147.7 L209.5,147.5 L210.0,147.4 L210.5,147.2 L211.0,147.1 L211.5,146.9 L212.0,146.7 L212.5,146.5 L213.0,146.4 L213.5,146.2 L214.0,146.0 L214.5,145.8 L215.0,145.6 L215.5,145.4 L216.0,145.2 L216.5,145.0 L217.0,144.8 L217.5,144.6 L218.0,144.3 L218.5,144.1 L219.0,143.9 L219.5,143.7 L220.0,143.4 L220.5,143.2 L221.0,143.0 L221.5,142.7 L222.0,142.5 L222.5,142.2 L223.0,142.0 L223.5,141.8 L224.0,141.5 L224.5,141.3 L225.0,141.0 L225.5,140.8 L226.0,140.5 L226.5,140.3 L227.0,140.0 L227.5,139.8 L228.0,139.5 L228.5,139.3 L229.0,139.0 L229.5,138.7 L230.0,138.4 L230.5,138.1 L231.0,137.8 L231.5,137.5 L232.0,137.1 L232.5,136.8 L233.0,136.4 L233.5,136.0 L234.0,135.6 L234.5,135.2 L235.0,134.8 L235.5,134.3 L236.0,133.7 L236.5,133.0 L237.0,132.3 L237.5,131.5 L238.0,130.7 L238.5,129.8 L239.0,129.0 L239.5,128.1 L240.0,127.3 L240.5,126.5 L241.0,125.7 L241.5,125.0 L242.0,124.4 L242.5,123.9 L243.0,123.3 L243.5,122.7 L244.0,122.1 L244.5,121.5 L245.0,120.9 L245.5,120.4 L246.0,119.9 L246.5,119.4 L247.0,119.0 L247.5,118.7 L248.0,118.4 L248.5,118.3 L249.0,118.2 L249.5,118.2 L250.0,118.3 L250.5,118.5 L251.0,118.8 L251.5,119.1 L252.0,119.4 L252.5,119.8 L253.0,120.1 L253.5,120.5 L254.0,120.9 L254.5,121.4 L255.0,121.9 L255.5,122.6 L256.0,123.2 L256.5,123.9 L257.0,124.6 L257.5,125.3 L258.0,125.9 L258.5,126.6 L259.0,127.3 L259.5,127.9 L260.0,128.7 L260.5,129.4 L261.0,130.1 L261.5,130.9 L262.0,131.7 L262.5,132.4 L263.0,133.2 L263.5,134.0 L264.0,134.7 L264.5,135.4 L265.0,136.1 L265.5,136.8 L266.0,137.5 L266.5,138.1 L267.0,138.7 L267.5,139.2 L268.0,139.7 L268.5,140.2 L269.0,140.6 L269.5,141.1 L270.0,141.6 L270.5,142.0 L271.0,142.5 L271.5,142.9 L272.0,143.3 L272.5,143.7 L273.0,144.1 L273.5,144.4 L274.0,144.8 L274.5,145.1 L275.0,145.4 L275.5,145.7 L276.0,146.0 L276.5,146.2 L277.0,146.4 L277.5,146.6 L278.0,146.8 L278.5,147.0 L279.0,147.2 L279.5,147.3 L280.0,147.5 L280.5,147.7 L281.0,147.8 L281.5,148.0 L282.0,148.1 L282.5,148.3 L283.0,148.4 L283.5,148.6 L284.0,148.7 L284.5,148.8 L285.0,149.0 L285.5,149.1 L286.0,149.2 L286.5,149.3 L287.0,149.4 L287.5,149.5 L288.0,149.6 L288.5,149.7 L289.0,149.8 L289.5,149.9 L290.0,150.0 L290.5,150.1 L291.0,150.2 L291.5,150.2 L292.0,150.3 L292.5,150.4 L293.0,150.4 L293.5,150.5 L294.0,150.6 L294.5,150.6 L295.0,150.7 L295.5,150.7 L296.0,150.8 L296.5,150.8 L297.0,150.9 L297.5,150.9 L298.0,151.0 L298.5,151.0 L299.0,151.1 L299.5,151.1 L300.0,151.2 L300.5,151.2 L301.0,151.3 L301.5,151.3 L302.0,151.3 L302.5,151.4 L303.0,151.4 L303.5,151.5 L304.0,151.5 L304.5,151.5 L305.0,151.6 L305.5,151.6 L306.0,151.6 L306.5,151.7 L307.0,151.7 L307.5,151.7 L308.0,151.8 L308.5,151.8 L309.0,151.8 L309.5,151.9 L310.0,151.9 L310.5,151.9 L311.0,152.0 L311.5,152.0 L312.0,152.0 L312.5,152.0 L313.0,152.1 L313.5,152.1 L314.0,152.1 L314.5,152.2 L315.0,152.2 L315.5,152.2 L316.0,152.2 L316.5,152.3 L317.0,152.3 L317.5,152.3 L318.0,152.4 L318.5,152.4 L319.0,152.4 L319.5,152.4 L320.0,152.5 L320.5,152.5 L321.0,152.5 L321.5,152.6 L322.0,152.6 L322.5,152.6 L323.0,152.6 L323.5,152.7 L324.0,152.7 L324.5,152.7 L325.0,152.7 L325.5,152.8 L326.0,152.8 L326.5,152.8 L327.0,152.9 L327.5,152.9 L328.0,152.9 L328.5,152.9 L329.0,153.0 L329.5,153.0 L330.0,153.0 L330.5,153.0 L331.0,153.1 L331.5,153.1 L332.0,153.1 L332.5,153.1 L333.0,153.2 L333.5,153.2 L334.0,153.2 L334.5,153.2 L335.0,153.3 L335.5,153.3 L336.0,153.3 L336.5,153.3 L337.0,153.4 L337.5,153.4 L338.0,153.4 L338.5,153.4 L339.0,153.5 L339.5,153.5 L340.0,153.5 L340.5,153.5 L341.0,153.5 L341.5,153.6 L342.0,153.6 L342.5,153.6 L343.0,153.6 L343.5,153.7 L344.0,153.7 L344.5,153.7 L345.0,153.7 L345.5,153.7 L346.0,153.8 L346.5,153.8 L347.0,153.8 L347.5,153.8 L348.0,153.8 L348.5,153.9 L349.0,153.9 L349.5,153.9 L350.0,153.9 L350.5,153.9 L351.0,153.9 L351.5,154.0 L352.0,154.0 L352.5,154.0 L353.0,154.0 L353.5,154.0 L354.0,154.0 L354.5,154.1 L355.0,154.1 L355.5,154.1 L356.0,154.1 L356.5,154.1 L357.0,154.1 L357.5,154.1 L358.0,154.2 L358.5,154.2 L359.0,154.2 L359.5,154.2 L360.0,154.2" fill="none" stroke="#e6101c" stroke-width="3.4" stroke-dasharray="2.4 1.5"/>
<path d="M205.0,146.0 L205.5,145.5 L206.0,145.0 L206.5,144.4 L207.0,143.7 L207.5,143.0 L208.0,142.2 L208.5,141.3 L209.0,140.4 L209.5,139.4 L210.0,138.3 L210.5,137.1 L211.0,135.8 L211.5,134.4 L212.0,132.9 L212.5,131.5 L213.0,130.0 L213.5,128.5 L214.0,127.0 L214.5,125.5 L215.0,124.1 L215.5,122.7 L216.0,121.2 L216.5,119.7 L217.0,118.2 L217.5,116.6 L218.0,115.0 L218.5,113.2 L219.0,111.4 L219.5,109.5 L220.0,107.5 L220.5,105.3 L221.0,102.8 L221.5,100.2 L222.0,97.4 L222.5,94.6 L223.0,91.6 L223.5,88.5 L224.0,85.5 L224.5,82.4 L225.0,79.4 L225.5,76.4 L226.0,73.4 L226.5,70.5 L227.0,67.5 L227.5,64.4 L228.0,61.4 L228.5,58.3 L229.0,55.3 L229.5,52.3 L230.0,49.3 L230.5,46.4 L231.0,43.5 L231.5,40.5 L232.0,37.5 L232.5,34.7 L233.0,31.9 L233.5,29.4 L234.0,27.1 L234.5,24.9 L235.0,22.9 L235.5,21.1 L236.0,19.6 L236.5,19.9 L237.0,21.4 L237.5,23.1 L238.0,25.0 L238.5,27.1 L239.0,29.4 L239.5,31.8 L240.0,34.4 L240.5,37.2 L241.0,40.2 L241.5,43.2 L242.0,46.4 L242.5,49.6 L243.0,53.2 L243.5,57.0 L244.0,60.9 L244.5,64.9 L245.0,68.9 L245.5,72.9 L246.0,76.6 L246.5,80.2 L247.0,83.5 L247.5,86.7 L248.0,89.8 L248.5,92.9 L249.0,96.0 L249.5,98.9 L250.0,101.8 L250.5,104.5 L251.0,107.2 L251.5,109.7 L252.0,112.2 L252.5,114.5 L253.0,116.6 L253.5,118.8 L254.0,120.9 L254.5,123.0 L255.0,125.0 L255.5,127.0 L256.0,128.8 L256.5,130.5 L257.0,132.1 L257.5,133.6 L258.0,134.9 L258.5,136.0 L259.0,137.0 L259.5,138.0 L260.0,138.9 L260.5,139.9 L261.0,140.8 L261.5,141.6 L262.0,142.4 L262.5,143.2 L263.0,143.9 L263.5,144.6 L264.0,145.3 L264.5,145.9 L265.0,146.5 L265.5,147.0 L266.0,147.5 L266.5,147.9 L267.0,148.3 L267.5,148.6 L268.0,148.9 L268.5,149.2 L269.0,149.4 L269.5,149.7 L270.0,149.9 L270.5,150.2 L271.0,150.4 L271.5,150.6 L272.0,150.8 L272.5,151.0 L273.0,151.2 L273.5,151.4 L274.0,151.6 L274.5,151.7 L275.0,151.9 L275.5,152.0 L276.0,152.2 L276.5,152.3 L277.0,152.5 L277.5,152.6 L278.0,152.7 L278.5,152.8 L279.0,152.9 L279.5,153.0 L280.0,153.1 L280.5,153.2 L281.0,153.3 L281.5,153.4 L282.0,153.5 L282.5,153.6 L283.0,153.7 L283.5,153.8 L284.0,153.8 L284.5,153.9 L285.0,154.0 L285.5,154.1 L286.0,154.1 L286.5,154.2 L287.0,154.3 L287.5,154.4 L288.0,154.4 L288.5,154.5 L289.0,154.6 L289.5,154.6 L290.0,154.7 L290.5,154.7 L291.0,154.8 L291.5,154.9 L292.0,154.9 L292.5,155.0 L293.0,155.0 L293.5,155.1 L294.0,155.1 L294.5,155.1 L295.0,155.2 L295.5,155.2 L296.0,155.3 L296.5,155.3 L297.0,155.3 L297.5,155.4 L298.0,155.4 L298.5,155.4 L299.0,155.5 L299.5,155.5 L300.0,155.5 L300.5,155.5 L301.0,155.5 L301.5,155.6 L302.0,155.6 L302.5,155.6 L303.0,155.6 L303.5,155.6 L304.0,155.7 L304.5,155.7 L305.0,155.7 L305.5,155.7 L306.0,155.7 L306.5,155.8 L307.0,155.8 L307.5,155.8 L308.0,155.8 L308.5,155.8 L309.0,155.8 L309.5,155.9 L310.0,155.9 L310.5,155.9 L311.0,155.9 L311.5,155.9 L312.0,156.0 L312.5,156.0 L313.0,156.0 L313.5,156.0 L314.0,156.0 L314.5,156.0 L315.0,156.1 L315.5,156.1 L316.0,156.1 L316.5,156.1 L317.0,156.1 L317.5,156.1 L318.0,156.1 L318.5,156.2 L319.0,156.2 L319.5,156.2 L320.0,156.2 L320.5,156.2 L321.0,156.2 L321.5,156.2 L322.0,156.3 L322.5,156.3 L323.0,156.3 L323.5,156.3 L324.0,156.3 L324.5,156.3 L325.0,156.3 L325.5,156.4 L326.0,156.4 L326.5,156.4 L327.0,156.4 L327.5,156.4 L328.0,156.4 L328.5,156.4 L329.0,156.4 L329.5,156.4 L330.0,156.5 L330.5,156.5 L331.0,156.5 L331.5,156.5 L332.0,156.5 L332.5,156.5 L333.0,156.5 L333.5,156.5 L334.0,156.5 L334.5,156.6 L335.0,156.6 L335.5,156.6 L336.0,156.6 L336.5,156.6 L337.0,156.6 L337.5,156.6 L338.0,156.6 L338.5,156.6 L339.0,156.6 L339.5,156.6 L340.0,156.6 L340.5,156.7 L341.0,156.7 L341.5,156.7 L342.0,156.7 L342.5,156.7 L343.0,156.7 L343.5,156.7 L344.0,156.7 L344.5,156.7 L345.0,156.7 L345.5,156.7 L346.0,156.7 L346.5,156.7 L347.0,156.7 L347.5,156.7 L348.0,156.7 L348.5,156.7 L349.0,156.8 L349.5,156.8 L350.0,156.8 L350.5,156.8 L351.0,156.8 L351.5,156.8 L352.0,156.8 L352.5,156.8 L353.0,156.8 L353.5,156.8 L354.0,156.8 L354.5,156.8 L355.0,156.8 L355.5,156.8 L356.0,156.8 L356.5,156.8 L357.0,156.8 L357.5,156.8 L358.0,156.8 L358.5,156.8 L359.0,156.8 L359.5,156.8 L360.0,156.8" fill="none" stroke="#5c1af4" stroke-width="2.9" stroke-linejoin="miter" stroke-miterlimit="10" stroke-dasharray="13 2.5 3 2.5" filter="url(#bl)"/>
<path d="M236.3,21.5 V158" stroke="#0a0a0a" stroke-width="1.2" stroke-dasharray="5.5 2.8" fill="none"/>
</g>
<rect x="209.5" y="12.7" width="148.4" height="145.7" fill="none" stroke="#050505" stroke-width="2.2"/>
<line x1="206.8" y1="157.0" x2="209" y2="157.0" stroke="#050505" stroke-width="1.8"/>
<line x1="206.8" y1="122.5" x2="209" y2="122.5" stroke="#050505" stroke-width="1.8"/>
<line x1="206.8" y1="88.0" x2="209" y2="88.0" stroke="#050505" stroke-width="1.8"/>
<line x1="206.8" y1="53.5" x2="209" y2="53.5" stroke="#050505" stroke-width="1.8"/>
<line x1="206.8" y1="19.0" x2="209" y2="19.0" stroke="#050505" stroke-width="1.8"/>
<line x1="235.2" y1="158" x2="235.2" y2="161.5" stroke="#050505" stroke-width="1.8"/>
<line x1="296.4" y1="158" x2="296.4" y2="161.5" stroke="#050505" stroke-width="1.8"/>
<line x1="357.8" y1="158" x2="357.8" y2="161.5" stroke="#050505" stroke-width="1.8"/>
<text class="b" x="197.8" y="161.7" font-size="15.5" textLength="7.0" lengthAdjust="spacingAndGlyphs" >0</text>
<text class="b" x="183.9" y="127.2" font-size="15.5" textLength="20.9" lengthAdjust="spacingAndGlyphs" >500</text>
<text class="b" x="177.0" y="92.8" font-size="15.5" textLength="27.8" lengthAdjust="spacingAndGlyphs" >1000</text>
<text class="b" x="177.0" y="58.3" font-size="15.5" textLength="27.8" lengthAdjust="spacingAndGlyphs" >1500</text>
<text class="b" x="177.0" y="23.9" font-size="15.5" textLength="27.8" lengthAdjust="spacingAndGlyphs" >2000</text>
<text class="b" x="224.1" y="176.2" font-size="15" textLength="20.4" lengthAdjust="spacingAndGlyphs" >150</text>
<text class="b" x="284.8" y="176.2" font-size="15" textLength="20.4" lengthAdjust="spacingAndGlyphs" >200</text>
<text class="b" x="346.3" y="176.2" font-size="15" textLength="20.4" lengthAdjust="spacingAndGlyphs" >250</text>
<text class="b" x="233.4" y="192.9" font-size="14.2" textLength="70.2" lengthAdjust="spacingAndGlyphs" >Wavelength</text>
<text class="b" x="309.2" y="192.9" font-size="14.2" textLength="17.8" lengthAdjust="spacingAndGlyphs" >cm</text>
<text class="b" x="327.5" y="189.3" font-size="8.5" textLength="5.8" lengthAdjust="spacingAndGlyphs" >-1</text>
<text class="b" transform="translate(171.3,143.2) rotate(-90)" font-size="14.5" textLength="108.3" lengthAdjust="spacingAndGlyphs">Intensity (CPS)</text>
<text class="b" x="271.3" y="23.2" font-size="13.3" textLength="70.2" lengthAdjust="spacingAndGlyphs">NTiO<tspan font-size="7.6" dy="4.3">2</tspan><tspan dy="-4.3">-<tspan font-style="italic">a</tspan>NCNT</tspan></text>
<text class="b" x="271.3" y="42" font-size="13.3" textLength="53.8" lengthAdjust="spacingAndGlyphs">TiO<tspan font-size="7.6" dy="4.3">2</tspan><tspan dy="-4.3">-<tspan font-style="italic">a</tspan>CNT</tspan></text>
<text class="b" x="271.3" y="60.7" font-size="13.3" textLength="60.8" lengthAdjust="spacingAndGlyphs">TiO<tspan font-size="7.6" dy="4.3">2</tspan><tspan dy="-4.3">-<tspan font-style="italic">a</tspan>NCNT</tspan></text>
<text class="b" x="271.3" y="81" font-size="13.3" textLength="83" lengthAdjust="spacingAndGlyphs">Commercial TiO<tspan font-size="7.6" dy="4.3">2</tspan></text>
<path d="M249.8,20.2 H268" stroke="#0a0a0a" stroke-width="2.2" stroke-dasharray="6 3 2.4 2.6" fill="none"/>
<path d="M249.8,37.7 H268" stroke="#1230f2" stroke-width="2.4" stroke-dasharray="4.5 1.8" fill="none" filter="url(#bl)"/>
<path d="M249.8,57.6 H268" stroke="#ff6a8a" stroke-width="5" opacity="0.5" fill="none" filter="url(#bl2)"/>
<path d="M249.8,57.6 H268" stroke="#d6101c" stroke-width="1.3" stroke-dasharray="1.8 1.1" fill="none"/>
<circle cx="259" cy="57.6" r="1.6" fill="#c00818"/>
<path d="M249.8,77.5 H268" stroke="#f050ff" stroke-width="6.5" opacity="0.65" fill="none" filter="url(#bl2)"/>
<path d="M249.8,77.5 H268" stroke="#5218f2" stroke-width="3" stroke-dasharray="6 1.6 3 1.6" fill="none" filter="url(#bl)"/>
<clipPath id="cb"><rect x="398.6" y="24.5" width="197.2" height="114"/></clipPath>
<g clip-path="url(#cb)">
<path d="M470.0,136.0 L470.0,91.9 L474.0,91.3 L478.0,90.8 L482.0,90.5 L486.0,90.2 L490.0,90.0 L494.0,89.9 L498.0,89.9 L502.0,90.2 L506.0,90.7 L510.0,91.3 L514.0,91.9 L518.0,92.7 L522.0,93.6 L526.0,94.6 L530.0,95.8 L534.0,97.1 L538.0,98.6 L542.0,100.1 L546.0,101.6 L550.0,103.2 L554.0,104.8 L558.0,106.4 L562.0,107.9 L566.0,109.3 L570.0,110.6 L574.0,111.8 L578.0,112.8 L582.0,113.8 L586.0,114.7 L590.0,115.5 L594.0,116.2 L597.0,136.0Z" fill="#d8c8f4" opacity="0.24" filter="url(#bl2)"/>
<path d="M399.2,136.5 L400.2,103.4 L401.2,117.6 L402.2,80.2 L403.2,122.8 L404.2,76.6 L405.2,136.5 L406.2,136.9 L407.2,114.9 L408.2,102.7 L409.2,112.2 L410.2,88.1 L411.2,136.5 L412.2,89.1 L413.2,132.7 L414.2,128.0 L415.2,121.5 L416.2,94.0 L417.2,122.2 L418.2,98.4 L419.2,111.6 L420.2,91.7 L421.2,116.7 L422.2,79.0 L423.2,122.0 L424.2,136.0 L425.2,113.9 L426.2,64.4 L427.2,105.6 L428.2,81.3 L429.2,115.8 L430.2,84.8 L431.2,68.4 L432.2,90.4 L433.2,108.6 L434.2,92.0 L435.2,112.5 L436.2,136.9 L437.2,116.2 L438.2,91.5 L439.2,108.8 L440.2,64.5 L441.2,102.7 L442.2,63.8 L443.2,105.7 L444.2,75.8 L445.2,120.0 L446.2,92.0 L447.2,104.6 L448.2,79.9 L449.2,101.8 L450.2,79.2 L451.2,61.5 L452.2,87.7 L453.2,100.2 L454.2,74.7 L455.2,131.4 L456.2,77.9 L457.2,108.9 L458.2,82.3 L459.2,104.0 L460.2,63.0 L461.2,122.6 L462.2,76.8 L463.2,102.2 L464.2,75.6 L465.2,115.8 L466.2,40.0 L467.2,104.3 L468.2,87.6 L469.2,97.0 L470.2,84.6 L471.2,108.1 L472.2,62.6 L473.2,112.2 L474.2,85.8 L475.2,31.0 L476.2,57.2 L477.2,105.5 L478.2,66.5 L479.2,127.7 L480.2,76.3 L481.2,108.2 L482.2,56.3 L483.2,101.2 L484.2,78.9 L485.2,104.7 L486.2,76.6 L487.2,104.7 L488.2,53.5 L489.2,105.9 L490.2,71.3 L491.2,92.2 L492.2,85.1 L493.2,104.7 L494.2,65.3 L495.2,110.3 L496.2,68.8 L497.2,115.1 L498.2,84.5 L499.2,95.1 L500.2,122.0 L501.2,95.3 L502.2,67.5 L503.2,105.7 L504.2,68.5 L505.2,93.7 L506.2,62.6 L507.2,52.0 L508.2,60.9 L509.2,94.7 L510.2,80.8 L511.2,101.8 L512.2,74.5 L513.2,104.4 L514.2,45.4 L515.2,104.8 L516.2,76.9 L517.2,96.6 L518.2,79.2 L519.2,98.5 L520.2,45.6 L521.2,95.2 L522.2,71.3 L523.2,98.6 L524.2,42.7 L525.2,55.0 L526.2,78.2 L527.2,88.1 L528.2,77.5 L529.2,115.0 L530.2,118.0 L531.2,86.8 L532.2,66.1 L533.2,91.2 L534.2,68.7 L535.2,89.9 L536.2,52.0 L537.2,91.2 L538.2,65.4 L539.2,93.3 L540.2,68.9 L541.2,94.2 L542.2,64.7 L543.2,85.7 L544.2,42.0 L545.2,96.0 L546.2,70.8 L547.2,104.0 L548.2,31.5 L549.2,85.4 L550.2,62.0 L551.2,81.5 L552.2,62.9 L553.2,37.7 L554.2,63.5 L555.2,81.3 L556.2,63.8 L557.2,86.2 L558.2,72.2 L559.2,86.7 L560.2,125.0 L561.2,93.6 L562.2,39.6 L563.2,84.9 L564.2,71.3 L565.2,89.4 L566.2,65.0 L567.2,100.8 L568.2,48.8 L569.2,93.4 L570.2,57.3 L571.2,104.2 L572.2,121.0 L573.2,93.9 L574.2,61.0 L575.2,102.9 L576.2,63.0 L577.2,112.5 L578.2,68.8 L579.2,89.7 L580.2,77.3 L581.2,118.8 L582.2,67.0 L583.2,93.9 L584.2,70.5 L585.2,127.0 L586.2,46.8 L587.2,104.4 L588.2,53.4 L589.2,123.6 L590.2,84.0 L591.2,102.8 L592.2,88.7 L593.2,55.0 L594.2,85.6 L595.2,110.0" fill="none" stroke="#050505" stroke-width="1.8" stroke-linejoin="miter" stroke-miterlimit="10"/>
<path d="M487.0,90.2 L488.0,90.1 L489.0,90.1 L490.0,90.0 L491.0,90.0 L492.0,90.0 L493.0,89.9 L494.0,89.9 L495.0,89.9 L496.0,89.9 L497.0,89.9 L498.0,89.9 L499.0,90.0 L500.0,90.1 L501.0,90.1 L502.0,90.2 L503.0,90.3 L504.0,90.5 L505.0,90.6 L506.0,90.7 L507.0,90.9 L508.0,91.0 L509.0,91.1 L510.0,91.3 L511.0,91.4 L512.0,91.6 L513.0,91.7 L514.0,91.9 L515.0,92.1 L516.0,92.2 L517.0,92.4 L518.0,92.7 L519.0,92.9 L520.0,93.1 L521.0,93.4 L522.0,93.6 L523.0,93.9 L524.0,94.1 L525.0,94.4 L526.0,94.6 L527.0,94.9 L528.0,95.2 L529.0,95.5 L530.0,95.8 L531.0,96.1 L532.0,96.4 L533.0,96.8 L534.0,97.1 L535.0,97.5 L536.0,97.9 L537.0,98.2 L538.0,98.6 L539.0,99.0 L540.0,99.4 L541.0,99.8 L542.0,100.1 L543.0,100.5 L544.0,100.9 L545.0,101.3 L546.0,101.6 L547.0,102.0 L548.0,102.4 L549.0,102.8 L550.0,103.2 L551.0,103.6 L552.0,104.0 L553.0,104.4 L554.0,104.8 L555.0,105.2 L556.0,105.6 L557.0,106.0 L558.0,106.4 L559.0,106.8 L560.0,107.1 L561.0,107.5 L562.0,107.9 L563.0,108.3 L564.0,108.6 L565.0,109.0 L566.0,109.3 L567.0,109.7 L568.0,110.0 L569.0,110.3 L570.0,110.6 L571.0,110.9 L572.0,111.2 L573.0,111.5 L574.0,111.8 L575.0,112.0 L576.0,112.3 L577.0,112.6 L578.0,112.8 L579.0,113.1 L580.0,113.3 L581.0,113.5 L582.0,113.8 L583.0,114.0 L584.0,114.2 L585.0,114.4 L586.0,114.7 L587.0,114.9 L588.0,115.1 L589.0,115.3 L590.0,115.5 L591.0,115.7 L592.0,115.9 L593.0,116.0 L594.0,116.2 L595.0,116.4 L596.0,116.6 L597.0,116.7 L598.0,116.9 L599.0,117.1 L600.0,117.2" fill="none" stroke="#ff70ff" stroke-width="6" opacity="0.55" filter="url(#bl2)"/>
<path d="M398,123.3 H597" fill="none" stroke="#8f8fff" stroke-width="6" opacity="0.45" filter="url(#bl2)"/>
<path d="M395.0,114.6 L396.0,114.2 L397.0,113.9 L398.0,113.5 L399.0,113.2 L400.0,112.9 L401.0,112.5 L402.0,112.2 L403.0,111.9 L404.0,111.5 L405.0,111.2 L406.0,110.9 L407.0,110.6 L408.0,110.2 L409.0,109.9 L410.0,109.6 L411.0,109.2 L412.0,108.9 L413.0,108.5 L414.0,108.2 L415.0,107.8 L416.0,107.5 L417.0,107.1 L418.0,106.7 L419.0,106.3 L420.0,105.8 L421.0,105.3 L422.0,104.9 L423.0,104.4 L424.0,103.9 L425.0,103.4 L426.0,102.9 L427.0,102.4 L428.0,102.0 L429.0,101.5 L430.0,101.1 L431.0,100.7 L432.0,100.3 L433.0,100.0 L434.0,99.7 L435.0,99.3 L436.0,99.1 L437.0,98.8 L438.0,98.5 L439.0,98.2 L440.0,98.0 L441.0,97.7 L442.0,97.5 L443.0,97.3 L444.0,97.0 L445.0,96.8 L446.0,96.6 L447.0,96.4 L448.0,96.1 L449.0,95.9 L450.0,95.7 L451.0,95.5 L452.0,95.2 L453.0,95.0 L454.0,94.8 L455.0,94.6 L456.0,94.4 L457.0,94.2 L458.0,94.0 L459.0,93.8 L460.0,93.6 L461.0,93.4 L462.0,93.2 L463.0,93.0 L464.0,92.9 L465.0,92.7 L466.0,92.5 L467.0,92.4 L468.0,92.2 L469.0,92.0 L470.0,91.9 L471.0,91.7 L472.0,91.5 L473.0,91.4 L474.0,91.3 L475.0,91.1 L476.0,91.0 L477.0,90.9 L478.0,90.8 L479.0,90.7 L480.0,90.6 L481.0,90.5 L482.0,90.5 L483.0,90.4 L484.0,90.3 L485.0,90.3 L486.0,90.2 L487.0,90.2 L488.0,90.1 L489.0,90.1 L490.0,90.0 L491.0,90.0 L492.0,90.0 L493.0,89.9 L494.0,89.9 L495.0,89.9 L496.0,89.9 L497.0,89.9 L498.0,89.9 L499.0,90.0 L500.0,90.1 L501.0,90.1 L502.0,90.2 L503.0,90.3 L504.0,90.5 L505.0,90.6 L506.0,90.7 L507.0,90.9 L508.0,91.0 L509.0,91.1 L510.0,91.3 L511.0,91.4 L512.0,91.6 L513.0,91.7 L514.0,91.9 L515.0,92.1 L516.0,92.2 L517.0,92.4 L518.0,92.7 L519.0,92.9 L520.0,93.1 L521.0,93.4 L522.0,93.6 L523.0,93.9 L524.0,94.1 L525.0,94.4 L526.0,94.6 L527.0,94.9 L528.0,95.2 L529.0,95.5 L530.0,95.8 L531.0,96.1 L532.0,96.4 L533.0,96.8 L534.0,97.1 L535.0,97.5 L536.0,97.9 L537.0,98.2 L538.0,98.6 L539.0,99.0 L540.0,99.4 L541.0,99.8 L542.0,100.1 L543.0,100.5 L544.0,100.9 L545.0,101.3 L546.0,101.6 L547.0,102.0 L548.0,102.4 L549.0,102.8 L550.0,103.2 L551.0,103.6 L552.0,104.0 L553.0,104.4 L554.0,104.8 L555.0,105.2 L556.0,105.6 L557.0,106.0 L558.0,106.4 L559.0,106.8 L560.0,107.1 L561.0,107.5 L562.0,107.9 L563.0,108.3 L564.0,108.6 L565.0,109.0 L566.0,109.3 L567.0,109.7 L568.0,110.0 L569.0,110.3 L570.0,110.6 L571.0,110.9 L572.0,111.2 L573.0,111.5 L574.0,111.8 L575.0,112.0 L576.0,112.3 L577.0,112.6 L578.0,112.8 L579.0,113.1 L580.0,113.3 L581.0,113.5 L582.0,113.8 L583.0,114.0 L584.0,114.2 L585.0,114.4 L586.0,114.7 L587.0,114.9 L588.0,115.1 L589.0,115.3 L590.0,115.5 L591.0,115.7 L592.0,115.9 L593.0,116.0 L594.0,116.2 L595.0,116.4 L596.0,116.6 L597.0,116.7 L598.0,116.9 L599.0,117.1 L600.0,117.2" fill="none" stroke="#a82ae6" stroke-width="2.6"/>
<path d="M398,123.3 H597" fill="none" stroke="#1a22ff" stroke-width="2.8"/>
<path d="M470.0,123.3 L471.0,123.3 L472.0,123.3 L473.0,123.3 L474.0,123.3 L475.0,123.2 L476.0,123.2 L477.0,123.2 L478.0,123.2 L479.0,123.1 L480.0,123.1 L481.0,123.1 L482.0,123.0 L483.0,123.0 L484.0,122.9 L485.0,122.9 L486.0,122.8 L487.0,122.8 L488.0,122.7 L489.0,122.6 L490.0,122.5 L491.0,122.5 L492.0,122.4 L493.0,122.3 L494.0,122.2 L495.0,122.1 L496.0,122.0 L497.0,121.9 L498.0,121.8 L499.0,121.6 L500.0,121.4 L501.0,121.3 L502.0,121.1 L503.0,120.9 L504.0,120.7 L505.0,120.5 L506.0,120.3 L507.0,120.1 L508.0,119.8 L509.0,119.6 L510.0,119.4 L511.0,119.1 L512.0,118.8 L513.0,118.6 L514.0,118.3 L515.0,118.0 L516.0,117.7 L517.0,117.4 L518.0,117.1 L519.0,116.8 L520.0,116.5 L521.0,116.2 L522.0,115.9 L523.0,115.5 L524.0,115.2 L525.0,114.8 L526.0,114.4 L527.0,114.0 L528.0,113.5 L529.0,113.0 L530.0,112.5 L531.0,111.9 L532.0,111.3 L533.0,110.6 L534.0,110.0 L535.0,109.3 L536.0,108.6 L537.0,107.9 L538.0,107.3 L539.0,106.6 L540.0,106.0 L541.0,105.4 L542.0,104.8 L543.0,104.1 L544.0,103.5 L545.0,102.9 L546.0,102.2 L547.0,101.6 L548.0,101.1 L549.0,100.5 L550.0,100.0 L551.0,99.5 L552.0,99.0 L553.0,98.5 L554.0,98.0 L555.0,97.6 L556.0,97.2 L557.0,96.8 L558.0,96.4 L559.0,96.1 L560.0,95.8 L561.0,95.6 L562.0,95.3 L563.0,95.1 L564.0,94.9 L565.0,94.7 L566.0,94.5 L567.0,94.4 L568.0,94.4 L569.0,94.4 L570.0,94.5 L571.0,94.6 L572.0,94.7 L573.0,94.9 L574.0,95.1 L575.0,95.3 L576.0,95.5 L577.0,95.7 L578.0,96.0 L579.0,96.3 L580.0,96.7 L581.0,97.1 L582.0,97.6 L583.0,98.0 L584.0,98.5 L585.0,99.0 L586.0,99.5 L587.0,100.1 L588.0,100.6 L589.0,101.3 L590.0,101.9 L591.0,102.6 L592.0,103.3 L593.0,104.0 L594.0,104.8 L595.0,105.6 L596.0,106.4 L597.0,107.3 L598.0,108.2 L599.0,109.1 L600.0,110.0" fill="none" stroke="#1a3cff" stroke-width="2.6"/>
<path d="M395.0,114.6 L396.0,114.2 L397.0,113.9 L398.0,113.5 L399.0,113.2 L400.0,112.9 L401.0,112.5 L402.0,112.2 L403.0,111.9 L404.0,111.5 L405.0,111.2 L406.0,110.9 L407.0,110.6 L408.0,110.2 L409.0,109.9 L410.0,109.6 L411.0,109.2 L412.0,108.9 L413.0,108.5 L414.0,108.2 L415.0,107.8 L416.0,107.5 L417.0,107.1 L418.0,106.7 L419.0,106.3 L420.0,105.8 L421.0,105.3 L422.0,104.9 L423.0,104.4 L424.0,103.9 L425.0,103.4 L426.0,102.9 L427.0,102.4 L428.0,102.0 L429.0,101.5 L430.0,101.1 L431.0,100.7 L432.0,100.3 L433.0,100.0 L434.0,99.7 L435.0,99.3 L436.0,99.1 L437.0,98.8 L438.0,98.5 L439.0,98.2 L440.0,98.0 L441.0,97.7 L442.0,97.5 L443.0,97.3 L444.0,97.0 L445.0,96.8 L446.0,96.6 L447.0,96.4 L448.0,96.1 L449.0,95.9 L450.0,95.7 L451.0,95.5 L452.0,95.2 L453.0,95.0 L454.0,94.8 L455.0,94.6 L456.0,94.4 L457.0,94.2 L458.0,94.0 L459.0,93.8 L460.0,93.6 L461.0,93.4 L462.0,93.2 L463.0,93.0 L464.0,92.9 L465.0,92.7 L466.0,92.5 L467.0,92.4 L468.0,92.2 L469.0,92.0 L470.0,91.9 L471.0,91.7 L472.0,91.6 L473.0,91.4 L474.0,91.3 L475.0,91.1 L476.0,91.0 L477.0,90.9 L478.0,90.8 L479.0,90.7 L480.0,90.6 L481.0,90.5 L482.0,90.5 L483.0,90.4 L484.0,90.3 L485.0,90.3 L486.0,90.2 L487.0,90.2 L488.0,90.1 L489.0,90.1 L490.0,90.0 L491.0,90.0 L492.0,89.9 L493.0,89.9 L494.0,89.8 L495.0,89.7 L496.0,89.7 L497.0,89.6 L498.0,89.6 L499.0,89.5 L500.0,89.5 L501.0,89.4 L502.0,89.4 L503.0,89.3 L504.0,89.3 L505.0,89.2 L506.0,89.1 L507.0,89.1 L508.0,89.0 L509.0,88.9 L510.0,88.8 L511.0,88.8 L512.0,88.7 L513.0,88.5 L514.0,88.4 L515.0,88.3 L516.0,88.1 L517.0,87.9 L518.0,87.7 L519.0,87.5 L520.0,87.3 L521.0,87.1 L522.0,86.8 L523.0,86.6 L524.0,86.4 L525.0,86.1 L526.0,85.9 L527.0,85.7 L528.0,85.4 L529.0,85.2 L530.0,84.9 L531.0,84.6 L532.0,84.3 L533.0,84.0 L534.0,83.7 L535.0,83.4 L536.0,83.1 L537.0,82.8 L538.0,82.5 L539.0,82.2 L540.0,81.9 L541.0,81.7 L542.0,81.4 L543.0,81.2 L544.0,81.0 L545.0,80.7 L546.0,80.5 L547.0,80.2 L548.0,80.0 L549.0,79.8 L550.0,79.5 L551.0,79.3 L552.0,79.1 L553.0,79.0 L554.0,78.8 L555.0,78.7 L556.0,78.6 L557.0,78.6 L558.0,78.6 L559.0,78.7 L560.0,78.7 L561.0,78.8 L562.0,79.0 L563.0,79.1 L564.0,79.3 L565.0,79.5 L566.0,79.7 L567.0,79.9 L568.0,80.2 L569.0,80.4 L570.0,80.7 L571.0,81.1 L572.0,81.5 L573.0,81.9 L574.0,82.4 L575.0,83.0 L576.0,83.5 L577.0,84.1 L578.0,84.7 L579.0,85.4 L580.0,86.0 L581.0,86.6 L582.0,87.3 L583.0,88.1 L584.0,88.9 L585.0,89.7 L586.0,90.6 L587.0,91.5 L588.0,92.4 L589.0,93.3 L590.0,94.2 L591.0,95.1 L592.0,96.1 L593.0,97.0 L594.0,98.0 L595.0,98.9 L596.0,99.9 L597.0,100.9 L598.0,101.9 L599.0,103.0 L600.0,104.0" fill="none" stroke="#bb0414" stroke-width="2.3"/>
</g>
<rect x="398.6" y="24.6" width="197.2" height="113.8" fill="none" stroke="#050505" stroke-width="2.8"/>
<line x1="398.6" y1="139" x2="398.6" y2="142.6" stroke="#050505" stroke-width="2"/>
<line x1="423.2" y1="139" x2="423.2" y2="141.6" stroke="#050505" stroke-width="2"/>
<line x1="447.9" y1="139" x2="447.9" y2="142.6" stroke="#050505" stroke-width="2"/>
<line x1="472.6" y1="139" x2="472.6" y2="141.6" stroke="#050505" stroke-width="2"/>
<line x1="497.2" y1="139" x2="497.2" y2="142.6" stroke="#050505" stroke-width="2"/>
<line x1="521.9" y1="139" x2="521.9" y2="141.6" stroke="#050505" stroke-width="2"/>
<line x1="546.5" y1="139" x2="546.5" y2="142.6" stroke="#050505" stroke-width="2"/>
<line x1="571.1" y1="139" x2="571.1" y2="141.6" stroke="#050505" stroke-width="2"/>
<line x1="595.8" y1="139" x2="595.8" y2="142.6" stroke="#050505" stroke-width="2"/>
<text class="b" x="382.0" y="159.1" font-size="17.6" textLength="32.2" lengthAdjust="spacingAndGlyphs" >1000</text>
<text class="b" x="431.6" y="159.1" font-size="17.6" textLength="32.2" lengthAdjust="spacingAndGlyphs" >1200</text>
<text class="b" x="481.6" y="159.1" font-size="17.6" textLength="32.2" lengthAdjust="spacingAndGlyphs" >1400</text>
<text class="b" x="531.1" y="159.1" font-size="17.6" textLength="32.2" lengthAdjust="spacingAndGlyphs" >1600</text>
<text class="b" x="580.2" y="159.1" font-size="17.6" textLength="32.2" lengthAdjust="spacingAndGlyphs" >1800</text>
<text class="b" x="426.9" y="177.7" font-size="16.7" textLength="91.2" lengthAdjust="spacingAndGlyphs" >Wavenumber</text>
<text class="b" x="525.4" y="178.4" font-size="10" textLength="3.0" lengthAdjust="spacingAndGlyphs" >(</text>
<text class="b" x="529.8" y="177.7" font-size="16.7" textLength="19.8" lengthAdjust="spacingAndGlyphs" >cm</text>
<text class="b" x="551.2" y="173.0" font-size="17.3" textLength="11.9" lengthAdjust="spacingAndGlyphs" >-1</text>
<text class="b" x="564.2" y="179.0" font-size="10" textLength="3.0" lengthAdjust="spacingAndGlyphs" >)</text>
<text class="b" transform="translate(386.0,144.7) rotate(-90)" font-size="17" textLength="105.4" lengthAdjust="spacingAndGlyphs">Intensity (a.u.)</text>
<line x1="7.4" y1="610" x2="7.4" y2="617.6" stroke="#000" stroke-width="3.6" stroke-linecap="round"/>
<line x1="30.6" y1="610" x2="30.6" y2="614.8" stroke="#000" stroke-width="3.2" stroke-linecap="round"/>
<line x1="53.9" y1="610" x2="53.9" y2="614.8" stroke="#000" stroke-width="3.2" stroke-linecap="round"/>
<line x1="77.1" y1="610" x2="77.1" y2="614.8" stroke="#000" stroke-width="3.2" stroke-linecap="round"/>
<line x1="100.3" y1="610" x2="100.3" y2="614.8" stroke="#000" stroke-width="3.2" stroke-linecap="round"/>
<line x1="123.6" y1="610" x2="123.6" y2="617.6" stroke="#000" stroke-width="3.6" stroke-linecap="round"/>
<line x1="146.8" y1="610" x2="146.8" y2="614.8" stroke="#000" stroke-width="3.2" stroke-linecap="round"/>
<line x1="170.0" y1="610" x2="170.0" y2="614.8" stroke="#000" stroke-width="3.2" stroke-linecap="round"/>
<line x1="193.2" y1="610" x2="193.2" y2="614.8" stroke="#000" stroke-width="3.2" stroke-linecap="round"/>
<line x1="216.5" y1="610" x2="216.5" y2="614.8" stroke="#000" stroke-width="3.2" stroke-linecap="round"/>
<line x1="239.7" y1="610" x2="239.7" y2="617.6" stroke="#000" stroke-width="3.6" stroke-linecap="round"/>
<line x1="262.9" y1="610" x2="262.9" y2="614.8" stroke="#000" stroke-width="3.2" stroke-linecap="round"/>
<line x1="286.2" y1="610" x2="286.2" y2="614.8" stroke="#000" stroke-width="3.2" stroke-linecap="round"/>
<line x1="309.4" y1="610" x2="309.4" y2="614.8" stroke="#000" stroke-width="3.2" stroke-linecap="round"/>
<line x1="332.6" y1="610" x2="332.6" y2="614.8" stroke="#000" stroke-width="3.2" stroke-linecap="round"/>
<line x1="355.8" y1="610" x2="355.8" y2="617.6" stroke="#000" stroke-width="3.6" stroke-linecap="round"/>
<line x1="379.1" y1="610" x2="379.1" y2="614.8" stroke="#000" stroke-width="3.2" stroke-linecap="round"/>
<line x1="402.3" y1="610" x2="402.3" y2="614.8" stroke="#000" stroke-width="3.2" stroke-linecap="round"/>
<line x1="425.5" y1="610" x2="425.5" y2="614.8" stroke="#000" stroke-width="3.2" stroke-linecap="round"/>
<line x1="448.8" y1="610" x2="448.8" y2="614.8" stroke="#000" stroke-width="3.2" stroke-linecap="round"/>
<line x1="472.0" y1="610" x2="472.0" y2="617.6" stroke="#000" stroke-width="3.6" stroke-linecap="round"/>
<line x1="622.2" y1="315.3" x2="626.3" y2="315.3" stroke="#000" stroke-width="4.4" stroke-linecap="round"/>
<line x1="622" y1="297.2" x2="623.6" y2="297.2" stroke="#000" stroke-width="3.8" stroke-linecap="round"/>
<line x1="622" y1="279.0" x2="623.6" y2="279.0" stroke="#000" stroke-width="3.8" stroke-linecap="round"/>
<line x1="622" y1="260.9" x2="623.6" y2="260.9" stroke="#000" stroke-width="3.8" stroke-linecap="round"/>
<line x1="622" y1="242.7" x2="623.6" y2="242.7" stroke="#000" stroke-width="3.8" stroke-linecap="round"/>
<line x1="622.2" y1="224.6" x2="626.3" y2="224.6" stroke="#000" stroke-width="4.4" stroke-linecap="round"/>
<line x1="622" y1="206.4" x2="623.6" y2="206.4" stroke="#000" stroke-width="3.8" stroke-linecap="round"/>
<line x1="622" y1="188.3" x2="623.6" y2="188.3" stroke="#000" stroke-width="3.8" stroke-linecap="round"/>
<line x1="622" y1="170.1" x2="623.6" y2="170.1" stroke="#000" stroke-width="3.8" stroke-linecap="round"/>
<line x1="622" y1="152.0" x2="623.6" y2="152.0" stroke="#000" stroke-width="3.8" stroke-linecap="round"/>
<line x1="622.2" y1="133.8" x2="626.3" y2="133.8" stroke="#000" stroke-width="4.4" stroke-linecap="round"/>
<line x1="622" y1="115.7" x2="623.6" y2="115.7" stroke="#000" stroke-width="3.8" stroke-linecap="round"/>
<line x1="622" y1="97.5" x2="623.6" y2="97.5" stroke="#000" stroke-width="3.8" stroke-linecap="round"/>
<line x1="622" y1="79.4" x2="623.6" y2="79.4" stroke="#000" stroke-width="3.8" stroke-linecap="round"/>
<line x1="622" y1="61.2" x2="623.6" y2="61.2" stroke="#000" stroke-width="3.8" stroke-linecap="round"/>
<line x1="622.2" y1="43.1" x2="626.3" y2="43.1" stroke="#000" stroke-width="4.4" stroke-linecap="round"/>
<line x1="622" y1="24.9" x2="623.6" y2="24.9" stroke="#000" stroke-width="3.8" stroke-linecap="round"/>
<line x1="622" y1="6.8" x2="623.6" y2="6.8" stroke="#000" stroke-width="3.8" stroke-linecap="round"/>
<line x1="603.0" y1="361.0" x2="608.5" y2="361.0" stroke="#000" stroke-width="4" stroke-linecap="round"/>
<line x1="565.1" y1="433.0" x2="570.6" y2="433.0" stroke="#000" stroke-width="4" stroke-linecap="round"/>
<line x1="527.7" y1="504.0" x2="533.2" y2="504.0" stroke="#000" stroke-width="4" stroke-linecap="round"/>
<line x1="490.1" y1="575.5" x2="495.6" y2="575.5" stroke="#000" stroke-width="4" stroke-linecap="round"/>
<text class="b" x="1.8" y="643.3" font-size="27.2" textLength="11.3" lengthAdjust="spacingAndGlyphs" >0</text>
<text class="b" x="106.2" y="643.3" font-size="27.2" textLength="34.6" lengthAdjust="spacingAndGlyphs" >500</text>
<text class="b" x="216.8" y="643.3" font-size="27.2" textLength="45.2" lengthAdjust="spacingAndGlyphs" >1000</text>
<text class="b" x="332.9" y="643.3" font-size="27.2" textLength="45.0" lengthAdjust="spacingAndGlyphs" >1500</text>
<text class="b" x="448.1" y="643.3" font-size="27.2" textLength="46.8" lengthAdjust="spacingAndGlyphs" >2000</text>
<text class="b" x="630.4" y="321.5" font-size="23.2" textLength="10.4" lengthAdjust="spacingAndGlyphs" >0</text>
<text class="b" x="630.4" y="230.8" font-size="23.2" textLength="29.9" lengthAdjust="spacingAndGlyphs" >500</text>
<text class="b" x="630.4" y="140.0" font-size="23.2" textLength="39.9" lengthAdjust="spacingAndGlyphs" >1000</text>
<text class="b" x="630.4" y="49.3" font-size="23.2" textLength="39.9" lengthAdjust="spacingAndGlyphs" >1500</text>
<text class="b" x="158.7" y="675.6" font-size="25.5" textLength="115.1" lengthAdjust="spacingAndGlyphs" >Wavelength</text>
<text class="b" x="282.0" y="675.6" font-size="25.5" textLength="27.4" lengthAdjust="spacingAndGlyphs" >cm</text>
<text class="b" x="311.9" y="668.6" font-size="14" textLength="9.9" lengthAdjust="spacingAndGlyphs" >-1</text>
<text class="b" transform="translate(692.8,251.4) rotate(-90)" font-size="26.6" textLength="169.2" lengthAdjust="spacingAndGlyphs">Intensity (a.u.)</text>
<text class="b" transform="matrix(0.55,-1,0.82,0,691.2,532.3)" stroke="#0a0a0a" stroke-width="0.8" font-size="22.4" textLength="128.4" lengthAdjust="spacing">Nanohybrids</text>
<text class="bi" transform="translate(617.3,371.1) skewX(-7)" font-size="20.6" textLength="135.5" lengthAdjust="spacingAndGlyphs">NTiO2-aNCNT</text>
<text class="bi" transform="translate(582.2,442.4) skewX(-7)" font-size="20.6" textLength="104" lengthAdjust="spacingAndGlyphs">TiO2-aCNT</text>
<text class="bi" transform="translate(545.3,513.9) skewX(-7)" font-size="20.6" textLength="117" lengthAdjust="spacingAndGlyphs">TiO2-aNCNT</text>
<text class="bi" transform="translate(509.6,585.1) skewX(-7)" font-size="20.6" textLength="149.5" lengthAdjust="spacingAndGlyphs">CommercialTiO2</text>
<text x="278" y="232.7" font-size="30" text-anchor="middle">(a)</text>
<text x="493.7" y="238.6" font-size="31" text-anchor="middle">(b)</text>
</svg></body></html>
